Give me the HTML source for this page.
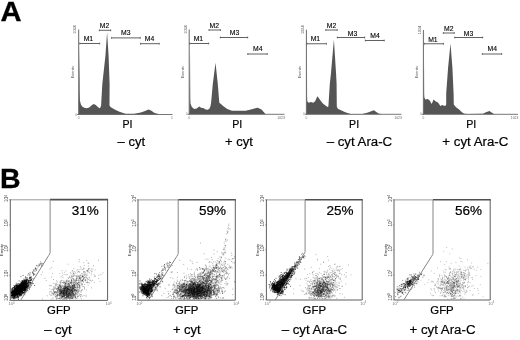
<!DOCTYPE html>
<html><head><meta charset="utf-8"><style>
html,body{margin:0;padding:0;background:#fff;}
body{width:520px;height:340px;overflow:hidden;}
svg{display:block;filter:blur(0.4px);font-family:"Liberation Sans", sans-serif;}
</style></head><body>
<svg width="520" height="340" viewBox="0 0 520 340">
<defs><filter id="bl" x="-5%" y="-5%" width="110%" height="110%"><feGaussianBlur stdDeviation="0.3"/></filter></defs>
<rect width="520" height="340" fill="#fff"/>
<text x="0.50" y="20.70" font-size="27" text-anchor="start" font-weight="bold" fill="#000" transform="scale(1.08 1)" stroke="#000" stroke-width="0.3">A</text>
<text x="-0.10" y="187.60" font-size="28.5" text-anchor="start" font-weight="bold" fill="#000" stroke="#000" stroke-width="0.3">B</text>
<polygon points="78.70,114.50 79.30,46.00 79.70,92.00 79.90,100.40 80.90,104.50 82.20,106.50 84.20,107.80 86.70,108.20 89.20,107.40 91.70,105.30 93.70,104.10 95.80,104.90 97.80,107.00 99.50,108.20 100.40,107.50 101.10,105.60 102.30,84.20 105.40,56.00 107.10,32.20 108.60,56.00 109.60,84.20 109.50,105.60 110.50,107.00 114.70,109.40 119.40,111.80 124.00,113.20 126.00,113.70 134.00,113.80 140.80,112.50 145.00,111.00 148.60,109.60 151.00,110.60 154.60,113.10 158.70,114.10 158.70,114.50" fill="#555555"/>
<line x1="78.7" y1="29.5" x2="78.7" y2="115.0" stroke="#6a6a6a" stroke-width="1"/>
<line x1="77.2" y1="114.5" x2="172.5" y2="114.5" stroke="#666" stroke-width="0.9"/>
<text x="76.40" y="29.50" font-size="3.8" text-anchor="middle" font-weight="normal" fill="#555" transform="rotate(-90 76.4 29.5)">1024</text>
<text x="73.70" y="72.20" font-size="4.0" text-anchor="middle" font-weight="normal" fill="#555" transform="rotate(-90 73.7 72.2)">Events</text>
<text x="76.20" y="115.50" font-size="3.2" text-anchor="middle" font-weight="normal" fill="#777" >0</text>
<text x="78.70" y="119.00" font-size="3.2" text-anchor="middle" font-weight="normal" fill="#777" >0</text>
<text x="172.80" y="119.10" font-size="3.4" text-anchor="end" font-weight="normal" fill="#666" >1</text>
<line x1="79.5" y1="43.5" x2="100" y2="43.5" stroke="#585858" stroke-width="0.95"/>
<line x1="79.8" y1="42.5" x2="79.8" y2="44.5" stroke="#585858" stroke-width="0.7"/>
<line x1="99.7" y1="42.5" x2="99.7" y2="44.5" stroke="#585858" stroke-width="0.7"/>
<text x="88.40" y="40.60" font-size="6.8" text-anchor="middle" font-weight="normal" fill="#000" stroke="#000" stroke-width="0.12">M1</text>
<line x1="99" y1="30.3" x2="111" y2="30.3" stroke="#585858" stroke-width="0.95"/>
<line x1="99.3" y1="29.3" x2="99.3" y2="31.3" stroke="#585858" stroke-width="0.7"/>
<line x1="110.7" y1="29.3" x2="110.7" y2="31.3" stroke="#585858" stroke-width="0.7"/>
<text x="104.50" y="28.00" font-size="6.8" text-anchor="middle" font-weight="normal" fill="#000" stroke="#000" stroke-width="0.12">M2</text>
<line x1="111.3" y1="37.9" x2="140.5" y2="37.9" stroke="#585858" stroke-width="0.95"/>
<line x1="111.6" y1="36.9" x2="111.6" y2="38.9" stroke="#585858" stroke-width="0.7"/>
<line x1="140.2" y1="36.9" x2="140.2" y2="38.9" stroke="#585858" stroke-width="0.7"/>
<text x="125.70" y="35.00" font-size="6.8" text-anchor="middle" font-weight="normal" fill="#000" stroke="#000" stroke-width="0.12">M3</text>
<line x1="140.2" y1="43.7" x2="159.5" y2="43.7" stroke="#585858" stroke-width="0.95"/>
<line x1="140.5" y1="42.7" x2="140.5" y2="44.7" stroke="#585858" stroke-width="0.7"/>
<line x1="159.2" y1="42.7" x2="159.2" y2="44.7" stroke="#585858" stroke-width="0.7"/>
<text x="149.60" y="40.80" font-size="6.8" text-anchor="middle" font-weight="normal" fill="#000" stroke="#000" stroke-width="0.12">M4</text>
<text x="127.50" y="127.90" font-size="10.6" text-anchor="middle" font-weight="normal" fill="#000" stroke="#000" stroke-width="0.2">PI</text>
<text x="131.30" y="146.30" font-size="13" text-anchor="middle" font-weight="normal" fill="#000" stroke="#000" stroke-width="0.2">&#8211; cyt</text>
<polygon points="189.20,114.30 190.00,50.00 190.30,98.00 190.50,103.60 191.80,106.90 194.20,109.00 196.70,108.60 199.20,106.50 201.20,107.80 203.70,108.20 205.80,109.40 207.80,109.80 209.50,108.60 210.40,106.60 211.10,102.80 212.80,84.00 215.50,62.80 217.80,84.00 219.30,102.80 221.20,104.20 223.10,106.10 227.30,108.90 232.00,110.80 245.60,110.80 250.90,109.60 256.20,108.00 257.80,107.80 261.50,109.60 265.70,114.20 265.70,114.30" fill="#555555"/>
<line x1="189.2" y1="29.5" x2="189.2" y2="114.8" stroke="#6a6a6a" stroke-width="1"/>
<line x1="187.7" y1="114.3" x2="284.5" y2="114.3" stroke="#666" stroke-width="0.9"/>
<text x="186.90" y="29.50" font-size="3.8" text-anchor="middle" font-weight="normal" fill="#555" transform="rotate(-90 186.89999999999998 29.5)">1024</text>
<text x="184.20" y="72.20" font-size="4.0" text-anchor="middle" font-weight="normal" fill="#555" transform="rotate(-90 184.2 72.2)">Events</text>
<text x="186.70" y="115.30" font-size="3.2" text-anchor="middle" font-weight="normal" fill="#777" >0</text>
<text x="189.20" y="118.80" font-size="3.2" text-anchor="middle" font-weight="normal" fill="#777" >0</text>
<text x="284.80" y="118.90" font-size="3.4" text-anchor="end" font-weight="normal" fill="#666" >1023</text>
<line x1="189.5" y1="43.5" x2="209" y2="43.5" stroke="#585858" stroke-width="0.95"/>
<line x1="189.8" y1="42.5" x2="189.8" y2="44.5" stroke="#585858" stroke-width="0.7"/>
<line x1="208.7" y1="42.5" x2="208.7" y2="44.5" stroke="#585858" stroke-width="0.7"/>
<text x="198.40" y="40.75" font-size="6.8" text-anchor="middle" font-weight="normal" fill="#000" stroke="#000" stroke-width="0.12">M1</text>
<line x1="208.75" y1="30" x2="220.75" y2="30" stroke="#585858" stroke-width="0.95"/>
<line x1="209.05" y1="29" x2="209.05" y2="31" stroke="#585858" stroke-width="0.7"/>
<line x1="220.45" y1="29" x2="220.45" y2="31" stroke="#585858" stroke-width="0.7"/>
<text x="214.25" y="27.50" font-size="6.8" text-anchor="middle" font-weight="normal" fill="#000" stroke="#000" stroke-width="0.12">M2</text>
<line x1="220" y1="37.5" x2="248" y2="37.5" stroke="#585858" stroke-width="0.95"/>
<line x1="220.3" y1="36.5" x2="220.3" y2="38.5" stroke="#585858" stroke-width="0.7"/>
<line x1="247.7" y1="36.5" x2="247.7" y2="38.5" stroke="#585858" stroke-width="0.7"/>
<text x="234.50" y="35.00" font-size="6.8" text-anchor="middle" font-weight="normal" fill="#000" stroke="#000" stroke-width="0.12">M3</text>
<line x1="247.5" y1="54" x2="267.5" y2="54" stroke="#585858" stroke-width="0.95"/>
<line x1="247.8" y1="53" x2="247.8" y2="55" stroke="#585858" stroke-width="0.7"/>
<line x1="267.2" y1="53" x2="267.2" y2="55" stroke="#585858" stroke-width="0.7"/>
<text x="257.75" y="51.00" font-size="6.8" text-anchor="middle" font-weight="normal" fill="#000" stroke="#000" stroke-width="0.12">M4</text>
<text x="237.30" y="127.90" font-size="10.6" text-anchor="middle" font-weight="normal" fill="#000" stroke="#000" stroke-width="0.2">PI</text>
<text x="238.90" y="146.30" font-size="13" text-anchor="middle" font-weight="normal" fill="#000" stroke="#000" stroke-width="0.2">+ cyt</text>
<polygon points="306.40,114.30 306.90,42.00 307.10,96.00 307.30,101.20 308.60,102.80 311.10,102.00 313.10,102.80 315.20,101.20 316.40,98.30 317.50,96.20 318.90,98.30 320.50,100.40 322.60,103.20 325.10,105.30 327.50,106.90 328.40,106.60 329.80,84.00 330.90,74.00 333.90,39.40 336.10,74.00 336.60,84.00 336.80,106.60 337.80,108.70 341.50,110.40 345.30,112.20 349.10,113.60 350.80,113.90 362.30,113.90 368.00,112.50 373.80,110.20 378.50,113.50 382.00,114.30 382.00,114.30" fill="#555555"/>
<line x1="306.4" y1="29.7" x2="306.4" y2="114.8" stroke="#6a6a6a" stroke-width="1"/>
<line x1="304.9" y1="114.3" x2="401.5" y2="114.3" stroke="#666" stroke-width="0.9"/>
<text x="304.10" y="29.70" font-size="3.8" text-anchor="middle" font-weight="normal" fill="#555" transform="rotate(-90 304.09999999999997 29.7)">1024</text>
<text x="301.40" y="72.20" font-size="4.0" text-anchor="middle" font-weight="normal" fill="#555" transform="rotate(-90 301.4 72.2)">Events</text>
<text x="303.90" y="115.30" font-size="3.2" text-anchor="middle" font-weight="normal" fill="#777" >0</text>
<text x="306.40" y="118.80" font-size="3.2" text-anchor="middle" font-weight="normal" fill="#777" >0</text>
<text x="401.80" y="118.90" font-size="3.4" text-anchor="end" font-weight="normal" fill="#666" >1023</text>
<line x1="306.5" y1="43.75" x2="326.75" y2="43.75" stroke="#585858" stroke-width="0.95"/>
<line x1="306.8" y1="42.75" x2="306.8" y2="44.75" stroke="#585858" stroke-width="0.7"/>
<line x1="326.45" y1="42.75" x2="326.45" y2="44.75" stroke="#585858" stroke-width="0.7"/>
<text x="315.40" y="40.75" font-size="6.8" text-anchor="middle" font-weight="normal" fill="#000" stroke="#000" stroke-width="0.12">M1</text>
<line x1="325.5" y1="30" x2="337.5" y2="30" stroke="#585858" stroke-width="0.95"/>
<line x1="325.8" y1="29" x2="325.8" y2="31" stroke="#585858" stroke-width="0.7"/>
<line x1="337.2" y1="29" x2="337.2" y2="31" stroke="#585858" stroke-width="0.7"/>
<text x="331.60" y="27.50" font-size="6.8" text-anchor="middle" font-weight="normal" fill="#000" stroke="#000" stroke-width="0.12">M2</text>
<line x1="337" y1="37.5" x2="365" y2="37.5" stroke="#585858" stroke-width="0.95"/>
<line x1="337.3" y1="36.5" x2="337.3" y2="38.5" stroke="#585858" stroke-width="0.7"/>
<line x1="364.7" y1="36.5" x2="364.7" y2="38.5" stroke="#585858" stroke-width="0.7"/>
<text x="352.50" y="35.50" font-size="6.8" text-anchor="middle" font-weight="normal" fill="#000" stroke="#000" stroke-width="0.12">M3</text>
<line x1="365" y1="40.5" x2="384.5" y2="40.5" stroke="#585858" stroke-width="0.95"/>
<line x1="365.3" y1="39.5" x2="365.3" y2="41.5" stroke="#585858" stroke-width="0.7"/>
<line x1="384.2" y1="39.5" x2="384.2" y2="41.5" stroke="#585858" stroke-width="0.7"/>
<text x="375.00" y="38.00" font-size="6.8" text-anchor="middle" font-weight="normal" fill="#000" stroke="#000" stroke-width="0.12">M4</text>
<text x="354.10" y="127.60" font-size="10.6" text-anchor="middle" font-weight="normal" fill="#000" stroke="#000" stroke-width="0.2">PI</text>
<text x="359.40" y="146.30" font-size="13.25" text-anchor="middle" font-weight="normal" fill="#000" stroke="#000" stroke-width="0.2">&#8211; cyt Ara-C</text>
<polygon points="423.40,114.30 424.00,58.00 424.20,94.00 424.40,97.60 425.30,99.60 427.80,99.10 429.70,100.50 431.70,103.90 433.60,99.60 435.50,101.20 438.00,102.50 440.40,105.90 442.30,104.90 443.30,105.40 445.20,105.90 446.20,104.50 446.20,93.40 448.10,67.50 450.50,43.60 452.40,67.50 453.60,93.40 453.80,104.50 456.00,107.20 459.10,109.50 462.20,112.60 464.50,113.70 468.00,114.00 483.00,113.70 485.40,112.50 489.40,111.10 493.50,113.70 495.00,114.30 495.00,114.30" fill="#555555"/>
<line x1="423.4" y1="30" x2="423.4" y2="114.8" stroke="#6a6a6a" stroke-width="1"/>
<line x1="421.9" y1="114.3" x2="518.0" y2="114.3" stroke="#666" stroke-width="0.9"/>
<text x="421.10" y="30.00" font-size="3.8" text-anchor="middle" font-weight="normal" fill="#555" transform="rotate(-90 421.09999999999997 30)">1024</text>
<text x="418.40" y="72.20" font-size="4.0" text-anchor="middle" font-weight="normal" fill="#555" transform="rotate(-90 418.4 72.2)">Events</text>
<text x="420.90" y="115.30" font-size="3.2" text-anchor="middle" font-weight="normal" fill="#777" >0</text>
<text x="423.40" y="118.80" font-size="3.2" text-anchor="middle" font-weight="normal" fill="#777" >0</text>
<text x="518.30" y="118.90" font-size="3.4" text-anchor="end" font-weight="normal" fill="#666" >1023</text>
<line x1="424" y1="43.75" x2="443.75" y2="43.75" stroke="#585858" stroke-width="0.95"/>
<line x1="424.3" y1="42.75" x2="424.3" y2="44.75" stroke="#585858" stroke-width="0.7"/>
<line x1="443.45" y1="42.75" x2="443.45" y2="44.75" stroke="#585858" stroke-width="0.7"/>
<text x="432.90" y="41.75" font-size="6.8" text-anchor="middle" font-weight="normal" fill="#000" stroke="#000" stroke-width="0.12">M1</text>
<line x1="443" y1="33" x2="454.5" y2="33" stroke="#585858" stroke-width="0.95"/>
<line x1="443.3" y1="32" x2="443.3" y2="34" stroke="#585858" stroke-width="0.7"/>
<line x1="454.2" y1="32" x2="454.2" y2="34" stroke="#585858" stroke-width="0.7"/>
<text x="448.75" y="30.50" font-size="6.8" text-anchor="middle" font-weight="normal" fill="#000" stroke="#000" stroke-width="0.12">M2</text>
<line x1="454.5" y1="37.5" x2="483" y2="37.5" stroke="#585858" stroke-width="0.95"/>
<line x1="454.8" y1="36.5" x2="454.8" y2="38.5" stroke="#585858" stroke-width="0.7"/>
<line x1="482.7" y1="36.5" x2="482.7" y2="38.5" stroke="#585858" stroke-width="0.7"/>
<text x="468.50" y="35.50" font-size="6.8" text-anchor="middle" font-weight="normal" fill="#000" stroke="#000" stroke-width="0.12">M3</text>
<line x1="482" y1="54" x2="502" y2="54" stroke="#585858" stroke-width="0.95"/>
<line x1="482.3" y1="53" x2="482.3" y2="55" stroke="#585858" stroke-width="0.7"/>
<line x1="501.7" y1="53" x2="501.7" y2="55" stroke="#585858" stroke-width="0.7"/>
<text x="492.25" y="51.25" font-size="6.8" text-anchor="middle" font-weight="normal" fill="#000" stroke="#000" stroke-width="0.12">M4</text>
<text x="471.20" y="127.60" font-size="10.6" text-anchor="middle" font-weight="normal" fill="#000" stroke="#000" stroke-width="0.2">PI</text>
<text x="475.30" y="146.30" font-size="13.25" text-anchor="middle" font-weight="normal" fill="#000" stroke="#000" stroke-width="0.2">+ cyt Ara-C</text>
<path d="M18.2 286.3h1M21.0 287.1h1M15.4 285.4h1M13.6 288.6h1M18.2 290.3h1M14.2 290.2h1M20.0 288.0h1M25.6 283.5h1M20.9 293.8h1M19.3 293.1h1M22.0 286.7h1M23.4 289.4h1M19.2 286.7h1M15.5 291.2h1M21.3 290.3h1M21.1 283.7h1M13.8 292.8h1M16.0 287.7h1M12.0 295.6h1M17.0 296.1h1M10.9 293.7h1M19.3 289.8h1M13.2 291.4h1M19.4 285.4h1M18.8 285.7h1M21.4 291.8h1M18.4 291.3h1M18.7 287.4h1M21.6 289.4h1M12.9 293.4h1M19.2 291.7h1M16.3 292.6h1M17.0 291.9h1M25.5 285.8h1M15.6 290.3h1M19.2 287.9h1M21.1 282.2h1M16.8 289.8h1M17.3 286.3h1M20.3 287.8h1M18.8 286.5h1M14.9 293.1h1M21.0 289.1h1M23.6 281.0h1M12.1 292.6h1M22.2 283.7h1M21.7 289.4h1M19.9 293.9h1M29.9 282.9h1M22.7 285.1h1M17.1 295.5h1M18.0 285.4h1M24.8 289.2h1M18.2 288.0h1M18.6 280.9h1M23.8 293.6h1M25.3 289.0h1M24.6 281.4h1M17.4 291.2h1M20.5 287.4h1M18.2 290.4h1M18.3 285.3h1M13.9 291.5h1M18.2 291.4h1M19.5 289.6h1M25.7 287.5h1M25.0 284.5h1M17.9 297.6h1M15.5 290.0h1M23.2 286.6h1M16.1 287.9h1M21.6 291.3h1M23.9 282.2h1M23.8 287.0h1M18.5 289.6h1M16.8 287.9h1M18.4 288.8h1M25.7 282.1h1M17.4 289.1h1M19.9 291.0h1M22.5 288.4h1M18.6 287.9h1M17.8 287.5h1M15.7 293.0h1M19.8 288.4h1M19.7 292.0h1M29.1 289.2h1M24.1 287.7h1M19.8 288.5h1M22.6 285.8h1M17.2 288.1h1M23.1 283.0h1M18.4 286.7h1M21.9 285.7h1M13.8 292.4h1M22.6 288.6h1M12.1 293.8h1M11.0 295.5h1M16.8 287.4h1M18.7 294.8h1M21.5 288.8h1M32.4 283.7h1M17.7 293.0h1M19.6 293.5h1M20.5 287.3h1M23.2 288.0h1M23.4 294.1h1M17.2 287.0h1M24.8 288.1h1M24.8 289.8h1M16.2 293.0h1M20.8 290.2h1M22.1 290.7h1M14.4 291.1h1M21.8 288.3h1M14.9 290.0h1M23.1 283.7h1M19.9 286.6h1M20.2 287.9h1M17.7 290.9h1M20.2 289.8h1M18.3 296.3h1M23.4 289.4h1M12.0 297.5h1M23.1 284.8h1M12.4 294.6h1M24.1 286.8h1M17.0 292.3h1M20.7 282.5h1M21.7 289.4h1M18.0 299.5h1M22.4 280.5h1M27.8 285.2h1M20.3 289.4h1M18.6 289.3h1M21.5 291.7h1M13.9 289.8h1M25.0 284.9h1M20.0 293.2h1M19.5 288.3h1M15.9 290.6h1M17.5 291.0h1M13.8 292.3h1M27.8 286.9h1M17.9 287.3h1M25.5 286.7h1M18.1 286.1h1M18.1 292.3h1M18.4 289.5h1M13.5 285.6h1M20.0 288.5h1M16.7 287.8h1M18.0 288.7h1M16.5 296.4h1M14.8 289.3h1M25.4 280.5h1M19.4 293.6h1M15.7 292.5h1M23.9 290.2h1M26.6 284.0h1M12.4 292.1h1M19.0 289.1h1M19.2 293.1h1M13.9 296.6h1M23.2 285.9h1M20.0 288.7h1M20.1 288.0h1M15.9 290.1h1M25.0 290.5h1M17.7 290.5h1M17.6 286.9h1M14.5 291.6h1M15.9 294.3h1M26.7 284.9h1M17.6 290.1h1M20.2 286.2h1M19.9 288.7h1M15.5 286.9h1M15.8 287.9h1M24.0 287.7h1M17.9 288.7h1M19.9 289.8h1M22.0 290.7h1M26.1 285.5h1M23.0 286.1h1M25.0 291.1h1M18.6 291.8h1M13.5 292.8h1M25.2 286.5h1M24.8 285.8h1M18.0 287.4h1M22.4 286.7h1M23.1 285.4h1M20.4 281.8h1M23.7 284.9h1M17.6 289.6h1M25.8 282.2h1M12.0 289.9h1M23.1 284.7h1M22.1 286.6h1M23.9 285.5h1M26.3 279.6h1M27.4 284.4h1M13.2 290.3h1M12.4 294.2h1M25.6 288.0h1M14.5 290.8h1M19.1 287.6h1M25.3 287.5h1M12.3 293.7h1M21.5 288.0h1M21.9 290.3h1M15.5 285.2h1M18.9 286.8h1M14.7 289.7h1M11.8 291.9h1M17.9 287.5h1M14.5 290.4h1M13.4 295.0h1M20.8 285.0h1M19.9 289.0h1M22.4 287.8h1M14.6 290.7h1M17.4 291.1h1M18.3 295.2h1M16.7 292.3h1M19.8 286.6h1M16.5 291.2h1M20.1 285.5h1M21.9 287.8h1M30.0 282.8h1M12.7 292.0h1M23.5 284.9h1M21.4 290.9h1M19.2 287.6h1M14.1 294.1h1M16.4 288.2h1M21.9 284.3h1M18.8 287.8h1M23.7 292.2h1M18.1 288.8h1M24.1 283.4h1M19.0 287.5h1M18.0 292.2h1M11.8 295.9h1M18.1 290.8h1M28.0 286.4h1M20.6 288.8h1M15.9 293.8h1M13.7 289.2h1M24.7 284.2h1M20.6 287.8h1M19.8 287.9h1M16.4 284.7h1M21.5 290.0h1M22.9 284.9h1M21.7 285.7h1M20.5 287.3h1M15.2 291.8h1M22.8 287.4h1M15.1 288.6h1M23.3 282.9h1M15.0 293.6h1M19.6 289.3h1M19.4 287.8h1M13.4 292.2h1M26.1 280.8h1M26.2 283.1h1M19.8 292.3h1M21.7 283.8h1M24.0 289.9h1M20.4 286.8h1M20.9 290.2h1M18.1 285.5h1M12.7 289.2h1M16.9 287.1h1M18.6 288.4h1M24.6 283.6h1M20.6 286.3h1M20.1 288.7h1M23.3 279.1h1M18.4 291.4h1M16.1 287.3h1M11.2 293.8h1M26.1 282.1h1M22.4 282.9h1M21.8 282.7h1M21.3 284.2h1M20.5 288.1h1M21.8 288.8h1M19.8 290.4h1M17.6 287.4h1M19.0 286.8h1M25.1 281.4h1M23.1 287.3h1M16.6 285.0h1M19.4 292.9h1M16.5 289.9h1M25.7 281.3h1M22.7 287.3h1M21.9 290.2h1M19.0 290.4h1M16.9 294.4h1M19.9 289.0h1M25.6 287.6h1M20.2 292.2h1M18.9 289.1h1M21.3 291.9h1M20.7 288.4h1M13.3 294.4h1M17.6 287.7h1M15.9 291.0h1M25.0 286.7h1M14.7 288.9h1M23.5 287.6h1M27.1 283.7h1M19.1 290.1h1M14.0 286.6h1M20.7 287.6h1M21.0 289.7h1M14.6 290.7h1M22.1 287.0h1M25.0 276.9h1M19.9 290.7h1M18.1 288.0h1M16.9 293.9h1M18.5 284.0h1M15.7 294.3h1M14.9 292.0h1M26.7 285.4h1M14.7 290.1h1M23.7 283.5h1M30.0 287.1h1M19.8 286.0h1M21.3 285.2h1M27.9 281.0h1M17.6 287.3h1M19.3 292.8h1M16.9 296.5h1M19.1 287.1h1M23.7 280.0h1M25.9 287.2h1M17.7 293.9h1M17.6 293.1h1M19.6 292.4h1M19.9 285.9h1M18.9 288.9h1M18.8 285.2h1M19.1 284.8h1M20.2 291.4h1M18.8 287.4h1M24.4 291.9h1M19.8 288.9h1M21.2 285.5h1M29.3 283.2h1M25.3 289.7h1M21.0 289.2h1M10.9 292.3h1M22.2 287.8h1M13.8 298.0h1M13.2 292.7h1M22.5 284.0h1M24.6 287.8h1M19.6 289.3h1M11.0 292.6h1M17.8 289.1h1M15.9 289.6h1M23.2 286.8h1M29.9 280.6h1M22.7 289.8h1M17.8 292.6h1M12.6 289.8h1M20.4 289.5h1M20.6 290.8h1M15.8 293.5h1M22.1 290.0h1M14.2 291.6h1M23.3 282.7h1M26.0 286.4h1M23.0 282.6h1M14.6 286.2h1M23.8 288.5h1M18.3 287.6h1M17.9 289.3h1M16.4 287.2h1M12.4 290.7h1M12.0 291.6h1M22.9 285.0h1M19.8 289.9h1M17.4 283.5h1M25.5 286.3h1M15.0 289.4h1M21.8 289.1h1M21.6 287.0h1M16.0 287.0h1M27.3 288.2h1M19.6 286.2h1M15.2 293.3h1M16.3 292.2h1M25.6 288.2h1M21.3 286.0h1M13.4 297.2h1M24.6 282.3h1M24.3 288.4h1M24.6 282.3h1M17.8 289.2h1M21.7 293.1h1M15.7 293.1h1M31.1 279.6h1M22.7 293.3h1M27.4 283.4h1M16.0 289.3h1M21.8 289.3h1M11.0 292.3h1M20.1 292.0h1M26.1 287.2h1M13.7 292.0h1M23.6 283.5h1M21.7 287.6h1M15.5 292.3h1M16.3 288.5h1M18.9 291.2h1M16.6 284.9h1M17.0 289.6h1M15.8 290.7h1M18.3 289.1h1M16.1 292.8h1M12.6 290.9h1M20.7 289.8h1M23.5 285.0h1M12.4 292.8h1M17.9 286.0h1M15.4 288.7h1M16.4 292.7h1M22.2 283.7h1M17.9 290.5h1M28.1 285.1h1M18.2 293.2h1M24.1 290.0h1M18.6 288.8h1M15.1 289.2h1M24.1 288.3h1M19.8 289.6h1M24.3 288.4h1M19.8 288.7h1M17.2 294.6h1M20.9 290.4h1M21.3 289.6h1M24.9 286.0h1M16.7 292.5h1M20.2 289.1h1M13.0 295.1h1M24.3 288.0h1M14.6 291.5h1M14.9 298.2h1M19.6 288.5h1M26.3 286.3h1M13.3 293.8h1M15.0 292.0h1M19.9 294.9h1M14.7 292.0h1M19.7 284.8h1M15.4 290.1h1M16.4 290.5h1M25.8 290.4h1M17.1 291.6h1M23.3 288.7h1M14.3 290.2h1M15.3 293.5h1M13.2 296.3h1M30.8 285.1h1M17.6 288.4h1M22.0 288.7h1M20.3 289.2h1M19.1 286.0h1M20.2 288.3h1M27.8 281.1h1M12.0 288.0h1M14.2 295.2h1M16.5 293.1h1M13.6 292.5h1M21.1 283.4h1M25.8 288.3h1M16.3 292.4h1M15.6 295.4h1M20.7 292.4h1M25.2 282.5h1M21.9 286.2h1M15.3 292.3h1M24.3 284.6h1M15.4 292.4h1M20.5 291.6h1M13.7 294.1h1M15.6 291.7h1M25.5 283.0h1M24.0 286.2h1M16.9 288.3h1M15.5 290.7h1M11.8 295.2h1M17.4 288.9h1M19.7 288.4h1M18.7 287.7h1M22.7 292.5h1M17.2 295.0h1M20.4 289.6h1M19.8 288.5h1M28.9 287.9h1M28.5 282.4h1M19.3 288.8h1M17.2 291.8h1M20.2 289.3h1M19.6 293.3h1M16.8 291.1h1M23.0 292.6h1M14.2 290.6h1M23.7 287.6h1M18.0 287.0h1M23.9 290.9h1M18.7 288.6h1M16.8 291.0h1M17.4 293.6h1M20.9 291.7h1M15.9 288.4h1M20.5 287.0h1M17.8 286.0h1M14.4 293.7h1M20.1 288.1h1M13.7 292.7h1M16.3 289.5h1M18.1 288.9h1M21.2 289.1h1M23.0 290.7h1M16.3 285.5h1M18.0 289.8h1M17.8 289.1h1M16.6 292.9h1M17.4 287.7h1M17.4 290.2h1M18.8 286.3h1M15.9 294.1h1M21.2 287.8h1M20.4 287.7h1M20.0 289.7h1M17.7 289.6h1M20.0 283.7h1M13.8 295.6h1M22.4 287.4h1M20.8 287.3h1M22.7 289.3h1M23.5 289.4h1M15.5 288.8h1M17.7 288.0h1M25.1 289.1h1M24.0 289.6h1M19.7 286.4h1M11.7 291.8h1M21.3 285.4h1M24.2 283.4h1M21.9 282.0h1M21.1 287.7h1M11.3 291.8h1M22.2 282.9h1M20.8 290.7h1M21.5 287.0h1M14.6 295.0h1M15.7 294.7h1M16.8 290.2h1M25.5 284.0h1M17.1 288.3h1M23.9 290.7h1M28.5 283.4h1M25.1 280.7h1M19.6 288.9h1M20.1 290.7h1M15.3 293.9h1M19.8 294.4h1M23.9 289.5h1M20.9 286.1h1M20.3 287.9h1M22.3 282.6h1M17.1 291.7h1M20.0 289.0h1M27.3 290.8h1M22.7 286.6h1M21.4 280.8h1M20.7 285.8h1M18.8 289.8h1M19.6 284.9h1M14.4 290.5h1M12.4 293.7h1M23.0 287.0h1M19.5 288.4h1M20.0 285.8h1M13.9 296.1h1M17.6 288.8h1M16.7 289.7h1M14.2 289.1h1M19.6 290.9h1M21.4 282.3h1M21.5 287.0h1M18.5 292.0h1M19.4 287.9h1M23.6 286.2h1M21.5 291.4h1M24.0 288.6h1M23.3 286.5h1M24.6 279.2h1M23.3 282.5h1M22.8 289.2h1M23.9 290.6h1M23.8 286.2h1M19.6 292.7h1M18.9 287.5h1M23.6 284.9h1M28.4 281.5h1M20.0 289.9h1M17.4 285.9h1M22.3 289.5h1M27.8 286.1h1M18.1 286.5h1M24.2 280.7h1M16.4 292.6h1M18.2 288.0h1M15.5 284.9h1M24.6 287.2h1M24.7 285.0h1M12.8 293.1h1M19.3 295.7h1M21.7 287.5h1M16.0 289.5h1M13.6 294.2h1M22.9 282.8h1M20.9 285.3h1M22.7 287.4h1M17.1 289.2h1M23.7 284.0h1M21.5 292.4h1M26.0 286.1h1M17.3 293.3h1M17.2 292.5h1M21.6 288.7h1M19.2 293.7h1M22.9 286.0h1M24.0 291.0h1M14.6 290.1h1M19.9 287.8h1M16.4 287.2h1M23.4 284.6h1M18.1 291.7h1M20.4 292.7h1M24.2 282.9h1M29.6 280.5h1M28.0 280.6h1M19.1 286.9h1M19.1 285.5h1M26.7 283.1h1M16.8 285.8h1M16.0 292.2h1M20.5 288.1h1M20.9 285.7h1M14.9 289.6h1M10.8 291.9h1M16.7 297.1h1M20.8 283.6h1M19.1 294.1h1M20.3 290.1h1M20.4 287.1h1M20.9 284.1h1M20.2 291.6h1M24.8 289.9h1M14.7 290.0h1M18.0 289.3h1M17.2 294.1h1M25.4 285.0h1M23.0 292.3h1M15.9 290.1h1M19.3 290.8h1M17.1 287.0h1M26.2 289.8h1M12.0 292.9h1M12.1 288.2h1M18.2 289.6h1M30.6 279.1h1M27.1 288.6h1M19.0 288.3h1M23.0 285.9h1M29.7 282.2h1M21.4 292.3h1M18.3 289.7h1M26.8 286.0h1M22.9 287.7h1M22.4 285.5h1M17.9 290.5h1M28.3 281.6h1M25.9 280.7h1M24.3 288.7h1M20.8 283.5h1M13.1 298.0h1M24.2 288.0h1M19.0 289.0h1M20.7 285.5h1M22.6 285.6h1M19.3 290.6h1M13.9 296.0h1M22.0 287.7h1M18.4 293.0h1M17.7 288.7h1M17.8 291.1h1M16.1 286.8h1M11.3 298.2h1M25.5 284.4h1M20.4 286.8h1M26.6 286.6h1M29.6 282.6h1M15.8 283.2h1M12.3 295.1h1M13.9 289.0h1M16.5 294.8h1M21.7 294.9h1M19.5 287.3h1M11.5 295.8h1M21.1 286.8h1M14.1 294.6h1M22.3 288.6h1M21.5 291.3h1M17.1 287.8h1M22.1 291.7h1M16.2 288.7h1M17.8 291.2h1M14.6 296.7h1M21.0 289.9h1M26.5 280.1h1M27.4 280.1h1M25.0 282.9h1M22.9 285.9h1M18.9 293.0h1M24.2 280.9h1M20.5 289.6h1M20.6 289.9h1M19.6 290.6h1M21.1 289.0h1M20.5 292.9h1M20.4 289.7h1M16.7 294.0h1M19.3 290.9h1M32.5 283.6h1M16.8 285.3h1M21.0 291.7h1M21.9 286.1h1M22.6 285.4h1M13.7 290.7h1M16.2 285.8h1M23.4 284.5h1M20.1 286.3h1M21.3 289.0h1M24.4 280.2h1M19.3 293.6h1M20.8 288.7h1M17.4 289.9h1M25.3 281.8h1M15.4 288.8h1M16.9 289.4h1M22.9 286.1h1M22.3 286.0h1M23.8 280.9h1M12.8 293.7h1M21.8 284.2h1M19.0 289.8h1M20.0 294.3h1M23.3 287.7h1M15.6 291.2h1M16.2 287.2h1M11.0 290.8h1M18.3 292.2h1M20.4 285.8h1M21.4 287.5h1M25.8 281.6h1M19.3 289.4h1M15.6 296.6h1M15.7 290.0h1M15.5 291.2h1M13.5 291.4h1M23.2 288.5h1M15.6 288.9h1M20.8 283.4h1M17.3 286.3h1M22.3 288.1h1M24.4 292.8h1M21.2 284.4h1M21.6 290.1h1M25.7 284.5h1M20.1 284.9h1M21.3 286.6h1M21.4 286.6h1M12.7 292.5h1M22.3 292.6h1M15.9 285.9h1M21.5 288.5h1M14.7 294.0h1M26.1 281.6h1M20.7 288.4h1M16.2 294.5h1M12.9 294.9h1M19.4 290.3h1M20.7 290.1h1M13.8 287.3h1M22.7 290.9h1M20.8 295.0h1M23.9 288.3h1M18.5 293.0h1M17.7 286.0h1M24.0 284.8h1M29.8 277.8h1M14.8 291.0h1M19.5 291.9h1M15.2 290.0h1M23.2 285.4h1M12.1 289.1h1M17.7 290.0h1M20.0 288.8h1M14.7 290.7h1M14.8 290.6h1M20.9 293.7h1M12.2 291.8h1M17.0 288.5h1M22.5 290.2h1M22.4 293.0h1M12.9 295.5h1M16.9 288.9h1M22.8 284.8h1M24.0 288.5h1M18.3 287.1h1M18.4 294.4h1M24.9 288.8h1M17.6 290.7h1M16.0 293.9h1M17.7 292.8h1M28.6 286.1h1M19.3 285.8h1M26.8 286.5h1M17.4 289.5h1M22.8 283.7h1M17.6 290.9h1M19.0 288.7h1M29.1 277.7h1M20.8 282.8h1M16.4 288.6h1M21.9 291.5h1M24.4 290.9h1M26.2 285.3h1M19.7 292.4h1M11.7 293.8h1M18.7 289.4h1M20.5 289.0h1M18.8 286.1h1M24.1 281.9h1M21.5 287.5h1M23.0 285.0h1M13.6 290.5h1M24.3 286.1h1M28.6 280.5h1M24.9 287.6h1M21.1 287.6h1M20.2 287.4h1M27.9 282.3h1M15.8 291.5h1M18.5 287.7h1M21.4 286.1h1M24.3 287.2h1M19.1 291.3h1M23.3 289.8h1M16.2 286.4h1M19.9 287.3h1M18.8 288.2h1M15.4 292.9h1M19.2 287.7h1M23.0 284.4h1M17.1 293.4h1M19.2 289.7h1M21.1 284.0h1M17.5 294.8h1M22.3 289.7h1M14.6 291.3h1M26.1 285.9h1M28.8 278.8h1M30.4 283.3h1M18.7 288.9h1M21.9 284.4h1M19.9 287.4h1M19.3 286.7h1M26.9 283.3h1M14.6 293.6h1M24.6 284.8h1M18.9 287.7h1M20.4 276.7h1M20.9 288.0h1M14.2 287.4h1M21.6 288.0h1M24.9 287.9h1M20.6 288.9h1M21.5 286.0h1M17.5 290.0h1M23.0 284.3h1M22.1 284.9h1M19.2 286.3h1M22.1 290.4h1M24.4 284.7h1M19.5 291.9h1M16.6 290.6h1M19.3 289.3h1M24.8 283.9h1M14.8 294.3h1M26.4 285.7h1M17.6 291.2h1M14.2 291.2h1M24.2 282.5h1M22.1 291.9h1M14.0 292.7h1M18.0 289.3h1M26.3 287.8h1M26.8 286.2h1M19.0 291.0h1M21.1 286.3h1M26.7 290.3h1M17.8 291.5h1M22.4 288.2h1M19.6 288.3h1M15.5 287.8h1M15.8 287.8h1M20.9 289.0h1M20.7 289.1h1M17.2 290.1h1M16.4 287.9h1M22.6 281.8h1M20.4 287.1h1M21.6 282.6h1M26.5 285.8h1M24.3 288.5h1M34.1 285.5h1M17.8 293.1h1M22.6 284.5h1M17.3 288.0h1M22.6 275.5h1M26.4 281.3h1M11.3 295.2h1M17.3 293.8h1M23.8 287.2h1M24.3 286.7h1M23.5 286.2h1M20.7 290.0h1M24.2 289.5h1M21.2 284.2h1M19.0 287.9h1M22.3 282.2h1M24.7 288.6h1M16.7 293.6h1M22.3 282.8h1M19.3 289.6h1M15.8 291.3h1M21.7 287.3h1M15.8 291.4h1M16.9 292.7h1M12.7 293.4h1M21.2 290.2h1M22.5 287.2h1M23.9 284.3h1M19.2 288.8h1M23.8 283.9h1M21.3 289.9h1M19.2 288.3h1M22.9 287.0h1M23.9 284.0h1M16.2 287.0h1M20.4 291.0h1M17.7 287.1h1M21.4 289.5h1M16.8 292.5h1M21.9 281.8h1M16.8 288.2h1M21.2 285.9h1M15.2 290.0h1M19.7 285.0h1M22.8 288.5h1M17.8 289.6h1M29.3 281.9h1M20.9 286.4h1M28.1 282.7h1M23.0 283.7h1M17.1 290.8h1M19.3 290.9h1M21.9 287.0h1M19.6 287.4h1M18.5 286.3h1M19.0 289.8h1M12.8 295.6h1M18.6 288.8h1M22.4 288.2h1M20.7 295.7h1M16.5 290.5h1M19.6 289.9h1M21.8 288.2h1M12.7 295.0h1M14.3 291.0h1M13.4 298.4h1M15.5 291.5h1M25.6 281.3h1M15.1 291.9h1M23.1 286.5h1M13.3 292.4h1M21.2 287.3h1M16.5 287.2h1M19.4 288.3h1M23.6 287.9h1M30.6 285.8h1M21.9 289.1h1M21.0 288.6h1M17.7 294.2h1M24.1 288.3h1M21.5 292.4h1M25.2 287.5h1M19.6 288.4h1M27.9 282.7h1M11.8 296.0h1M19.2 290.1h1M24.1 285.7h1M17.3 288.3h1M13.4 287.5h1M17.8 288.2h1M11.0 289.7h1M20.6 288.2h1M30.5 279.7h1M22.3 281.3h1M16.3 293.8h1M17.6 293.2h1M18.4 290.1h1M26.9 288.0h1M19.4 294.9h1M15.2 288.8h1M25.4 287.2h1M24.4 286.2h1M19.0 290.6h1M16.6 294.2h1M12.2 292.8h1M16.1 289.9h1M22.1 284.4h1M17.1 290.6h1M19.8 284.1h1M26.4 279.9h1M25.9 285.3h1M15.0 292.5h1M24.3 286.1h1M22.1 280.9h1M15.6 289.7h1M15.1 290.9h1M19.6 289.0h1M12.2 293.2h1M27.7 284.9h1M15.3 292.5h1M18.9 289.5h1M20.1 290.6h1M20.0 287.0h1M22.9 289.6h1M19.8 290.1h1M25.1 284.7h1M10.9 296.3h1M20.8 289.5h1M18.5 292.9h1M22.0 289.8h1M21.5 288.4h1M17.4 293.4h1M17.4 291.0h1M25.3 287.9h1M21.5 287.2h1M13.9 287.1h1M30.8 283.6h1M30.1 280.4h1M11.9 291.6h1M21.0 287.0h1M29.4 277.8h1M26.6 289.5h1M21.7 288.6h1M16.7 286.4h1M18.5 291.5h1M18.5 288.5h1M20.6 294.0h1M21.6 283.9h1M14.8 285.8h1M18.2 290.2h1M14.3 292.2h1M19.1 287.9h1M12.9 287.8h1M19.9 289.9h1M27.1 287.8h1M18.6 283.7h1M24.0 288.8h1M20.7 286.2h1M23.9 292.6h1M20.1 289.8h1M18.4 289.3h1M25.0 287.8h1M16.2 293.4h1M24.8 282.6h1M21.2 289.7h1M16.0 290.3h1M15.1 287.0h1M20.2 294.7h1M20.1 287.3h1M16.0 290.0h1M25.4 285.0h1M14.2 288.4h1M16.1 290.2h1M19.9 288.8h1M26.3 286.8h1M22.0 285.3h1M15.0 294.2h1M17.7 292.3h1M26.0 280.1h1M21.7 287.8h1M18.6 286.8h1M26.2 286.7h1M31.2 280.5h1M25.6 283.9h1M18.5 285.5h1M21.7 287.4h1M21.5 284.9h1M18.5 292.0h1M15.3 292.1h1M19.0 286.8h1M17.4 293.6h1M20.8 290.0h1M19.5 287.1h1M31.8 282.2h1M15.9 291.0h1M19.0 288.4h1M19.5 289.3h1M20.7 285.5h1M23.8 283.9h1M17.6 290.0h1M18.8 294.3h1M15.3 297.2h1M15.6 291.4h1M24.8 289.5h1M20.1 288.3h1M16.2 292.9h1M19.8 291.5h1M20.6 288.9h1M25.9 291.1h1M17.8 291.1h1M17.1 287.2h1M14.2 297.4h1M14.4 291.9h1M26.5 282.1h1M20.1 291.6h1M22.2 289.2h1M19.6 291.3h1M18.0 293.2h1M22.3 291.8h1M19.9 288.4h1M21.1 290.5h1M18.8 288.4h1M18.0 293.5h1M18.3 291.2h1M18.9 285.2h1M23.3 286.9h1M23.6 284.9h1M16.6 288.8h1M24.6 286.0h1M24.4 283.5h1M22.5 281.5h1M24.2 281.5h1M22.1 292.3h1M16.9 286.3h1M23.9 285.9h1M15.1 294.5h1M21.9 288.9h1M15.8 288.2h1M17.9 289.2h1M12.7 295.0h1M17.4 293.2h1M18.9 287.4h1M22.0 283.2h1M25.8 286.8h1M21.4 290.8h1M19.8 289.9h1M15.5 290.4h1M22.4 287.8h1M19.1 289.6h1M23.9 287.9h1M25.6 279.9h1M20.0 288.8h1M13.3 293.6h1M14.6 289.6h1M14.1 294.1h1M14.9 292.9h1M25.0 283.0h1M21.6 288.4h1M11.3 291.4h1M22.7 286.0h1M26.1 284.8h1M18.9 290.3h1M18.8 292.9h1M16.7 287.5h1M18.9 284.7h1M23.1 286.6h1M25.8 285.1h1M28.5 288.0h1M26.0 285.4h1M24.5 282.0h1M24.1 287.6h1M12.1 292.5h1M17.1 286.2h1M25.4 292.2h1M18.9 290.5h1M25.0 286.5h1M19.3 290.8h1M18.8 295.2h1M26.6 283.8h1M24.7 288.3h1M19.4 285.8h1M21.8 282.6h1M26.8 287.3h1M23.7 290.0h1M17.5 291.3h1M18.3 290.4h1M14.7 290.8h1M23.2 290.6h1M26.1 285.4h1M18.7 291.2h1M15.7 293.3h1M30.3 283.1h1M18.8 291.1h1M15.9 294.3h1M19.2 285.5h1M22.6 287.9h1M20.3 295.1h1M22.6 284.7h1M17.7 290.0h1M17.4 293.5h1M22.2 289.6h1M24.3 286.9h1M14.8 287.8h1M22.2 288.2h1M17.8 286.7h1M30.8 276.8h1M17.8 292.1h1M25.5 283.0h1M21.0 290.2h1M24.3 294.7h1M24.3 287.3h1M25.0 286.6h1M24.1 282.3h1M20.4 286.1h1M15.8 288.7h1M16.9 289.5h1M20.5 284.7h1M21.5 285.2h1M25.7 283.1h1M20.3 285.2h1M22.4 282.1h1M24.4 280.5h1M21.4 288.7h1M13.7 294.0h1M16.5 294.6h1M15.4 295.6h1M26.3 282.1h1M17.4 292.8h1M23.1 281.4h1M26.0 290.6h1M29.2 284.5h1M24.0 284.5h1M17.8 286.7h1M19.7 289.9h1M17.5 284.8h1M19.5 286.4h1M18.9 291.8h1M20.0 288.8h1M26.1 281.8h1M14.2 296.4h1M19.5 285.7h1M16.5 292.3h1M20.0 286.9h1M22.3 283.9h1M20.5 289.6h1M21.8 283.9h1M16.1 297.7h1M23.8 283.4h1M20.5 294.3h1M21.0 284.2h1M21.7 289.0h1M14.7 288.8h1M21.2 288.0h1M27.7 284.2h1M19.3 285.1h1M22.9 289.7h1M12.7 292.1h1M26.3 283.6h1M28.3 282.7h1M21.0 289.5h1M16.3 286.0h1M15.6 297.3h1M24.7 286.4h1M30.9 278.0h1M21.5 284.0h1M22.8 280.8h1M20.2 284.0h1M16.6 293.0h1M25.2 283.1h1M13.0 290.9h1M18.3 288.3h1M23.6 290.4h1M23.3 284.7h1M20.9 285.9h1M23.7 289.6h1M17.4 292.1h1M14.5 293.2h1M19.3 287.2h1M14.6 288.2h1M12.6 291.1h1M13.8 292.2h1M17.6 289.9h1M12.6 295.8h1M15.1 294.4h1M13.3 294.8h1M21.1 288.2h1M20.2 285.2h1M25.3 277.3h1M12.8 292.9h1M15.6 289.2h1M22.9 284.0h1M18.6 288.8h1M16.7 287.4h1M25.6 280.3h1M18.4 289.5h1M15.2 292.9h1M13.3 292.0h1M22.2 288.2h1M21.0 287.0h1M12.5 291.6h1M15.8 292.1h1M25.2 290.0h1M21.4 285.2h1M19.0 293.0h1M24.8 288.8h1M24.8 289.2h1M11.1 293.4h1M21.8 293.3h1M22.0 287.2h1M17.2 290.1h1M19.7 290.6h1M23.3 285.9h1M26.5 282.5h1M12.6 298.7h1M30.1 277.8h1M13.6 290.6h1M25.3 286.5h1M26.4 285.4h1M25.9 287.0h1M19.0 286.0h1M16.7 294.7h1M23.4 287.1h1M19.7 294.3h1M32.5 278.7h1M22.6 285.4h1M25.3 279.0h1M15.0 290.5h1M28.0 285.3h1M26.1 281.9h1M25.6 281.6h1M21.2 290.2h1M14.0 288.3h1M13.4 287.6h1M14.8 294.1h1M16.8 291.4h1M12.6 294.3h1M13.2 295.4h1M17.3 293.0h1M15.0 286.8h1M11.4 295.2h1M11.4 294.5h1M14.0 293.5h1M15.5 291.8h1M12.0 291.2h1M12.2 294.0h1M17.8 296.8h1M11.9 290.6h1M13.4 295.2h1M21.5 289.4h1M17.1 292.7h1M10.9 293.1h1M13.7 297.2h1M12.3 293.0h1M11.9 293.8h1M12.6 294.7h1M17.6 293.1h1M14.4 295.4h1M12.6 295.0h1M12.8 297.7h1M11.9 295.9h1M15.7 295.2h1M11.9 291.4h1M14.8 288.5h1M14.2 296.1h1M14.9 289.0h1M14.6 292.5h1M14.3 293.3h1M10.9 295.2h1M18.3 294.5h1M14.0 286.3h1M16.3 294.7h1M19.6 296.1h1M13.6 294.3h1M13.6 294.2h1M14.1 296.1h1M19.4 294.8h1M13.5 290.7h1M14.1 294.1h1M13.5 293.8h1M16.6 293.4h1M15.5 293.2h1M13.6 296.3h1M17.8 289.4h1M15.2 293.1h1M13.5 292.3h1M16.9 289.5h1M16.6 291.3h1M14.1 293.4h1M14.0 290.4h1M14.4 298.3h1M12.8 294.5h1M18.9 293.1h1M16.8 293.1h1M12.6 295.1h1M12.6 295.8h1M14.3 294.2h1M14.3 292.0h1M16.0 292.4h1M21.6 293.7h1M12.0 288.9h1M16.6 291.9h1M13.8 295.4h1M14.6 290.3h1M12.8 290.8h1M16.6 298.2h1M13.7 293.0h1M17.4 297.3h1M15.7 294.1h1M15.5 292.9h1M14.0 295.3h1M13.7 296.0h1M18.0 294.1h1M11.2 297.5h1M13.3 294.9h1M18.3 290.8h1M14.1 296.3h1M14.6 290.4h1M21.0 289.1h1M17.2 290.1h1M16.7 288.8h1M16.2 291.3h1M14.6 294.7h1M16.8 294.6h1M12.5 295.2h1M19.4 295.6h1M11.8 295.5h1M18.3 293.3h1M12.7 296.5h1M12.9 293.3h1M11.2 295.8h1M17.4 291.6h1M18.1 296.2h1M17.2 296.9h1M12.3 294.6h1M14.1 296.0h1M10.9 288.9h1M13.1 295.1h1M16.2 291.0h1M13.9 296.1h1M16.9 291.8h1M12.7 291.6h1M17.9 293.5h1M14.3 295.8h1M14.2 295.5h1M13.3 297.5h1M17.5 294.3h1M16.6 291.7h1M17.4 287.0h1M15.4 288.6h1M17.1 295.4h1M15.1 295.2h1M15.5 292.9h1M13.8 292.8h1M17.9 290.7h1M16.7 291.7h1M12.1 294.5h1M11.9 293.6h1M20.8 294.7h1M15.5 293.3h1M13.1 292.9h1M15.3 288.9h1M12.5 293.0h1M14.9 295.3h1M14.6 295.7h1M16.6 291.9h1M11.3 295.3h1M11.6 292.6h1M14.7 297.2h1M16.7 292.8h1M18.0 298.0h1M13.4 292.1h1M15.6 295.2h1M13.2 290.5h1M13.9 291.1h1M14.6 293.7h1M19.7 290.2h1M15.6 292.3h1M17.4 294.1h1M16.3 295.0h1M14.5 294.4h1M16.8 291.7h1M16.7 290.9h1M12.3 297.0h1M18.3 293.1h1M15.8 292.6h1M17.4 292.4h1M15.1 292.0h1M19.8 291.3h1M15.7 293.8h1M13.6 299.0h1M15.4 292.9h1M14.9 295.7h1" stroke="#000" stroke-width="1" stroke-opacity="0.6" fill="none" filter="url(#bl)"/>
<path d="M26.8 277.7h1M33.6 271.0h1M32.9 270.2h1M24.3 282.9h1M26.7 280.5h1M28.1 273.5h1M27.2 279.3h1M29.0 278.7h1M36.4 269.0h1M40.2 261.9h1M33.7 274.6h1M34.8 268.8h1M36.3 265.8h1M34.9 267.8h1M35.8 269.2h1M25.1 283.9h1M41.0 265.9h1M27.1 279.8h1M25.9 278.0h1M32.4 271.7h1M33.5 269.8h1M37.4 267.0h1M27.3 275.1h1M41.1 263.3h1M36.0 270.4h1M39.0 265.1h1M33.1 273.4h1M24.2 280.6h1M22.6 281.3h1M34.8 268.9h1M33.0 275.2h1M33.1 274.8h1M29.3 275.7h1M28.6 280.4h1M32.2 272.7h1M30.3 279.1h1M40.6 264.7h1M26.7 278.8h1M42.3 263.5h1M38.6 264.2h1M29.8 274.0h1M36.3 265.4h1M34.7 271.1h1M32.3 273.2h1M38.5 265.9h1M38.5 265.2h1M29.3 280.2h1M39.8 263.6h1M23.8 281.6h1M25.5 284.1h1M34.3 274.2h1M29.8 277.0h1M29.6 272.4h1M31.9 272.4h1M33.1 273.8h1M40.4 264.0h1M42.3 265.2h1M28.7 274.4h1M29.9 277.6h1M35.1 268.7h1" stroke="#000" stroke-width="1" stroke-opacity="0.45" fill="none" filter="url(#bl)"/>
<path d="M74.2 289.8h1M65.5 283.7h1M72.4 291.8h1M62.0 289.1h1M57.3 294.0h1M59.1 287.1h1M62.2 289.9h1M59.6 287.4h1M73.4 287.0h1M74.3 295.1h1M67.7 289.7h1M59.6 293.9h1M65.3 286.7h1M61.7 292.3h1M75.0 284.1h1M68.0 289.6h1M69.0 289.5h1M63.5 294.5h1M53.5 292.6h1M61.2 291.0h1M59.1 295.7h1M68.3 292.7h1M66.6 294.3h1M61.0 295.3h1M63.6 291.5h1M75.7 290.5h1M60.1 293.3h1M60.3 289.9h1M64.6 293.6h1M61.7 296.9h1M63.3 295.7h1M69.3 290.0h1M76.7 285.9h1M55.0 291.5h1M65.9 291.2h1M66.3 296.9h1M65.5 290.0h1M64.8 290.8h1M63.9 295.2h1M72.2 289.6h1M63.1 291.1h1M66.0 298.6h1M66.7 294.7h1M64.9 293.0h1M72.2 287.3h1M65.9 294.3h1M67.1 292.0h1M65.7 292.8h1M59.8 289.4h1M60.9 291.7h1M59.5 290.9h1M67.2 293.2h1M61.6 298.3h1M59.4 293.4h1M67.5 284.2h1M69.3 287.3h1M55.1 284.5h1M76.5 288.1h1M66.2 294.3h1M65.3 293.6h1M72.6 289.0h1M66.4 293.0h1M62.3 288.3h1M79.6 285.3h1M59.3 285.3h1M65.4 287.8h1M71.3 298.3h1M59.4 285.6h1M65.4 297.5h1M68.4 297.9h1M80.9 290.9h1M60.5 291.5h1M65.7 289.0h1M70.1 291.7h1M66.5 294.8h1M58.5 291.8h1M68.5 296.3h1M66.7 297.2h1M68.8 293.3h1M73.0 293.3h1M72.3 291.5h1M68.5 293.4h1M67.9 286.6h1M59.2 293.6h1M65.2 292.7h1M67.4 287.8h1M66.6 287.3h1M60.9 287.8h1M75.5 293.0h1M79.3 282.9h1M63.6 288.1h1M68.5 284.8h1M64.5 287.3h1M73.8 291.1h1M68.7 293.2h1M66.5 296.8h1M64.6 295.5h1M66.8 297.2h1M59.8 294.5h1M70.2 289.6h1M61.6 296.9h1M69.3 289.5h1M66.8 288.9h1M72.8 298.8h1M65.9 295.4h1M72.3 292.8h1M60.3 295.2h1M69.8 295.8h1M64.6 285.5h1M67.2 291.3h1M66.4 286.3h1M71.8 292.3h1M53.5 288.7h1M68.0 298.0h1M56.7 294.1h1M73.5 288.0h1M53.8 291.7h1M59.8 286.2h1M55.6 291.9h1M76.2 294.3h1M58.0 293.0h1M66.7 282.9h1M62.7 290.2h1M54.8 294.1h1M63.9 293.1h1M70.1 297.1h1M64.9 285.8h1M71.8 294.1h1M63.8 288.7h1M66.0 292.6h1M63.6 293.6h1M68.1 294.9h1M77.8 289.1h1M68.2 292.6h1M67.2 286.4h1M62.2 285.3h1M61.3 294.3h1M75.1 291.5h1M59.1 284.3h1M60.3 287.8h1M65.4 291.8h1M63.4 298.9h1M78.1 296.5h1M51.3 295.4h1M68.2 283.5h1M70.4 291.3h1M59.1 293.9h1M62.0 293.5h1M68.7 293.6h1M76.1 290.7h1M56.2 298.5h1M72.0 291.3h1M75.4 287.2h1M52.3 289.2h1M75.0 297.2h1M73.0 287.4h1M65.7 293.1h1M63.7 290.1h1M63.2 294.1h1M75.1 293.2h1M52.7 294.4h1M60.2 291.7h1M77.0 296.9h1M63.7 290.5h1M57.6 290.1h1M65.3 288.0h1M65.4 289.5h1M63.0 291.9h1M64.1 286.9h1M63.2 282.0h1M68.1 296.6h1M61.0 288.1h1M64.2 289.2h1M65.1 290.0h1M74.1 287.2h1M68.3 286.8h1M65.3 292.5h1M68.5 295.1h1M72.7 295.2h1M69.1 284.8h1M77.1 291.6h1M74.3 286.3h1M65.7 295.3h1M63.4 290.7h1M71.5 291.9h1M69.2 291.3h1M65.4 289.0h1M56.8 284.7h1M54.6 294.4h1M68.2 285.4h1M70.8 286.3h1M71.0 290.4h1M58.0 288.5h1M72.4 292.9h1M62.7 296.4h1M68.4 292.9h1M68.6 292.6h1M61.0 291.8h1M62.3 295.7h1M53.1 283.2h1M60.3 293.4h1M54.8 287.4h1M68.7 286.1h1M66.4 291.8h1M71.7 289.9h1M68.2 294.4h1M62.1 296.8h1M68.1 281.0h1M63.6 291.4h1M68.0 295.7h1M59.9 298.4h1M66.0 292.2h1M66.3 285.1h1M64.1 286.6h1M71.5 295.0h1M76.6 296.1h1M63.7 288.4h1M63.8 290.5h1M52.1 292.9h1M65.2 283.7h1M63.3 290.1h1M52.6 299.2h1M69.7 291.2h1M63.7 289.3h1M60.0 288.0h1M70.7 281.4h1M56.6 296.1h1M64.1 290.0h1M66.3 293.3h1M68.9 292.6h1M65.1 283.4h1M58.7 298.6h1M65.8 290.1h1M68.5 291.0h1M59.7 281.6h1M68.1 296.0h1M73.7 296.3h1M72.6 288.9h1M56.2 292.2h1M60.0 293.5h1M56.0 296.2h1M72.6 292.2h1M70.4 290.6h1M60.6 288.9h1M58.8 289.6h1M66.5 280.1h1M66.6 288.0h1M60.7 296.4h1M66.9 293.0h1M70.0 288.0h1M67.4 293.4h1M59.6 282.5h1M52.9 290.4h1M64.4 294.2h1M67.0 295.0h1M64.4 288.2h1M63.3 295.9h1M70.4 289.8h1M65.7 295.2h1M66.8 284.6h1M60.0 282.7h1M62.2 294.6h1M67.0 292.0h1M59.8 292.7h1M58.2 289.1h1M64.0 290.4h1M73.4 295.5h1M75.0 290.8h1M65.2 284.2h1M64.1 297.6h1M57.4 294.5h1M62.4 294.9h1M74.9 292.6h1M70.5 292.1h1M70.4 294.1h1M65.9 283.2h1M64.7 289.1h1M66.7 288.6h1M70.2 291.6h1M68.8 293.4h1M69.1 288.3h1M61.2 286.9h1M64.4 289.7h1M60.2 292.9h1M72.2 286.0h1M53.0 294.4h1M64.6 294.7h1M80.8 290.4h1M59.0 292.1h1M65.9 293.1h1M74.0 287.3h1M65.0 284.1h1M69.8 288.9h1M66.6 290.3h1M63.7 289.7h1M85.5 295.3h1M66.4 280.8h1M62.7 286.5h1M63.0 283.4h1M68.4 297.9h1M68.5 289.2h1M70.8 289.4h1M66.9 286.7h1M57.1 295.9h1M69.3 289.9h1M64.1 292.8h1M64.2 282.4h1M56.8 297.2h1M62.4 293.6h1M61.5 294.3h1M65.8 297.5h1M57.0 290.9h1M66.3 291.0h1M66.8 295.1h1M59.1 293.7h1M62.1 290.6h1M60.7 292.0h1M71.6 289.4h1M50.3 295.1h1M63.9 296.1h1M55.7 291.8h1M71.2 284.7h1M62.1 290.7h1M60.8 289.8h1M78.0 284.4h1M71.7 298.2h1M73.0 294.3h1M57.8 286.3h1M59.2 295.3h1M72.7 287.1h1M64.8 285.6h1M64.4 291.1h1M68.1 289.6h1M58.2 286.7h1M70.8 290.1h1M66.1 287.1h1M69.0 292.1h1M61.8 291.7h1M69.2 295.2h1M61.6 289.7h1M71.9 285.6h1M73.0 285.7h1M71.7 290.6h1M69.2 298.9h1M69.9 295.7h1M49.2 288.8h1M71.2 296.1h1M64.3 286.4h1M66.6 296.5h1M64.2 290.0h1M57.4 295.3h1M62.7 294.7h1M70.1 290.5h1M74.8 293.3h1M62.1 286.9h1M60.4 291.4h1M75.0 296.8h1M78.9 295.0h1M66.3 292.2h1M60.5 287.1h1M72.1 296.7h1M76.5 284.1h1M57.1 288.1h1M75.7 293.4h1M64.3 286.2h1M75.2 298.9h1M63.6 296.8h1M56.2 289.2h1M69.1 289.2h1M71.7 285.7h1M79.0 285.3h1M76.7 293.8h1M70.3 294.7h1M64.5 293.4h1M62.8 293.0h1M64.2 289.2h1M60.8 293.5h1M64.3 285.0h1M50.2 291.8h1M67.1 298.6h1M65.8 297.9h1M81.9 289.6h1M70.7 290.2h1M63.0 298.1h1M58.4 284.9h1M62.3 289.8h1M54.4 292.9h1M74.9 297.4h1M69.7 287.9h1M58.7 294.8h1M65.6 290.4h1M69.1 293.8h1M68.4 291.2h1M60.7 290.2h1M62.0 296.7h1M66.6 294.9h1M71.7 286.8h1M60.9 292.8h1M59.0 285.6h1M73.1 288.3h1M60.2 285.8h1M72.7 285.7h1M67.5 288.6h1M71.5 287.3h1M76.8 294.2h1M70.3 295.5h1M70.8 290.7h1M60.3 286.6h1M61.7 295.5h1M70.0 282.4h1M75.5 282.9h1M74.6 295.2h1M80.4 294.8h1M67.9 296.3h1M67.3 290.8h1M72.2 286.0h1M66.1 289.4h1M65.6 294.4h1M59.5 288.3h1M72.1 288.6h1M59.4 285.4h1M69.2 286.4h1M57.2 295.7h1M72.8 293.9h1M59.6 286.4h1M71.2 286.8h1M56.1 289.2h1M63.3 294.3h1M73.3 286.4h1M61.0 291.0h1M66.4 281.9h1M63.0 286.0h1M51.7 293.7h1M67.9 295.9h1M68.7 286.5h1M59.1 288.2h1M69.6 295.5h1M61.1 290.0h1M59.8 289.3h1M66.0 294.2h1M61.8 292.7h1M80.2 296.9h1M56.4 295.5h1M70.6 289.1h1M72.1 291.2h1M53.7 291.5h1M55.3 285.5h1M69.5 287.3h1M63.0 296.3h1M68.4 284.5h1M73.1 296.4h1M63.7 293.1h1M59.4 291.2h1M49.1 294.3h1M67.3 294.0h1M60.2 297.4h1M67.9 290.0h1M67.4 290.7h1M57.4 290.7h1M72.7 296.2h1M71.3 287.5h1M58.7 290.3h1M63.5 288.5h1M62.6 291.9h1M63.4 292.8h1M68.7 283.4h1M67.4 296.6h1M68.3 293.8h1M62.9 288.6h1M74.0 291.1h1M67.2 289.5h1M49.0 292.0h1M62.0 296.5h1M65.6 284.8h1M72.0 297.9h1M64.1 290.1h1M64.4 298.8h1M61.9 293.7h1M70.1 297.5h1M63.2 294.4h1M62.3 296.8h1M61.4 292.1h1M69.5 288.0h1M62.7 294.9h1M55.6 295.1h1M61.7 282.6h1M68.2 290.9h1M68.3 296.7h1M73.5 286.1h1M72.5 290.8h1M65.0 298.4h1M58.0 287.8h1M76.4 298.4h1M68.7 297.3h1M74.6 295.4h1M64.0 293.6h1M53.3 293.0h1M75.5 287.8h1M66.6 289.5h1M66.8 295.2h1M66.3 292.5h1M69.3 290.3h1M56.1 280.8h1M72.7 290.3h1M62.7 293.1h1M63.1 293.6h1M76.7 292.2h1M71.7 288.1h1M63.9 298.8h1M54.5 288.8h1M67.0 295.1h1M69.3 290.5h1M65.5 286.4h1M58.3 298.4h1M61.1 280.3h1M58.2 288.0h1M67.3 293.9h1M71.1 290.2h1M72.4 295.3h1M61.5 291.4h1M67.5 289.8h1M62.8 290.9h1M65.1 291.2h1M79.2 286.9h1M67.3 288.5h1M71.5 294.9h1M63.3 294.5h1M66.3 291.9h1M55.4 288.7h1M65.8 295.1h1M73.4 284.1h1M79.0 290.3h1M73.4 290.7h1M70.3 288.0h1M66.3 292.6h1M62.3 288.8h1M65.0 288.2h1M61.1 295.3h1M71.8 297.4h1M59.9 292.2h1M55.0 296.4h1M59.7 295.5h1M55.7 297.5h1M73.0 290.9h1M64.8 293.1h1M67.4 291.7h1M73.2 275.8h1M73.8 285.5h1M62.9 292.0h1M74.2 294.9h1M68.4 289.3h1M66.0 297.2h1M68.7 297.9h1M57.2 290.1h1M61.1 298.5h1M69.8 294.1h1M63.7 287.5h1M65.2 298.7h1M72.0 291.2h1M74.8 290.2h1M70.8 292.5h1M73.9 289.5h1M63.5 296.9h1M64.1 295.6h1M68.0 297.6h1M64.1 294.7h1M62.9 288.3h1M76.2 291.3h1M64.8 296.0h1M60.0 290.1h1M77.4 290.9h1M66.5 289.3h1M73.6 297.3h1M63.3 295.4h1M63.0 291.9h1M61.7 290.9h1M65.1 294.0h1M77.4 295.8h1M58.8 295.5h1M76.2 290.6h1M59.7 294.0h1M64.6 295.9h1M71.2 295.5h1M69.9 277.8h1M67.7 287.9h1M55.8 288.4h1M68.2 290.9h1M59.7 292.8h1M81.9 296.2h1M64.7 294.8h1M67.2 291.4h1M58.9 292.1h1M58.0 289.2h1M72.1 293.4h1M64.4 299.2h1M69.5 293.6h1M61.8 282.6h1M62.9 293.7h1M74.0 290.2h1M60.0 291.5h1M54.8 296.8h1M68.5 294.2h1M58.9 290.8h1M63.3 296.1h1M71.7 294.0h1M60.9 292.5h1M71.4 293.4h1M61.8 293.2h1M75.2 290.4h1M74.2 289.9h1M63.1 292.1h1M64.7 287.6h1M60.8 286.2h1M67.2 298.0h1M73.1 290.9h1M57.0 291.9h1M71.7 291.4h1M57.8 292.1h1M60.7 292.1h1M54.9 292.3h1M79.1 288.3h1M66.4 296.3h1M67.5 288.8h1M61.8 296.8h1M72.6 283.2h1M53.0 287.1h1M66.2 296.6h1M79.7 291.3h1M63.6 288.9h1M66.1 293.7h1M70.2 287.2h1M61.0 292.4h1M66.1 281.8h1M72.0 289.9h1M67.2 289.0h1M68.3 294.5h1M63.8 296.0h1M68.0 288.1h1M66.3 299.4h1M75.0 289.3h1M70.5 282.5h1M64.5 281.1h1M50.8 299.1h1M70.4 291.6h1M70.7 289.0h1M60.3 288.6h1M53.6 287.0h1M58.9 298.2h1M71.7 291.6h1M63.2 291.1h1M67.4 281.2h1M73.6 295.9h1M65.9 290.3h1M65.4 290.9h1M62.6 299.2h1M76.1 290.8h1M72.6 297.3h1M65.4 292.0h1M57.3 288.5h1M61.1 294.3h1M69.6 289.2h1M61.5 297.7h1M71.5 296.4h1M68.2 292.3h1M67.8 294.8h1M70.1 294.6h1M69.1 290.7h1M60.7 296.1h1M64.0 291.0h1M80.5 294.8h1M58.5 287.6h1M63.1 292.5h1M72.6 293.9h1M65.0 288.4h1M61.0 290.1h1M57.8 289.6h1M69.3 295.4h1M72.3 288.7h1M74.7 294.0h1M66.3 299.0h1M72.5 293.7h1M59.6 284.6h1M67.0 292.6h1M61.8 296.8h1M67.1 290.7h1M70.7 297.1h1M72.6 294.9h1M59.9 294.0h1M73.9 290.8h1M63.1 289.7h1M59.6 290.9h1M64.9 292.3h1M56.9 294.4h1M66.0 294.0h1M67.8 290.7h1M64.8 292.3h1M69.3 293.8h1M64.0 284.6h1M66.0 288.5h1M57.1 288.4h1M66.3 291.1h1M60.7 290.8h1M63.2 290.9h1M65.4 288.0h1M67.2 295.2h1M55.8 293.3h1M56.3 284.5h1M64.1 292.1h1M68.9 286.9h1M71.5 290.0h1M74.1 290.3h1M69.1 292.5h1M65.9 291.2h1M59.6 291.8h1M60.1 299.2h1M63.1 293.1h1M67.7 295.9h1M67.4 297.3h1M66.0 287.6h1M69.9 295.2h1M67.3 296.5h1M67.8 288.1h1M67.9 295.8h1M62.6 294.0h1M59.6 289.6h1M68.6 294.7h1M64.6 291.0h1M63.4 293.0h1M80.1 296.3h1M61.3 297.3h1M64.7 294.8h1M67.6 297.7h1M58.8 298.9h1M66.7 286.4h1M77.1 289.9h1M71.8 287.8h1M69.9 292.5h1M69.7 298.7h1M66.7 295.1h1M71.9 287.3h1M65.0 290.7h1M63.4 296.8h1M66.6 289.6h1M71.6 291.6h1M68.0 293.5h1M70.2 283.7h1M53.5 295.7h1M73.4 293.7h1M80.5 294.7h1M74.3 287.6h1M64.0 288.6h1M60.7 289.3h1M67.7 293.2h1M59.9 292.4h1M70.5 292.7h1M72.0 298.1h1M74.4 288.8h1M53.4 289.1h1M61.7 290.6h1M57.3 298.4h1M62.2 299.4h1M64.6 289.6h1M72.4 290.9h1M56.6 292.5h1M72.5 288.1h1M78.5 287.6h1M69.7 290.2h1M69.4 296.0h1M65.9 290.0h1M58.7 291.1h1M69.3 290.0h1M68.4 285.8h1M70.5 298.9h1M81.9 281.3h1M70.5 289.1h1M68.6 294.7h1M75.7 285.7h1M57.7 294.9h1M58.9 297.9h1M63.7 288.1h1M61.9 293.1h1M70.3 287.0h1M64.0 294.4h1M76.8 292.5h1M75.4 293.1h1M70.8 298.4h1M63.6 294.3h1M69.8 298.3h1M71.0 295.0h1M59.4 286.6h1M68.2 293.3h1M70.4 294.3h1M67.3 285.4h1M75.7 298.2h1M73.5 292.4h1M60.9 293.8h1M66.8 288.0h1M60.8 292.4h1M69.6 293.5h1M60.6 290.6h1M71.7 292.5h1M68.4 282.3h1M72.0 298.4h1M65.1 287.0h1M57.0 282.0h1M76.9 287.7h1M64.9 288.2h1M74.5 294.6h1M68.7 287.9h1M70.2 293.4h1M77.3 287.7h1M74.7 294.6h1M71.4 287.4h1M64.5 295.1h1M65.2 287.7h1M66.1 294.7h1M68.1 295.2h1M76.3 284.7h1M54.5 286.9h1M66.3 286.7h1M61.6 285.2h1M73.2 288.7h1M63.4 287.7h1M68.8 285.4h1M63.5 292.5h1M70.1 294.6h1M72.3 286.0h1M63.5 289.5h1M66.3 292.1h1M57.2 291.0h1M67.9 288.8h1M71.3 295.8h1M62.6 296.0h1M72.9 295.2h1M53.1 291.1h1M63.0 290.2h1M66.1 291.5h1M65.5 297.5h1M65.6 288.4h1M70.5 293.9h1M63.1 292.3h1M58.2 288.8h1M58.3 291.0h1M79.1 284.8h1M51.4 289.5h1M64.9 282.9h1M69.0 299.0h1M60.9 297.7h1M66.0 293.4h1M71.4 296.6h1M73.5 297.9h1M60.4 296.7h1M70.7 296.3h1M67.6 287.8h1M72.8 294.0h1M74.6 289.6h1M63.9 286.6h1M57.0 286.8h1M68.5 294.0h1M77.0 296.9h1M70.3 285.7h1M80.9 298.8h1M59.6 290.3h1M71.6 289.9h1M62.5 291.7h1M66.3 296.5h1M66.6 290.3h1M75.4 286.9h1M60.2 293.6h1M62.7 282.5h1M56.1 292.7h1M69.0 297.3h1M63.2 293.4h1M68.6 295.6h1M59.3 294.3h1M63.8 295.4h1M72.4 292.7h1M64.9 288.2h1M69.9 291.0h1M69.3 291.7h1M63.8 297.8h1M56.3 299.5h1M72.1 293.9h1M67.1 288.5h1M72.1 288.6h1M53.5 291.1h1M55.7 298.4h1M52.7 293.5h1M60.6 291.7h1M72.5 288.5h1M69.5 296.1h1M65.8 293.3h1M66.8 291.8h1M70.7 292.5h1M68.5 291.3h1M52.4 297.7h1M63.6 292.2h1M74.4 296.1h1M63.5 291.4h1M65.1 288.2h1M62.2 290.8h1M63.0 287.8h1M73.0 294.4h1M64.3 292.1h1M59.7 294.6h1M46.7 295.8h1M62.4 277.6h1M53.8 293.4h1M54.7 283.7h1M70.9 292.8h1M70.4 288.0h1M54.1 292.5h1M71.3 298.3h1M68.8 284.1h1M61.1 292.9h1M70.6 291.6h1M55.9 283.3h1M58.5 295.0h1M57.1 292.2h1M59.1 289.7h1M71.4 288.7h1M58.9 290.2h1M60.1 283.7h1M67.2 287.7h1M63.9 290.3h1M71.3 290.2h1M61.6 291.6h1M58.0 287.2h1M62.9 294.5h1M66.2 289.8h1M60.2 285.7h1M67.7 288.2h1M77.2 290.2h1M62.4 295.9h1M66.2 294.2h1M74.3 290.4h1M61.9 292.1h1M60.7 293.0h1M68.4 289.2h1M69.1 294.1h1M65.0 295.3h1M66.2 287.6h1M73.8 292.9h1M71.3 292.8h1M57.2 289.8h1M65.8 294.6h1M66.5 296.7h1M70.3 297.2h1M64.5 291.1h1M61.8 292.9h1M93.0 265.7h1M66.9 288.3h1M75.9 278.4h1M78.6 271.3h1M76.2 280.0h1M82.7 279.8h1M75.9 279.2h1M81.8 277.2h1M79.8 266.6h1M73.7 282.7h1M77.2 280.3h1M72.0 278.1h1M67.9 278.6h1M77.0 283.5h1M65.0 286.5h1M83.1 278.9h1M87.8 269.6h1M90.9 273.2h1M84.8 272.6h1M64.3 283.0h1M87.4 271.9h1M69.6 285.5h1M77.5 284.6h1M88.8 268.6h1M66.7 287.5h1M84.9 279.6h1M81.5 284.2h1M77.0 285.6h1M72.3 291.2h1M80.6 280.8h1M74.7 287.6h1M86.5 278.3h1M86.5 275.5h1M65.6 291.1h1M72.5 285.7h1M80.5 292.3h1M67.0 289.6h1M66.8 288.4h1M75.6 280.2h1M74.3 283.2h1M64.1 293.5h1M68.6 281.6h1M74.2 271.8h1M67.6 290.8h1M64.3 282.4h1M88.9 272.7h1M86.5 274.0h1M66.9 296.4h1M70.5 296.4h1M80.0 280.8h1M65.3 287.7h1M70.7 279.6h1M70.3 282.2h1M80.4 278.5h1M50.6 291.1h1M59.3 296.4h1M66.6 289.8h1M85.6 277.7h1M73.8 281.8h1M63.2 293.3h1M77.6 276.3h1M80.1 275.9h1M69.0 277.5h1M73.8 284.6h1M83.8 284.5h1M85.7 274.8h1M78.2 282.3h1M77.2 275.2h1M79.8 287.2h1M70.9 281.8h1M71.3 290.7h1M78.3 280.7h1M70.9 280.6h1M77.1 287.1h1M83.2 276.1h1M80.3 279.5h1M84.0 278.0h1M63.9 292.1h1M79.2 277.1h1M72.8 287.4h1M68.6 285.8h1M69.7 287.7h1M83.3 271.9h1M78.0 271.5h1M68.6 284.3h1M65.9 287.6h1M76.1 282.0h1M75.9 289.0h1M83.8 265.5h1M65.2 291.8h1M55.6 286.1h1M71.0 280.0h1M74.6 280.2h1M70.5 273.4h1M76.4 270.8h1M92.3 269.2h1M73.6 284.5h1M71.5 285.1h1M60.2 290.5h1M84.1 287.9h1M82.1 276.0h1M71.5 280.7h1M89.9 280.2h1M78.0 283.9h1M86.5 271.0h1M82.0 284.0h1M68.4 289.3h1M73.0 288.3h1M64.9 292.7h1M59.7 289.6h1M80.9 283.6h1M83.1 277.0h1M88.1 266.0h1M73.4 279.7h1M76.9 286.8h1M66.4 287.9h1M83.7 275.8h1M80.9 281.8h1M71.8 286.3h1M76.9 272.3h1M82.1 280.6h1M64.4 297.3h1M84.2 280.2h1M81.7 286.7h1M74.1 285.8h1M75.1 287.4h1M94.0 276.2h1M86.9 271.1h1M95.0 276.2h1M72.2 295.4h1M73.3 288.9h1M88.3 282.5h1M69.2 292.7h1M67.9 283.6h1M65.5 297.5h1M91.1 271.2h1M85.3 276.6h1M80.0 279.6h1M81.6 285.3h1M74.4 286.6h1M70.9 282.2h1M82.1 279.7h1M72.7 289.1h1M83.3 271.6h1M71.0 283.7h1M68.2 286.3h1M84.2 271.6h1M75.9 284.1h1M83.2 281.9h1M78.3 291.2h1M83.1 282.0h1M69.0 294.6h1M88.2 279.6h1M63.0 290.7h1M63.7 296.4h1M79.3 281.1h1M78.9 278.8h1M75.5 279.7h1M65.2 288.1h1M82.0 275.4h1M61.2 287.2h1M74.0 286.8h1M69.9 287.0h1M73.4 284.8h1M83.5 277.7h1M73.2 288.6h1M78.6 276.3h1M81.0 277.2h1M58.2 287.5h1M60.6 281.8h1M67.5 277.8h1M75.9 291.1h1M73.1 273.7h1M62.6 296.0h1M85.8 282.5h1M80.4 275.6h1M79.4 288.7h1M70.7 297.3h1M78.8 285.2h1M78.7 293.6h1M82.1 280.5h1M73.2 280.0h1M83.1 279.1h1M71.4 283.3h1M83.3 268.2h1M54.7 292.4h1M74.9 296.5h1M78.2 277.0h1M64.4 291.6h1M79.7 275.0h1M67.1 290.3h1M76.0 280.6h1M67.8 286.5h1M69.1 280.7h1M73.3 276.0h1M73.1 280.1h1M74.0 285.5h1M98.5 275.4h1M79.1 285.6h1M73.9 294.6h1M84.6 277.8h1M82.1 276.5h1M81.6 269.6h1M89.7 270.6h1M62.6 280.7h1M83.3 274.2h1M89.5 280.3h1M77.0 283.2h1M81.2 284.4h1M67.7 281.0h1M88.4 268.9h1M61.2 292.2h1M75.4 289.7h1M84.0 287.0h1M78.3 275.8h1M87.5 270.4h1M62.1 292.9h1M75.4 280.6h1M79.1 272.3h1M66.3 290.8h1M76.8 283.6h1M91.6 271.3h1M82.7 269.5h1M79.9 278.2h1M51.0 292.9h1M77.7 286.1h1M76.1 276.1h1M72.9 283.1h1M74.3 281.0h1M98.0 260.3h1M71.4 279.8h1M63.5 282.2h1M83.0 286.5h1M74.4 285.0h1M74.5 285.0h1M81.5 289.9h1M81.7 276.8h1M79.5 282.5h1M66.9 289.9h1M78.5 287.0h1M81.2 280.8h1M73.4 286.2h1M84.2 273.8h1M82.9 278.1h1M71.9 292.5h1M72.5 272.9h1M90.9 268.9h1M86.8 270.6h1M74.8 281.4h1M77.3 269.5h1M73.0 289.0h1M62.6 288.5h1M79.7 277.8h1M76.5 278.8h1M75.2 273.1h1M74.6 280.7h1M73.3 273.7h1M69.4 282.2h1M78.8 278.0h1M82.5 276.7h1M75.8 282.7h1M81.9 276.4h1M71.3 288.7h1M83.6 268.6h1M87.8 268.7h1M76.1 278.2h1M74.8 282.2h1M64.6 288.2h1M76.4 276.8h1M86.8 282.8h1M64.9 291.8h1M79.4 277.4h1M79.1 278.1h1M78.8 278.5h1M71.5 294.2h1M81.6 280.3h1M67.9 295.6h1M78.5 261.8h1M78.1 282.4h1M70.2 293.2h1M92.1 280.3h1M85.0 274.8h1M66.2 280.4h1M94.7 270.0h1M66.7 286.5h1M73.3 273.9h1M83.4 272.4h1M87.3 279.8h1M77.7 285.0h1M73.0 278.6h1M75.1 297.7h1M75.3 276.0h1M67.4 289.0h1M64.5 283.4h1M76.5 289.5h1M68.0 291.6h1M90.7 275.1h1M66.2 291.0h1M70.1 286.7h1M74.2 284.8h1M70.7 275.6h1M85.1 280.5h1M85.0 280.0h1M72.7 282.7h1M73.1 284.6h1M77.3 282.9h1M87.0 282.3h1M82.7 279.1h1M72.3 285.6h1M58.9 293.6h1M88.2 263.2h1M81.7 274.0h1M78.3 280.7h1M78.0 279.1h1M72.3 285.8h1M70.6 291.2h1M76.6 278.1h1M78.3 289.9h1M84.0 288.8h1M77.9 292.5h1M71.7 285.1h1M76.8 277.2h1M40.8 274.6h1M90.8 281.1h1M55.6 296.0h1M81.3 273.4h1M73.9 289.0h1M91.0 287.9h1M71.8 282.2h1M61.2 296.2h1M87.1 278.9h1M67.6 264.2h1M71.0 276.4h1M70.7 277.2h1M86.9 281.3h1M79.5 269.2h1M72.7 276.2h1M45.8 280.4h1M65.2 283.2h1M72.7 281.6h1M99.6 281.4h1M79.1 287.0h1M70.3 283.5h1M88.7 277.6h1M69.8 283.0h1M71.0 282.7h1M78.5 295.2h1M41.4 265.8h1M83.9 274.9h1M78.1 282.2h1M70.9 293.5h1M51.2 277.0h1M75.2 283.6h1M93.7 282.4h1M60.5 280.5h1M49.5 269.0h1M75.7 275.9h1M44.4 278.3h1M42.0 299.0h1M61.9 275.7h1M67.6 284.2h1M60.5 276.7h1M74.0 275.0h1M64.2 272.3h1M64.0 288.2h1M69.7 297.8h1M79.2 276.2h1M87.7 285.2h1M80.6 267.9h1M82.0 280.7h1M52.2 273.4h1M70.9 294.6h1M78.0 291.4h1M41.9 272.1h1M86.2 260.6h1M72.0 270.7h1M65.7 293.7h1M71.9 276.6h1M65.6 281.6h1M62.8 292.0h1M78.6 279.9h1M65.5 285.9h1M50.1 285.6h1M66.0 295.2h1M66.8 274.7h1M87.7 271.8h1M53.0 279.5h1M98.1 278.5h1M85.3 281.0h1M51.1 267.6h1M73.7 282.8h1M83.2 262.6h1M65.6 274.6h1M57.0 294.9h1M69.8 272.7h1M100.4 274.5h1M48.9 285.4h1M85.6 296.7h1M71.0 280.4h1M65.5 270.9h1M61.9 273.0h1M63.6 274.5h1M86.2 277.2h1M79.6 278.2h1M60.4 295.5h1M93.7 274.9h1M53.3 289.2h1M81.6 280.9h1M73.3 279.1h1M89.1 277.9h1M78.9 286.8h1M88.8 283.2h1M69.0 276.3h1M78.9 259.7h1M73.3 271.9h1M102.5 272.9h1M52.9 261.4h1M86.4 270.6h1M79.3 283.1h1M71.8 275.0h1M59.4 273.6h1M83.5 295.4h1M51.1 285.8h1M85.8 290.0h1M87.6 263.2h1M71.6 271.1h1M71.4 278.3h1M73.4 268.7h1M67.6 283.3h1M61.6 270.7h1" stroke="#000" stroke-width="1" stroke-opacity="0.29" fill="none" filter="url(#bl)"/>
<line x1="10.3" y1="199.8" x2="50.1" y2="199.8" stroke="#9a9a9a" stroke-width="1"/>
<polyline points="10.3,199.3 10.3,300.4 107.6,300.4 107.6,199.60000000000002" fill="none" stroke="#5e5e5e" stroke-width="1"/>
<line x1="50.1" y1="199.60000000000002" x2="108.1" y2="199.60000000000002" stroke="#505050" stroke-width="1.6"/>
<polyline points="50.10,199.80 50.10,252.60 49.70,253.90 48.70,255.50 20.60,300.40" fill="none" stroke="#858585" stroke-width="1"/>
<line x1="9.100000000000001" y1="300.4" x2="10.3" y2="300.4" stroke="#777" stroke-width="0.7"/>
<text x="8.40" y="297.60" font-size="4.8" text-anchor="middle" font-weight="normal" fill="#444" transform="rotate(-90 8.3 297.59999999999997)">10<tspan dy="-1.6" font-size="3.2">0</tspan></text>
<line x1="9.100000000000001" y1="275.25" x2="10.3" y2="275.25" stroke="#777" stroke-width="0.7"/>
<text x="8.40" y="273.45" font-size="4.8" text-anchor="middle" font-weight="normal" fill="#444" transform="rotate(-90 8.3 273.45)">10<tspan dy="-1.6" font-size="3.2">1</tspan></text>
<line x1="9.100000000000001" y1="250.1" x2="10.3" y2="250.1" stroke="#777" stroke-width="0.7"/>
<text x="8.40" y="248.30" font-size="4.8" text-anchor="middle" font-weight="normal" fill="#444" transform="rotate(-90 8.3 248.29999999999998)">10<tspan dy="-1.6" font-size="3.2">2</tspan></text>
<line x1="9.100000000000001" y1="224.95" x2="10.3" y2="224.95" stroke="#777" stroke-width="0.7"/>
<text x="8.40" y="223.15" font-size="4.8" text-anchor="middle" font-weight="normal" fill="#444" transform="rotate(-90 8.3 223.14999999999998)">10<tspan dy="-1.6" font-size="3.2">3</tspan></text>
<line x1="9.100000000000001" y1="199.8" x2="10.3" y2="199.8" stroke="#777" stroke-width="0.7"/>
<text x="8.40" y="198.60" font-size="4.8" text-anchor="middle" font-weight="normal" fill="#444" transform="rotate(-90 8.3 198.60000000000002)">10<tspan dy="-1.6" font-size="3.2">4</tspan></text>
<text x="3.40" y="250.10" font-size="4.3" text-anchor="middle" font-weight="normal" fill="#444" transform="rotate(-90 3.4000000000000004 250.1)">Empty</text>
<text x="11.50" y="305.00" font-size="4.0" text-anchor="middle" font-weight="normal" fill="#777" >10<tspan dy="-1.3" font-size="2.8">0</tspan></text>
<text x="108.60" y="305.00" font-size="4.0" text-anchor="middle" font-weight="normal" fill="#777" >10<tspan dy="-1.3" font-size="2.8">4</tspan></text>
<text x="85.30" y="215.00" font-size="13.5" text-anchor="middle" font-weight="normal" fill="#000" stroke="#000" stroke-width="0.22">31%</text>
<text x="58.80" y="313.60" font-size="11.4" text-anchor="middle" font-weight="normal" fill="#000" stroke="#000" stroke-width="0.2">GFP</text>
<text x="58.00" y="334.40" font-size="13" text-anchor="middle" font-weight="normal" fill="#000" stroke="#000" stroke-width="0.2">&#8211; cyt</text>
<path d="M142.5 284.7h1M151.6 282.1h1M150.5 291.5h1M143.8 287.6h1M155.7 281.2h1M144.9 291.3h1M150.6 282.3h1M147.7 292.5h1M147.9 288.4h1M147.3 290.0h1M143.7 284.5h1M142.3 285.1h1M138.9 283.8h1M144.6 289.7h1M148.5 286.4h1M147.3 291.3h1M146.9 294.8h1M144.2 289.8h1M144.2 289.7h1M146.8 290.5h1M150.3 291.9h1M145.1 286.7h1M146.1 291.9h1M145.8 288.5h1M142.8 290.6h1M142.4 295.8h1M144.3 287.5h1M140.8 289.3h1M145.6 292.4h1M143.7 291.1h1M149.5 285.4h1M143.5 290.9h1M148.8 289.0h1M144.3 289.2h1M145.3 293.1h1M143.9 292.8h1M151.7 290.2h1M150.9 290.2h1M152.4 287.1h1M157.1 279.6h1M148.0 288.2h1M146.7 286.5h1M151.6 296.6h1M146.3 288.2h1M146.5 291.3h1M147.1 294.1h1M156.5 277.0h1M140.8 290.2h1M146.8 287.1h1M146.9 284.8h1M144.4 285.5h1M143.1 289.6h1M148.3 292.9h1M146.6 291.9h1M144.1 291.1h1M145.9 289.5h1M141.8 286.0h1M146.4 292.0h1M150.9 286.8h1M141.8 288.4h1M149.1 287.6h1M144.4 289.9h1M147.6 286.0h1M144.4 286.7h1M146.1 286.6h1M142.2 288.6h1M145.5 291.7h1M145.1 291.6h1M147.6 289.3h1M150.2 285.2h1M151.9 283.1h1M149.2 295.2h1M142.7 284.5h1M145.4 294.9h1M142.6 293.7h1M144.5 290.9h1M143.7 289.2h1M142.6 291.3h1M140.2 289.3h1M146.6 283.7h1M144.2 290.4h1M139.4 288.0h1M161.1 278.8h1M149.1 291.3h1M147.2 282.7h1M145.1 291.3h1M155.9 281.8h1M143.3 292.1h1M144.4 292.5h1M147.2 291.5h1M146.3 292.8h1M157.2 285.6h1M143.0 292.0h1M146.3 292.7h1M144.0 284.5h1M149.0 286.4h1M149.9 282.0h1M150.6 291.0h1M162.2 281.8h1M146.1 291.5h1M144.2 285.6h1M150.8 285.0h1M145.4 290.0h1M145.8 290.4h1M147.3 292.9h1M146.7 292.8h1M147.7 293.7h1M142.0 290.7h1M147.0 286.4h1M145.9 295.4h1M158.0 278.7h1M154.1 278.6h1M150.3 281.4h1M145.6 290.0h1M146.7 292.6h1M155.6 286.3h1M146.5 288.3h1M148.2 285.8h1M147.9 294.6h1M151.4 283.3h1M147.4 294.3h1M146.8 289.7h1M143.2 292.8h1M144.2 289.9h1M149.3 287.8h1M144.1 289.1h1M143.7 288.5h1M150.2 285.4h1M144.4 288.0h1M153.7 283.9h1M141.6 293.4h1M148.6 286.2h1M148.4 286.7h1M142.6 291.3h1M147.1 295.8h1M151.0 285.2h1M142.7 289.7h1M144.1 289.8h1M150.5 288.1h1M144.8 289.5h1M148.3 286.9h1M143.7 290.2h1M147.8 288.6h1M152.9 285.0h1M148.5 289.1h1M147.7 284.1h1M140.6 283.0h1M145.8 292.9h1M155.9 284.7h1M145.3 295.4h1M157.3 280.4h1M147.1 293.3h1M155.2 281.6h1M145.5 289.3h1M140.2 287.8h1M144.6 287.3h1M146.5 286.6h1M150.7 289.0h1M154.9 287.6h1M143.2 289.8h1M149.3 288.0h1M150.6 286.5h1M143.8 288.0h1M140.6 286.7h1M142.6 289.1h1M147.6 282.8h1M149.9 285.0h1M144.0 290.5h1M143.0 291.1h1M152.9 283.1h1M144.0 293.1h1M144.7 286.7h1M146.2 292.9h1M139.2 288.1h1M146.5 289.2h1M146.3 290.8h1M153.2 280.9h1M157.5 275.8h1M146.8 291.4h1M150.7 283.1h1M153.3 286.0h1M146.5 292.2h1M144.2 290.8h1M155.4 281.5h1M147.2 292.5h1M146.6 290.5h1M143.4 287.7h1M145.9 290.1h1M145.9 291.8h1M150.5 286.3h1M153.6 283.7h1M144.9 289.7h1M143.1 291.3h1M144.0 287.2h1M140.2 288.3h1M147.0 293.3h1M152.1 282.2h1M160.0 278.2h1M145.0 284.3h1M144.2 291.5h1M148.9 284.0h1M142.5 288.1h1M153.5 280.2h1M151.8 287.9h1M145.6 294.4h1M151.3 285.9h1M147.6 291.7h1M142.2 287.4h1M149.4 289.2h1M143.7 289.1h1M140.3 290.0h1M149.9 284.9h1M143.7 289.4h1M141.2 287.7h1M148.0 297.0h1M146.2 287.4h1M142.8 288.9h1M151.0 288.4h1M145.2 289.8h1M154.4 286.8h1M144.6 289.5h1M145.4 291.4h1M142.4 292.8h1M144.2 291.6h1M149.6 285.6h1M143.3 291.2h1M147.4 295.2h1M146.3 286.4h1M147.5 286.0h1M143.9 289.7h1M147.2 290.7h1M143.7 293.0h1M147.2 292.2h1M148.8 282.4h1M156.0 281.8h1M145.2 289.3h1M144.8 289.2h1M148.7 287.8h1M149.1 280.2h1M149.1 287.8h1M144.8 291.0h1M145.0 284.6h1M151.4 284.6h1M147.7 294.4h1M142.6 290.6h1M149.8 288.4h1M147.4 287.3h1M150.1 283.1h1M144.3 287.0h1M143.9 289.5h1M147.7 293.3h1M145.6 293.1h1M142.7 289.2h1M146.9 292.8h1M144.7 289.9h1M151.3 282.7h1M144.5 292.4h1M143.9 287.4h1M141.6 286.6h1M156.7 284.4h1M143.6 284.1h1M146.3 291.4h1M147.9 282.3h1M146.0 289.3h1M144.6 289.8h1M154.4 281.1h1M146.1 281.4h1M156.0 280.7h1M152.6 283.7h1M148.8 283.8h1M146.3 288.8h1M145.9 293.6h1M148.7 284.5h1M146.6 289.9h1M147.7 283.8h1M146.6 290.4h1M145.9 292.1h1M149.1 297.1h1M151.6 288.0h1M154.2 283.9h1M148.2 293.4h1M146.6 285.1h1M155.8 284.6h1M143.2 289.5h1M144.0 288.5h1M146.0 293.9h1M153.3 284.1h1M149.9 291.4h1M142.1 286.7h1M143.4 292.7h1M144.5 288.5h1M151.3 284.0h1M141.5 285.4h1M147.0 292.4h1M150.0 286.8h1M141.6 289.0h1M143.3 286.1h1M147.8 284.7h1M147.3 294.1h1M144.2 290.5h1M146.6 287.6h1M146.7 290.9h1M145.5 289.9h1M147.4 289.1h1M148.5 290.3h1M144.9 291.7h1M146.5 292.7h1M146.2 284.7h1M152.7 284.1h1M153.4 282.1h1M144.6 291.1h1M152.3 284.0h1M149.2 284.5h1M145.1 288.7h1M150.5 289.3h1M149.8 284.3h1M154.9 278.5h1M145.2 292.6h1M151.2 288.7h1M145.1 289.1h1M145.8 290.2h1M151.4 282.2h1M150.4 285.1h1M146.3 293.7h1M147.0 291.9h1M147.5 288.8h1M142.8 291.0h1M148.2 281.9h1M146.4 290.4h1M147.7 289.9h1M149.8 290.3h1M159.5 283.7h1M146.8 290.4h1M147.2 292.4h1M154.8 278.9h1M147.5 293.2h1M146.7 292.4h1M146.2 294.9h1M153.5 285.5h1M148.3 289.3h1M151.4 290.5h1M145.5 287.3h1M147.0 291.3h1M146.7 293.3h1M142.9 288.9h1M146.3 284.9h1M147.4 290.1h1M155.9 281.6h1M145.8 292.2h1M146.4 291.8h1M142.6 289.3h1M154.7 283.3h1M146.0 294.1h1M149.9 285.0h1M154.1 281.8h1M143.4 287.1h1M151.7 287.7h1M146.0 297.5h1M142.5 286.9h1M144.5 293.9h1M148.7 290.9h1M144.9 288.2h1M143.8 289.9h1M149.8 282.8h1M146.5 286.1h1M145.4 290.8h1M146.4 291.9h1M143.5 292.1h1M147.4 291.9h1M159.0 279.2h1M142.3 287.9h1M151.1 290.8h1M147.4 293.2h1M149.5 284.1h1M151.8 291.4h1M146.5 291.1h1M143.0 292.6h1M148.9 294.9h1M149.2 278.9h1M142.3 286.1h1M151.0 288.0h1M144.6 289.7h1M140.7 290.2h1M151.3 290.9h1M148.8 289.2h1M142.4 287.4h1M144.0 288.6h1M149.3 290.1h1M148.5 294.8h1M144.2 283.4h1M146.1 290.5h1M141.0 292.3h1M142.2 285.6h1M144.6 290.1h1M141.3 287.0h1M147.3 286.4h1M148.4 294.2h1M150.1 288.1h1M153.8 285.6h1M148.0 290.4h1M143.9 292.8h1M146.6 293.0h1M149.5 282.7h1M144.8 289.1h1M146.3 292.9h1M144.4 288.0h1M148.2 286.2h1M149.8 291.1h1M152.6 289.7h1M143.3 289.4h1M143.9 288.1h1M146.7 291.4h1M146.5 290.3h1M140.9 291.2h1M146.8 291.4h1M144.7 293.0h1M154.5 282.8h1M159.6 286.9h1M158.0 283.4h1M152.3 287.2h1M147.2 292.8h1M156.7 290.7h1M147.9 292.6h1M148.4 285.0h1M145.1 291.8h1M145.1 290.7h1M147.7 286.1h1M157.0 281.1h1M146.5 290.3h1M159.5 278.1h1M162.1 275.0h1M145.4 293.6h1M142.8 285.8h1M146.0 293.1h1M145.8 289.9h1M145.6 291.1h1M141.2 284.0h1M154.6 288.1h1M148.8 281.4h1M145.9 286.4h1M147.4 291.2h1M145.5 287.7h1M146.0 288.1h1M145.4 281.9h1M145.2 288.6h1M149.4 287.6h1M145.0 293.3h1M150.3 285.0h1M156.9 281.1h1M148.0 289.8h1M142.1 290.2h1M153.0 281.4h1M149.4 294.8h1M138.9 292.1h1M148.1 292.9h1M149.8 286.7h1M151.1 291.0h1M152.5 282.2h1M150.7 287.6h1M147.4 289.8h1M142.0 292.1h1M144.7 292.1h1M145.6 287.0h1M150.0 286.1h1M143.4 290.2h1M146.5 292.4h1M148.7 287.1h1M139.8 289.2h1M141.8 291.7h1M145.5 289.7h1M145.8 286.3h1M147.9 293.6h1M142.7 294.1h1M147.9 291.6h1M142.1 289.8h1M149.3 285.5h1M147.9 292.2h1M144.9 285.0h1M150.6 287.2h1M145.3 290.6h1M150.2 284.4h1M153.7 283.5h1M146.4 285.2h1M154.4 283.3h1M142.5 287.7h1M149.4 282.4h1M150.3 291.5h1M142.9 289.4h1M141.7 284.7h1M147.1 292.8h1M143.5 288.6h1M139.5 280.9h1M152.4 284.1h1M147.4 292.3h1M147.5 289.9h1M146.9 296.0h1M146.4 288.8h1M154.0 284.9h1M149.2 283.5h1M149.2 287.6h1M148.2 294.1h1M145.3 292.3h1M146.2 290.2h1M139.6 286.9h1M143.1 290.6h1M149.6 282.3h1M146.0 292.9h1M155.9 279.3h1M144.2 292.7h1M146.8 285.2h1M147.8 296.0h1M144.8 286.0h1M144.5 291.6h1M151.6 295.8h1M146.2 290.4h1M143.5 288.2h1M150.3 288.4h1M156.6 283.7h1M146.8 292.6h1M148.0 281.1h1M147.0 289.8h1M141.7 284.5h1M161.6 281.2h1M142.3 293.1h1M143.9 289.6h1M144.1 294.0h1M146.5 291.3h1M143.3 287.1h1M151.2 291.6h1M156.6 280.1h1M151.1 279.8h1M148.1 293.7h1M151.8 290.6h1M157.9 283.3h1M148.2 290.1h1M145.5 286.5h1M150.8 289.2h1M147.1 296.4h1M146.3 292.9h1M151.1 291.6h1M147.9 285.2h1M146.5 293.5h1M147.4 292.4h1M142.8 286.2h1M142.5 285.9h1M148.9 284.6h1M146.8 289.3h1M147.9 289.9h1M143.0 291.3h1M144.0 291.1h1M147.8 287.8h1M143.4 292.3h1M148.8 289.7h1M145.9 291.9h1M144.5 290.8h1M150.4 286.9h1M143.9 289.6h1M146.1 292.9h1M143.8 289.5h1M149.7 293.4h1M162.6 275.6h1M142.8 293.6h1M144.5 287.8h1M144.9 289.2h1M152.1 285.2h1M145.4 290.3h1M140.3 291.9h1M152.2 280.8h1M144.2 291.4h1M146.3 290.1h1M144.7 293.1h1M146.6 294.4h1M144.5 289.7h1M147.7 281.2h1M150.8 285.1h1M141.2 286.1h1M146.6 284.3h1M147.5 292.7h1M147.8 290.5h1M145.6 287.4h1M148.6 285.2h1M144.8 290.4h1M142.2 285.6h1M148.2 289.8h1M145.8 288.5h1M148.4 295.4h1M154.9 279.1h1M147.3 292.8h1M149.3 284.4h1M149.2 291.1h1M151.8 281.6h1M143.6 294.8h1M157.8 278.6h1M144.0 288.0h1M143.5 291.2h1M147.7 290.3h1M160.1 278.8h1M152.0 290.7h1M145.5 293.6h1M139.8 284.0h1M153.4 282.2h1M139.4 287.0h1M144.9 289.0h1M146.8 291.7h1M157.4 276.7h1M143.1 287.2h1M154.1 283.3h1M144.2 290.0h1M147.8 294.8h1M152.6 285.3h1M150.7 287.8h1M146.5 296.6h1M148.9 285.4h1M149.8 286.5h1M142.9 288.2h1M147.8 289.3h1M149.6 290.8h1M148.0 293.8h1M144.9 290.5h1M143.4 289.0h1M144.0 288.2h1M140.8 288.3h1M146.2 290.1h1M146.1 295.3h1M141.6 283.7h1M141.4 284.5h1M147.0 294.7h1M148.3 282.1h1M158.1 280.4h1M152.0 280.7h1M145.2 293.7h1M154.9 284.8h1M147.6 289.1h1M147.7 291.8h1M145.1 290.7h1M147.2 291.1h1M157.2 286.1h1M151.3 289.5h1M144.0 288.7h1M143.2 288.8h1M144.8 289.8h1M149.1 286.3h1M157.3 280.4h1M142.9 289.9h1M147.4 291.3h1M145.4 290.4h1M145.4 291.8h1M148.4 287.8h1M150.4 288.4h1M141.0 289.0h1M147.4 295.2h1M153.7 284.4h1M148.7 289.3h1M150.2 288.5h1M147.4 293.1h1M146.9 292.1h1M149.2 288.0h1M144.8 290.0h1M140.7 287.4h1M146.5 290.3h1M150.9 284.6h1M143.6 290.5h1M156.4 289.2h1M146.8 282.3h1M144.6 291.2h1M148.6 292.7h1M148.0 292.2h1M152.0 289.3h1M147.7 283.7h1M141.7 289.4h1M144.9 293.3h1M151.7 284.0h1M150.1 293.4h1M148.9 288.2h1M148.3 288.6h1M155.9 282.8h1M143.3 290.9h1M152.7 284.5h1M143.2 289.3h1M150.3 286.1h1M153.3 282.1h1M144.1 292.5h1M145.7 284.6h1M142.5 286.5h1M146.5 291.3h1M146.7 290.2h1M142.2 289.0h1M143.9 290.7h1M148.0 284.2h1M154.6 289.8h1M141.9 286.8h1M147.0 296.2h1M158.9 276.8h1M153.3 285.1h1M147.6 287.4h1M143.5 290.4h1M147.0 292.9h1M149.0 290.6h1M143.8 290.5h1M154.3 280.1h1M151.0 294.2h1M151.0 291.1h1M144.5 291.7h1M143.9 290.4h1M145.3 291.7h1M147.8 288.7h1M148.1 293.1h1M143.6 287.8h1M147.9 288.3h1M145.8 286.9h1M156.9 284.7h1M149.5 294.5h1M144.1 291.1h1M147.2 291.1h1M156.9 285.0h1M144.5 289.9h1M144.4 287.4h1M147.6 292.9h1M149.4 289.0h1M147.1 288.1h1M147.7 294.6h1M146.2 290.7h1M148.6 281.4h1M153.1 285.0h1M151.4 285.1h1M154.5 289.4h1M145.5 290.2h1M145.0 289.8h1M152.3 286.1h1M144.5 292.2h1M143.1 286.4h1M143.0 292.9h1M144.8 289.5h1M147.7 294.3h1M148.9 297.5h1M147.4 284.5h1M142.8 288.5h1M143.7 288.3h1M144.3 288.6h1M143.4 289.2h1M154.6 282.8h1M147.5 293.2h1M144.6 285.8h1M140.6 288.0h1M141.5 286.0h1M147.8 293.0h1M148.3 293.5h1M141.9 286.9h1M143.6 285.2h1M155.5 282.2h1M148.1 292.7h1M148.0 292.5h1M145.8 290.8h1M161.9 277.9h1M156.1 282.3h1M148.3 285.8h1M153.7 290.4h1M144.8 290.9h1M143.6 287.3h1M146.3 287.7h1M143.6 285.6h1M144.6 291.1h1M147.0 293.6h1M146.7 284.4h1M150.1 290.9h1M146.6 298.1h1M147.3 290.3h1M151.7 281.2h1M143.2 288.7h1M146.8 287.9h1M140.9 288.8h1M148.8 283.0h1M143.6 290.8h1M143.5 291.2h1M146.8 291.7h1M158.7 276.1h1M148.9 295.3h1M146.0 294.3h1M150.5 289.6h1M146.1 287.2h1M158.5 284.5h1M143.1 290.9h1M147.0 296.6h1M147.8 292.9h1M146.5 285.9h1M147.3 287.0h1M155.6 288.1h1M145.5 294.5h1M144.3 290.6h1M146.3 290.5h1M151.4 286.0h1M147.4 285.7h1M145.0 289.9h1M142.9 289.7h1M150.5 284.5h1M152.5 286.0h1M161.2 274.9h1M147.3 291.8h1M155.9 281.8h1M145.5 293.5h1M147.0 292.8h1M147.5 293.9h1M146.6 292.0h1M146.0 292.8h1M144.8 290.2h1M147.2 291.3h1M143.5 288.2h1M149.5 286.0h1M147.5 291.7h1M146.0 289.7h1M155.5 283.2h1M145.8 285.8h1M149.7 292.4h1M144.9 288.4h1M147.2 290.5h1M149.4 286.9h1M146.6 293.3h1M152.2 283.3h1M153.9 280.1h1M149.8 280.3h1M144.6 289.8h1M140.8 289.3h1M146.5 291.8h1M149.8 292.6h1M147.0 281.0h1M143.2 286.9h1M146.2 291.0h1M157.0 284.4h1M145.6 291.5h1M152.9 285.1h1M152.3 286.3h1M144.9 293.2h1M150.9 292.3h1M146.4 292.1h1M141.9 288.2h1M141.8 291.4h1M143.8 292.7h1M146.9 285.9h1M144.9 289.7h1M146.6 287.3h1M142.8 289.7h1M147.0 292.0h1M144.8 289.2h1M141.1 289.4h1M141.7 290.5h1M148.7 287.7h1M151.2 294.2h1M145.0 291.8h1M149.0 293.6h1M150.9 287.6h1M153.9 277.0h1M145.3 292.1h1M148.1 284.9h1M156.9 277.0h1M144.2 286.9h1M157.5 285.7h1M153.7 281.4h1M148.5 292.6h1M144.1 294.3h1M147.6 282.3h1M152.1 284.3h1M152.4 282.7h1M152.9 283.4h1M147.6 291.7h1M143.6 289.5h1M144.6 289.7h1M149.1 293.4h1M144.9 283.6h1M144.5 289.6h1M147.3 290.8h1M149.1 282.8h1M146.7 286.8h1M158.1 276.3h1M159.1 279.2h1M142.8 290.0h1M146.7 292.6h1M145.9 294.3h1M144.1 291.6h1M148.6 286.2h1M144.9 291.9h1M144.4 291.5h1M143.1 287.2h1M152.7 288.1h1M146.0 290.9h1M147.1 292.3h1M149.1 282.4h1M150.5 289.5h1M152.8 292.4h1M152.7 286.3h1M141.3 287.7h1M147.4 288.9h1M144.9 290.6h1M152.5 285.1h1M150.5 285.2h1" stroke="#000" stroke-width="1" stroke-opacity="0.6" fill="none" filter="url(#bl)"/>
<path d="M167.1 262.8h1M168.3 263.7h1M158.2 274.1h1M162.1 270.3h1M166.8 267.0h1M169.1 261.9h1M164.8 268.7h1M159.0 272.6h1M154.5 283.5h1M162.9 269.0h1M165.1 270.2h1M167.0 270.6h1M155.5 273.4h1M166.5 264.0h1M162.5 270.4h1M160.3 276.2h1M155.9 277.5h1M153.1 282.8h1M164.1 267.4h1M158.4 277.0h1M166.1 263.9h1M158.8 277.1h1M154.1 273.7h1M164.0 264.7h1M161.0 276.9h1M170.0 262.5h1M161.2 270.3h1M171.5 265.6h1M155.5 281.6h1M154.2 283.2h1M151.8 282.4h1M168.6 265.3h1M161.3 273.6h1M163.4 266.0h1M162.2 272.6h1M169.3 262.6h1M168.2 267.3h1M162.2 274.3h1M154.6 278.6h1M158.3 274.4h1M159.3 275.1h1M159.3 276.2h1M164.5 267.7h1M167.0 265.4h1M167.7 266.2h1M156.1 279.4h1M156.5 280.7h1M164.4 269.2h1M164.2 266.8h1M164.1 264.9h1M169.3 264.9h1M157.7 275.7h1M152.9 281.3h1M158.4 275.0h1M156.1 274.7h1M153.6 280.4h1M161.3 266.2h1M160.8 271.9h1M162.3 269.1h1M169.9 266.6h1" stroke="#000" stroke-width="1" stroke-opacity="0.45" fill="none" filter="url(#bl)"/>
<path d="M201.3 296.4h1M194.5 281.2h1M198.3 293.9h1M204.1 281.7h1M188.9 291.4h1M193.0 291.5h1M222.1 293.4h1M197.4 289.4h1M176.5 291.0h1M223.2 297.8h1M186.9 289.4h1M232.3 289.1h1M196.0 291.1h1M190.9 292.1h1M193.9 296.7h1M184.0 289.1h1M185.8 284.5h1M174.6 297.7h1M208.4 290.6h1M184.8 287.0h1M200.4 287.5h1M200.0 287.6h1M190.0 287.9h1M197.1 283.2h1M195.7 297.1h1M191.5 292.9h1M197.1 296.0h1M197.2 289.2h1M186.1 292.8h1M183.3 291.9h1M187.9 297.0h1M197.9 295.1h1M210.9 292.8h1M211.8 287.7h1M199.8 284.9h1M206.4 286.9h1M197.9 287.8h1M208.0 288.3h1M197.9 284.7h1M193.7 292.4h1M196.5 280.7h1M216.2 285.4h1M184.2 284.2h1M196.6 292.2h1M190.5 296.4h1M206.5 286.0h1M215.3 294.1h1M193.4 289.6h1M168.0 296.8h1M202.9 297.9h1M202.9 292.6h1M179.2 294.6h1M194.1 291.0h1M195.9 289.1h1M172.7 285.1h1M203.5 292.7h1M201.1 290.6h1M199.0 289.1h1M185.6 290.6h1M189.2 290.1h1M190.0 285.7h1M201.5 288.3h1M186.4 296.8h1M211.7 289.8h1M200.5 298.1h1M174.0 285.1h1M214.0 284.1h1M198.2 291.6h1M190.8 294.9h1M197.6 287.7h1M177.6 294.2h1M198.5 295.7h1M171.0 296.4h1M185.9 290.4h1M210.6 290.7h1M209.6 282.6h1M193.0 291.1h1M186.5 292.4h1M206.2 298.2h1M196.0 284.6h1M198.7 286.7h1M203.0 285.9h1M185.3 295.5h1M204.7 278.2h1M174.5 285.5h1M180.1 294.3h1M189.9 284.3h1M189.5 290.7h1M204.0 295.3h1M204.2 293.8h1M200.2 289.9h1M202.1 287.0h1M201.3 295.2h1M195.7 291.0h1M176.5 295.1h1M172.4 293.0h1M172.5 288.6h1M195.9 298.3h1M194.0 288.5h1M195.0 293.2h1M198.7 287.8h1M194.0 289.8h1M186.0 289.7h1M180.7 287.7h1M176.6 292.2h1M209.1 297.6h1M182.3 298.3h1M193.5 290.1h1M201.0 298.4h1M213.0 293.1h1M198.2 284.6h1M208.4 298.5h1M178.2 288.0h1M188.7 296.8h1M195.9 288.6h1M188.8 295.6h1M218.4 289.6h1M205.4 281.5h1M198.4 286.1h1M186.3 289.8h1M205.4 291.1h1M202.9 279.7h1M190.9 285.0h1M191.8 287.3h1M181.0 289.9h1M195.5 292.1h1M205.4 286.9h1M206.8 283.4h1M202.4 292.5h1M204.9 289.3h1M190.2 295.5h1M191.4 288.4h1M208.9 294.3h1M201.0 286.5h1M188.0 292.4h1M201.5 291.5h1M205.0 293.3h1M203.7 286.3h1M197.4 290.4h1M190.9 286.7h1M200.5 290.2h1M214.0 294.1h1M189.3 291.2h1M199.8 294.6h1M183.4 291.6h1M198.7 296.7h1M193.1 293.3h1M206.3 296.3h1M197.3 292.8h1M220.2 297.9h1M194.0 282.4h1M187.6 292.5h1M201.0 291.4h1M195.3 279.9h1M197.7 286.7h1M190.0 288.7h1M202.0 287.3h1M197.0 291.7h1M173.7 282.0h1M193.8 294.8h1M199.7 294.9h1M208.5 292.8h1M190.2 289.4h1M187.9 291.0h1M208.2 288.7h1M189.9 296.8h1M197.3 293.6h1M203.9 289.2h1M196.3 298.3h1M184.7 288.1h1M206.7 290.2h1M191.7 285.8h1M190.8 293.7h1M217.1 290.7h1M205.4 294.1h1M185.2 298.5h1M191.2 290.7h1M193.7 292.9h1M188.4 295.5h1M176.3 290.7h1M204.5 288.3h1M204.3 292.8h1M198.7 293.6h1M192.0 294.9h1M198.4 295.2h1M202.8 287.7h1M185.4 293.3h1M192.8 297.2h1M190.4 288.7h1M203.4 292.9h1M198.9 287.9h1M182.7 291.9h1M214.5 291.9h1M186.1 286.2h1M197.8 292.8h1M189.7 292.1h1M209.1 296.6h1M195.5 284.2h1M191.7 286.4h1M184.0 290.6h1M193.6 283.2h1M204.8 296.7h1M203.1 280.9h1M182.5 286.9h1M212.3 283.6h1M193.6 287.7h1M185.2 295.1h1M197.5 294.1h1M189.7 295.7h1M190.2 294.1h1M189.6 280.8h1M195.2 292.5h1M191.0 281.8h1M178.4 288.5h1M201.5 289.1h1M190.7 288.3h1M208.5 293.5h1M201.7 287.0h1M198.0 294.0h1M209.5 297.0h1M192.7 294.8h1M185.8 295.5h1M199.7 290.8h1M192.3 285.8h1M198.3 293.4h1M191.8 291.1h1M209.1 289.9h1M203.4 292.6h1M197.3 287.3h1M192.0 295.4h1M207.4 295.0h1M189.1 291.5h1M191.8 294.7h1M203.8 285.8h1M202.3 282.0h1M217.1 288.1h1M193.9 289.9h1M202.9 289.9h1M209.1 296.2h1M194.4 295.3h1M214.5 291.6h1M189.2 294.3h1M191.1 290.1h1M183.1 286.7h1M201.7 286.0h1M203.5 287.1h1M202.3 298.2h1M183.3 292.5h1M188.2 290.3h1M181.3 291.1h1M179.4 288.2h1M182.2 290.9h1M179.7 290.8h1M194.2 294.3h1M200.4 295.6h1M202.5 282.9h1M195.8 292.2h1M189.1 297.9h1M195.9 285.9h1M201.9 289.8h1M193.0 291.9h1M196.6 296.6h1M192.9 294.0h1M190.6 290.0h1M196.4 293.6h1M184.5 296.2h1M206.9 293.0h1M200.8 293.2h1M182.0 285.8h1M211.6 287.1h1M205.0 290.4h1M187.6 290.0h1M191.4 294.2h1M184.4 292.8h1M200.2 295.1h1M222.3 298.5h1M181.9 287.2h1M208.8 288.9h1M190.0 294.5h1M198.8 291.5h1M205.1 294.2h1M201.6 292.3h1M200.4 288.0h1M195.9 296.8h1M197.6 283.3h1M208.3 288.0h1M180.9 291.2h1M190.9 294.5h1M183.2 290.7h1M186.1 284.3h1M187.8 295.2h1M207.3 290.0h1M218.1 297.1h1M209.9 292.6h1M183.8 296.1h1M196.8 295.3h1M184.3 295.5h1M200.6 288.5h1M209.1 296.2h1M202.0 292.1h1M205.0 284.9h1M194.5 289.1h1M175.8 289.4h1M175.6 293.4h1M195.0 294.5h1M201.9 285.5h1M209.1 294.7h1M192.4 290.8h1M196.8 285.8h1M198.6 295.3h1M206.9 287.3h1M195.3 285.1h1M184.7 294.9h1M207.1 295.6h1M200.2 287.8h1M199.9 296.4h1M182.9 296.1h1M195.9 288.5h1M175.4 290.8h1M193.6 292.2h1M191.5 279.2h1M201.8 294.3h1M210.8 288.0h1M195.6 293.3h1M214.4 282.6h1M190.0 296.9h1M203.8 298.4h1M197.3 276.4h1M192.7 294.1h1M193.8 292.9h1M202.0 276.1h1M176.6 287.5h1M197.2 290.7h1M187.7 298.3h1M197.2 287.0h1M200.0 292.2h1M192.2 290.9h1M192.2 293.0h1M184.2 289.2h1M201.6 295.6h1M189.1 296.0h1M200.6 284.4h1M181.4 296.8h1M210.0 287.5h1M185.5 289.8h1M207.9 296.8h1M191.4 291.7h1M201.6 294.1h1M194.5 295.1h1M203.0 294.2h1M196.0 288.5h1M209.0 286.5h1M202.9 294.6h1M203.0 295.0h1M213.1 293.0h1M188.8 290.3h1M209.3 295.5h1M196.7 291.1h1M180.8 284.4h1M200.9 292.6h1M193.9 293.8h1M213.3 295.1h1M191.0 286.8h1M196.5 287.5h1M198.4 292.9h1M176.5 289.0h1M201.2 290.9h1M185.8 295.9h1M210.4 293.2h1M195.9 292.7h1M197.9 296.6h1M203.4 291.4h1M193.0 290.9h1M183.8 297.8h1M194.5 288.8h1M186.5 289.0h1M214.2 292.6h1M188.7 293.2h1M189.3 284.4h1M195.5 292.6h1M183.3 289.8h1M191.4 291.2h1M194.6 292.3h1M191.0 290.4h1M193.4 296.7h1M208.7 293.8h1M200.4 290.5h1M182.3 291.8h1M191.6 296.6h1M203.7 295.3h1M189.3 297.7h1M196.8 290.8h1M195.7 292.1h1M194.2 291.3h1M187.2 295.7h1M199.7 289.3h1M186.5 284.5h1M213.8 294.6h1M195.8 288.0h1M193.7 288.0h1M204.1 282.9h1M195.1 297.4h1M196.9 292.0h1M195.5 291.6h1M188.6 293.5h1M186.6 292.7h1M188.8 292.0h1M207.6 294.1h1M189.6 290.1h1M191.8 278.7h1M191.4 295.2h1M203.1 293.6h1M216.3 291.6h1M201.6 284.6h1M197.2 277.1h1M192.9 298.9h1M201.2 293.6h1M183.0 283.4h1M204.5 289.5h1M198.3 294.6h1M185.8 285.5h1M212.3 294.3h1M207.9 298.4h1M181.1 291.4h1M193.2 293.1h1M190.6 286.8h1M202.4 292.2h1M209.9 289.9h1M176.5 286.6h1M196.2 284.9h1M206.2 292.0h1M195.6 286.4h1M183.0 289.4h1M194.0 298.9h1M188.0 288.5h1M196.4 292.5h1M191.1 295.9h1M198.9 289.8h1M180.5 285.7h1M219.7 286.7h1M208.9 291.6h1M203.3 287.7h1M182.8 285.1h1M173.9 290.3h1M187.2 296.1h1M193.6 294.9h1M218.8 290.4h1M190.6 287.6h1M208.4 291.1h1M208.5 284.7h1M196.2 295.4h1M208.4 290.9h1M199.4 283.2h1M189.3 287.4h1M194.7 295.1h1M206.2 292.1h1M182.1 295.8h1M179.5 283.6h1M201.6 287.4h1M168.2 284.9h1M214.6 287.4h1M191.5 289.6h1M203.5 294.1h1M215.0 296.5h1M181.2 296.3h1M218.9 289.0h1M193.1 291.4h1M194.7 294.0h1M198.3 287.4h1M206.8 290.1h1M209.6 293.5h1M197.1 287.1h1M192.6 293.8h1M195.6 297.6h1M199.1 285.9h1M209.4 280.1h1M197.4 291.9h1M214.6 286.3h1M187.2 292.3h1M201.4 289.2h1M214.0 293.0h1M209.2 297.1h1M199.4 295.5h1M187.0 289.7h1M188.7 285.6h1M194.4 279.1h1M199.2 280.7h1M193.5 287.5h1M181.1 291.9h1M188.5 288.1h1M201.3 288.4h1M204.5 283.5h1M181.7 283.2h1M192.3 282.8h1M178.9 294.4h1M190.2 281.5h1M232.2 294.7h1M196.7 286.8h1M192.5 293.9h1M190.0 292.4h1M183.6 295.0h1M177.0 297.1h1M195.6 287.3h1M193.2 286.4h1M211.1 289.0h1M179.3 287.3h1M200.5 294.4h1M209.7 290.6h1M176.0 291.1h1M202.7 293.2h1M179.5 288.7h1M201.3 296.5h1M211.1 281.9h1M196.0 292.2h1M198.9 293.5h1M188.9 287.2h1M199.0 287.6h1M207.6 295.5h1M194.1 289.5h1M194.6 281.5h1M200.0 284.3h1M204.4 296.0h1M179.3 286.6h1M196.6 297.5h1M189.0 297.8h1M201.1 290.0h1M206.6 293.7h1M199.2 286.9h1M209.2 289.0h1M185.9 287.5h1M191.8 293.9h1M185.9 284.6h1M196.6 290.3h1M197.0 291.2h1M194.0 293.6h1M183.6 280.4h1M195.2 282.1h1M191.5 286.6h1M202.2 289.9h1M193.2 291.7h1M207.9 291.9h1M177.0 294.2h1M194.2 293.9h1M181.4 288.5h1M205.9 294.9h1M210.7 294.4h1M195.7 294.3h1M200.5 290.4h1M181.2 294.0h1M173.0 298.5h1M190.3 287.0h1M193.4 280.2h1M180.5 295.0h1M196.9 294.6h1M199.2 289.8h1M202.6 288.7h1M204.3 288.6h1M192.3 284.9h1M197.1 288.6h1M202.2 293.4h1M185.3 287.9h1M209.6 289.0h1M205.2 292.4h1M193.7 288.8h1M189.5 291.6h1M204.6 285.6h1M205.6 291.3h1M214.4 285.2h1M206.1 295.5h1M198.2 286.3h1M203.2 289.7h1M186.7 281.9h1M203.4 288.7h1M180.3 284.7h1M200.4 298.3h1M201.8 290.3h1M180.1 293.5h1M215.7 282.2h1M184.3 284.8h1M206.8 290.1h1M190.7 284.2h1M199.3 296.6h1M189.3 288.9h1M221.6 291.6h1M206.7 292.4h1M214.6 290.1h1M204.1 294.7h1M203.3 287.6h1M197.7 292.7h1M193.7 296.8h1M202.4 291.9h1M197.8 291.5h1M194.6 289.2h1M182.1 291.2h1M193.0 294.2h1M202.4 289.7h1M191.4 282.6h1M199.8 291.7h1M194.7 290.1h1M185.6 293.2h1M186.9 291.1h1M188.6 298.6h1M193.2 284.9h1M193.5 286.1h1M207.7 294.1h1M185.1 285.8h1M175.3 292.5h1M203.3 290.8h1M191.6 281.2h1M195.0 294.2h1M222.4 297.6h1M211.3 291.9h1M202.3 284.0h1M206.0 294.7h1M197.5 285.7h1M206.1 290.3h1M190.0 292.9h1M189.0 287.0h1M191.5 282.5h1M212.5 290.2h1M212.2 290.6h1M190.1 286.7h1M208.2 287.0h1M194.7 294.5h1M207.3 290.4h1M193.0 288.5h1M206.1 287.9h1M195.2 291.7h1M193.4 291.3h1M196.1 290.0h1M197.9 284.0h1M190.4 289.0h1M182.3 287.8h1M213.7 291.2h1M192.3 296.5h1M177.7 295.5h1M173.1 294.0h1M167.6 291.4h1M190.1 289.3h1M210.3 292.5h1M179.6 288.5h1M193.1 289.2h1M177.5 286.7h1M207.7 290.6h1M200.1 290.5h1M210.2 293.5h1M213.3 289.0h1M207.0 294.6h1M190.4 288.5h1M182.8 295.7h1M185.7 294.6h1M214.9 285.6h1M194.4 290.5h1M197.7 290.3h1M198.4 292.3h1M217.2 294.3h1M190.6 286.1h1M208.6 287.3h1M199.5 292.3h1M194.8 295.5h1M176.7 285.4h1M205.9 283.3h1M188.8 296.4h1M191.7 294.9h1M198.7 296.1h1M197.4 286.1h1M208.0 289.9h1M189.5 291.9h1M198.1 293.0h1M199.3 290.3h1M196.7 290.6h1M203.4 295.7h1M193.8 288.7h1M208.8 288.2h1M189.1 288.7h1M181.6 288.4h1M196.0 291.5h1M208.6 289.8h1M191.1 288.7h1M190.0 297.7h1M192.9 292.3h1M198.1 289.2h1M194.6 296.9h1M199.6 288.2h1M178.7 290.8h1M211.9 290.4h1M202.4 288.1h1M187.6 289.0h1M210.6 291.2h1M201.1 283.9h1M211.6 289.0h1M184.3 292.0h1M213.5 292.2h1M196.9 292.3h1M204.2 294.0h1M193.3 290.1h1M186.0 290.2h1M194.2 290.8h1M176.4 292.9h1M202.4 289.4h1M194.2 298.0h1M193.6 285.5h1M211.0 293.8h1M196.8 293.2h1M189.6 285.4h1M186.6 293.8h1M195.8 293.5h1M207.4 287.8h1M185.7 294.2h1M205.9 289.3h1M197.0 288.5h1M196.2 287.3h1M217.9 292.1h1M183.9 291.1h1M198.5 284.1h1M178.1 285.9h1M193.3 287.4h1M202.5 288.9h1M208.0 289.1h1M183.3 287.6h1M205.0 293.9h1M204.5 295.3h1M195.2 291.2h1M221.8 280.4h1M196.4 290.1h1M187.4 293.5h1M200.8 290.4h1M177.2 292.1h1M212.5 291.3h1M206.6 283.7h1M192.3 278.8h1M202.7 293.8h1M201.9 288.3h1M216.3 292.8h1M190.1 289.4h1M183.1 290.0h1M175.5 297.3h1M193.4 285.1h1M180.3 290.8h1M194.6 285.6h1M200.6 291.1h1M191.9 293.1h1M186.7 293.9h1M208.7 291.5h1M194.4 284.3h1M198.8 292.0h1M206.2 295.0h1M183.0 295.5h1M222.1 293.5h1M194.8 286.0h1M185.7 288.3h1M193.8 291.2h1M190.5 295.8h1M183.8 285.4h1M192.2 295.1h1M196.2 293.9h1M196.3 286.7h1M202.0 293.7h1M178.6 287.2h1M181.0 290.8h1M204.5 289.4h1M191.9 291.9h1M208.9 285.2h1M199.5 293.3h1M181.9 280.5h1M201.9 288.9h1M186.0 288.1h1M199.1 298.3h1M209.1 293.4h1M218.2 288.5h1M195.7 286.6h1M203.6 291.0h1M199.5 287.8h1M170.2 277.6h1M192.4 291.1h1M199.4 279.1h1M201.2 295.7h1M188.7 287.0h1M204.9 298.4h1M207.8 288.2h1M197.1 295.9h1M194.1 291.8h1M192.7 296.4h1M197.8 290.9h1M208.5 276.7h1M211.8 287.4h1M191.6 283.4h1M186.9 295.3h1M188.3 293.4h1M206.5 290.8h1M198.7 293.0h1M199.5 291.7h1M201.4 288.1h1M195.2 291.9h1M185.7 289.9h1M190.1 283.9h1M197.7 287.9h1M200.4 290.9h1M192.6 290.0h1M192.2 288.5h1M210.5 290.6h1M191.6 285.5h1M198.7 290.9h1M193.2 283.5h1M187.6 286.7h1M180.9 287.3h1M190.9 294.9h1M188.0 293.1h1M205.1 291.2h1M184.6 285.4h1M192.2 288.9h1M203.1 294.6h1M195.3 296.8h1M201.5 283.8h1M205.0 288.8h1M179.4 291.3h1M192.2 292.5h1M186.6 290.9h1M210.2 294.0h1M195.2 284.0h1M201.5 298.2h1M213.8 285.4h1M192.8 291.1h1M197.2 293.3h1M200.6 296.4h1M193.7 295.1h1M209.2 295.0h1M204.8 296.9h1M206.6 290.1h1M196.9 294.4h1M192.9 298.2h1M192.8 287.2h1M192.7 284.2h1M179.7 286.1h1M200.1 297.6h1M204.7 296.8h1M196.3 289.2h1M191.4 292.0h1M196.8 293.1h1M198.7 295.9h1M199.7 281.9h1M214.7 288.2h1M187.7 289.6h1M200.1 292.4h1M203.4 291.2h1M197.2 289.4h1M194.0 292.3h1M186.0 278.6h1M203.6 294.8h1M211.2 295.1h1M189.7 287.8h1M201.2 292.9h1M198.9 291.3h1M200.9 285.0h1M205.5 291.7h1M184.6 289.5h1M196.9 295.0h1M178.5 284.8h1M176.4 290.0h1M188.0 292.2h1M180.8 288.7h1M201.5 295.9h1M206.4 285.5h1M193.3 285.0h1M195.0 289.2h1M194.0 294.9h1M193.7 289.5h1M197.7 288.1h1M199.9 294.8h1M191.7 292.0h1M188.4 288.4h1M191.1 291.5h1M204.5 289.8h1M192.1 293.8h1M211.0 291.6h1M193.9 287.1h1M210.2 288.6h1M184.3 288.9h1M189.4 292.7h1M201.2 292.7h1M201.3 286.9h1M194.8 290.0h1M216.9 292.4h1M197.1 296.2h1M199.3 292.1h1M213.0 291.0h1M205.0 294.4h1M200.5 289.3h1M179.9 286.2h1M200.0 291.4h1M191.6 293.2h1M200.3 292.5h1M205.5 291.6h1M188.8 289.3h1M198.5 287.0h1M205.2 289.5h1M198.0 293.2h1M193.0 295.5h1M185.7 275.2h1M189.6 293.8h1M183.6 296.1h1M206.3 297.0h1M197.4 292.7h1M184.1 294.1h1M196.3 288.8h1M183.4 290.5h1M163.3 293.4h1M208.5 285.7h1M208.1 287.1h1M181.5 291.9h1M189.1 284.5h1M198.4 291.2h1M192.5 283.8h1M187.7 291.8h1M191.2 291.0h1M193.9 288.2h1M190.8 286.4h1M198.4 288.5h1M194.0 280.2h1M188.7 289.0h1M196.6 291.5h1M179.6 296.7h1M210.8 288.5h1M178.9 290.1h1M195.5 297.6h1M199.7 299.2h1M200.5 288.6h1M198.9 295.9h1M209.0 296.5h1M185.0 293.4h1M195.6 286.2h1M197.8 286.4h1M191.3 293.7h1M209.2 290.0h1M189.1 298.4h1M193.5 284.9h1M194.1 288.0h1M197.9 298.1h1M194.2 295.6h1M200.0 293.5h1M197.6 290.9h1M201.1 293.9h1M210.0 287.9h1M212.8 285.4h1M191.8 282.3h1M202.9 291.6h1M197.9 297.8h1M193.3 288.5h1M176.7 290.6h1M212.4 286.0h1M188.7 290.6h1M188.4 286.0h1M206.9 286.1h1M197.0 283.8h1M215.2 288.3h1M203.3 290.6h1M198.8 291.8h1M183.1 287.9h1M197.9 286.1h1M197.7 293.4h1M191.5 285.0h1M198.8 292.5h1M181.7 296.5h1M205.2 285.7h1M209.1 288.4h1M183.3 299.1h1M197.7 285.8h1M211.6 287.6h1M200.4 292.0h1M186.0 289.4h1M186.4 286.8h1M204.7 298.6h1M214.5 288.1h1M185.4 292.5h1M196.6 288.9h1M188.5 289.8h1M193.4 284.3h1M199.3 295.4h1M195.8 288.8h1M189.4 297.0h1M217.1 285.3h1M194.6 288.6h1M194.4 293.2h1M207.2 291.4h1M196.3 287.7h1M194.2 290.2h1M205.6 284.7h1M185.9 291.2h1M203.6 278.2h1M206.4 291.7h1M202.8 297.4h1M194.4 295.2h1M196.1 295.0h1M179.2 288.9h1M194.9 293.3h1M199.1 289.0h1M204.8 290.5h1M197.6 290.4h1M192.3 274.7h1M187.9 295.3h1M195.7 293.1h1M197.5 295.0h1M208.2 286.3h1M196.3 294.2h1M191.2 293.2h1M195.1 280.2h1M191.4 282.4h1M193.9 291.2h1M174.3 287.7h1M180.4 290.8h1M184.4 287.8h1M200.8 298.1h1M195.4 281.8h1M197.6 284.3h1M207.7 286.2h1M185.9 284.3h1M207.5 288.1h1M200.0 290.8h1M189.1 284.4h1M210.9 292.7h1M182.1 297.2h1M185.0 296.2h1M200.2 296.4h1M194.3 290.8h1M193.2 294.3h1M221.3 290.0h1M209.8 280.8h1M197.4 285.3h1M185.4 291.8h1M199.6 293.6h1M184.6 289.9h1M198.2 295.8h1M199.8 285.4h1M192.2 287.6h1M198.6 295.7h1M192.9 291.2h1M190.5 291.4h1M211.3 297.7h1M201.9 296.2h1M193.1 287.1h1M188.6 291.9h1M197.9 282.8h1M201.8 290.9h1M204.6 292.8h1M210.7 282.6h1M200.7 298.5h1M216.2 293.4h1M207.6 295.4h1M204.4 298.2h1M209.4 290.1h1M181.5 296.0h1M192.5 292.8h1M191.1 283.6h1M207.9 286.6h1M184.5 288.3h1M193.0 296.1h1M211.1 291.5h1M202.5 295.7h1M192.3 288.7h1M214.7 284.8h1M193.9 292.8h1M201.2 290.1h1M193.4 296.7h1M187.9 285.7h1M198.2 290.0h1M183.1 284.1h1M201.4 293.3h1M193.0 292.2h1M205.2 289.1h1M191.7 287.9h1M189.5 283.7h1M200.1 287.0h1M208.3 296.9h1M175.7 289.3h1M197.3 297.1h1M202.3 286.8h1M182.1 290.6h1M187.4 288.8h1M202.5 289.8h1M188.0 294.7h1M189.8 281.1h1M213.0 294.6h1M186.8 294.4h1M187.6 291.0h1M173.3 291.4h1M185.3 289.9h1M184.0 294.3h1M213.0 291.3h1M208.1 286.9h1M183.6 291.7h1M215.5 295.6h1M203.7 292.8h1M194.3 291.2h1M204.1 292.0h1M199.9 288.6h1M188.6 288.8h1M178.8 282.0h1M187.1 290.1h1M196.0 295.7h1M192.6 289.1h1M188.8 286.7h1M205.7 295.3h1M185.6 291.8h1M204.9 291.7h1M191.3 293.3h1M197.2 294.4h1M185.0 290.8h1M196.0 287.0h1M188.4 299.4h1M178.9 291.3h1M195.9 287.3h1M195.6 291.9h1M204.3 296.7h1M198.9 284.2h1M186.1 297.3h1M190.0 290.4h1M185.0 294.2h1M208.9 290.5h1M211.0 297.0h1M203.6 297.1h1M199.1 289.3h1M201.9 292.1h1M200.9 288.6h1M179.0 295.4h1M187.5 284.3h1M207.8 290.2h1M207.7 280.8h1M198.4 293.8h1M193.0 280.4h1M192.3 286.0h1M190.7 292.3h1M186.9 289.3h1M177.1 288.9h1M197.5 286.4h1M191.6 288.8h1M193.9 282.6h1M213.0 292.6h1M201.9 294.9h1M189.1 294.7h1M201.8 290.8h1M181.2 296.9h1M206.4 293.2h1M198.7 295.6h1M194.1 292.9h1M201.7 291.2h1M210.4 287.4h1M191.5 278.5h1M186.3 294.1h1M216.9 290.5h1M210.8 281.6h1M189.4 295.0h1M199.8 286.5h1M189.7 291.0h1M202.3 286.8h1M193.3 292.7h1M189.4 290.9h1M211.4 295.2h1M199.4 291.7h1M176.0 293.3h1M193.7 297.1h1M187.0 293.5h1M184.0 290.4h1M190.3 296.9h1M191.3 290.5h1M196.4 293.0h1M188.2 289.5h1M177.6 287.9h1M190.7 276.7h1M204.7 294.3h1M182.5 285.5h1M202.2 294.5h1M191.6 284.8h1M199.1 295.2h1M188.6 290.6h1M192.1 293.2h1M185.9 285.3h1M200.6 291.2h1M209.6 291.8h1M189.3 297.8h1M174.8 292.5h1M187.2 289.3h1M213.1 290.5h1M190.1 290.8h1M203.8 291.5h1M175.7 293.3h1M197.1 294.4h1M201.6 288.3h1M195.6 290.5h1M197.8 298.7h1M204.1 293.2h1M209.1 292.4h1M200.0 290.0h1M179.2 295.9h1M193.9 288.6h1M205.0 291.7h1M187.9 288.9h1M201.6 288.1h1M191.2 291.3h1M196.9 291.1h1M203.6 288.3h1M188.9 290.8h1M224.5 291.4h1M197.5 288.8h1M199.4 288.0h1M188.6 290.4h1M196.6 294.4h1M193.3 296.3h1M181.5 292.0h1M180.7 289.8h1M198.9 290.9h1M169.8 295.4h1M174.6 286.6h1M192.9 290.8h1M195.3 288.6h1M202.1 289.3h1M183.6 283.1h1M201.9 291.2h1M192.9 284.6h1M190.9 288.3h1M194.6 298.3h1M205.9 295.8h1M201.6 287.0h1M204.9 286.2h1M189.1 286.8h1M193.2 282.1h1M184.4 286.4h1M190.5 289.8h1M192.0 286.1h1M191.3 294.7h1M203.1 290.8h1M200.3 288.6h1M197.3 294.5h1M206.7 291.4h1M205.7 297.3h1M201.0 287.7h1M203.4 292.6h1M195.3 289.0h1M183.6 284.3h1M215.6 298.2h1M199.9 285.0h1M200.4 293.4h1M194.3 283.3h1M191.4 296.2h1M224.7 290.8h1M184.8 289.7h1M195.4 297.1h1M195.5 291.1h1M184.7 289.9h1M183.3 295.4h1M189.0 289.6h1M192.6 295.3h1M191.1 291.1h1M204.1 295.0h1M184.2 294.1h1M200.0 294.9h1M210.7 286.3h1M184.6 290.3h1M204.5 288.2h1M201.0 289.8h1M190.1 289.8h1M208.8 296.6h1M192.0 289.1h1M197.1 293.1h1M185.6 283.6h1M199.2 288.8h1M191.7 292.2h1M191.0 290.6h1M206.8 282.1h1M198.1 293.5h1M181.0 286.5h1M204.4 290.2h1M192.1 294.3h1M196.5 293.3h1M193.5 288.8h1M197.2 290.5h1M202.5 293.3h1M191.1 281.7h1M216.8 295.9h1M188.9 285.5h1M190.6 289.9h1M215.7 277.9h1M219.8 293.3h1M196.4 294.7h1M194.1 292.5h1M185.3 292.6h1M207.4 289.3h1M197.7 291.8h1M187.5 296.9h1M200.1 289.0h1M209.7 293.5h1M202.9 294.6h1M218.1 290.0h1M207.6 292.2h1M200.4 292.1h1M195.7 288.7h1M208.2 289.0h1M204.6 299.4h1M206.5 296.3h1M198.2 281.3h1M203.7 292.3h1M208.2 296.1h1M194.3 295.0h1M183.0 286.7h1M213.3 292.3h1M201.8 285.3h1M191.6 286.1h1M198.3 289.9h1M193.5 292.0h1M178.9 298.9h1M194.2 292.8h1M181.8 296.2h1M198.0 285.3h1M194.9 285.5h1M207.3 288.7h1M199.7 284.6h1M193.0 283.4h1M192.2 290.7h1M182.0 296.8h1M205.9 283.2h1M197.7 289.9h1M190.2 284.5h1M198.1 298.1h1M191.9 294.4h1M188.8 292.4h1M198.5 290.8h1M208.2 289.9h1M193.3 291.7h1M181.8 287.9h1M189.9 286.8h1M214.0 285.7h1M187.9 291.1h1M207.9 287.2h1M193.6 295.3h1M203.4 280.9h1M194.9 293.8h1M180.2 293.7h1M191.9 297.0h1M217.1 289.8h1M194.7 283.8h1M201.6 286.6h1M192.6 296.6h1M194.7 289.6h1M199.2 289.1h1M200.7 288.2h1M218.2 290.7h1M195.8 290.0h1M194.2 283.5h1M189.4 288.2h1M182.9 296.0h1M179.9 298.1h1M202.6 290.5h1M177.4 288.5h1M210.1 297.7h1M204.6 290.2h1M193.1 285.3h1M184.5 290.4h1M196.3 294.4h1M196.2 298.6h1M207.3 288.7h1M188.6 293.7h1M192.2 289.4h1M195.5 296.6h1M193.3 292.3h1M189.8 292.3h1M178.9 286.3h1M179.6 289.5h1M189.3 289.5h1M193.8 273.5h1M206.0 295.2h1M219.1 291.0h1M213.2 290.0h1M200.0 289.3h1M214.8 291.2h1M194.9 292.2h1M190.8 284.7h1M219.2 291.7h1M185.4 291.6h1M191.9 291.2h1M193.4 283.8h1M210.6 290.4h1M190.1 284.8h1M203.8 292.7h1M192.0 297.4h1M183.8 295.3h1M198.4 289.4h1M197.7 288.4h1M184.5 288.3h1M187.4 292.7h1M188.1 287.8h1M205.7 288.4h1M200.7 278.8h1M198.4 286.9h1M200.9 287.2h1M191.3 288.4h1M200.8 296.9h1M190.0 284.4h1M182.7 284.6h1M189.0 294.0h1M198.2 286.3h1M197.0 290.2h1M206.6 291.9h1M179.2 291.1h1M193.9 287.3h1M200.0 295.5h1M186.4 298.3h1M198.6 286.2h1M192.0 289.7h1M184.8 295.6h1M207.3 290.0h1M182.2 286.2h1M206.1 288.9h1M191.9 295.1h1M186.7 286.2h1M187.2 292.3h1M188.7 292.9h1M187.6 287.9h1M198.8 293.8h1M177.4 294.3h1M208.5 295.9h1M204.4 295.6h1M209.9 283.8h1M186.3 295.4h1M172.9 293.9h1M189.8 295.8h1M194.4 286.9h1M199.1 295.4h1M190.9 292.8h1M195.2 285.4h1M197.6 297.2h1M180.6 287.2h1M214.1 286.1h1M184.9 293.0h1M198.7 288.1h1M206.9 292.8h1M188.3 289.8h1M196.1 292.4h1M212.4 295.0h1M193.3 290.9h1M206.6 295.3h1M199.0 295.2h1M198.4 287.0h1M203.3 295.2h1M193.8 294.0h1M194.0 291.7h1M205.7 296.5h1M198.7 299.1h1M201.1 294.7h1M184.2 283.9h1M196.3 293.2h1M208.2 290.4h1M205.1 289.7h1M199.6 292.7h1M191.0 289.5h1M190.0 299.0h1M200.5 292.4h1M210.3 291.2h1M196.6 294.9h1M209.2 294.9h1M193.2 296.8h1M208.2 294.1h1M186.2 290.9h1M198.0 291.7h1M185.5 280.6h1M202.7 284.0h1M201.9 296.1h1M186.7 289.5h1M181.3 285.0h1M186.9 292.6h1M204.0 287.3h1M210.0 293.0h1M191.7 290.0h1M193.3 289.9h1M198.3 289.7h1M190.9 291.0h1M193.4 294.8h1M204.5 287.2h1M198.5 293.5h1M195.3 287.7h1M190.4 293.6h1M210.8 292.6h1M190.0 287.3h1M197.4 291.8h1M185.8 287.5h1M190.2 287.0h1M197.1 296.7h1M192.2 282.3h1M201.5 293.8h1M196.8 294.5h1M182.3 288.2h1M173.1 296.4h1M206.1 295.5h1M190.3 284.8h1M210.9 293.6h1M196.3 293.4h1M188.5 287.5h1M201.7 293.9h1M193.4 294.7h1M196.3 287.6h1M186.9 281.4h1M202.5 293.0h1M207.1 287.5h1M190.9 282.7h1M214.0 289.2h1M190.5 279.5h1M198.6 289.4h1M179.8 298.4h1M176.9 277.3h1M217.1 293.3h1M210.4 286.6h1M207.6 289.1h1M179.2 286.7h1M198.4 294.2h1M200.3 291.0h1M196.9 287.3h1M199.1 284.7h1M187.0 289.0h1M194.5 296.7h1M184.7 285.2h1M192.6 293.1h1M199.8 292.7h1M188.3 281.4h1M193.4 296.4h1M191.8 290.9h1M198.5 289.9h1M200.1 290.3h1M181.7 286.2h1M192.5 284.4h1M204.3 295.0h1M187.5 289.9h1M191.8 289.1h1M186.4 290.3h1M209.4 294.4h1M191.6 295.7h1M188.8 291.1h1M202.3 290.1h1M207.1 291.6h1M205.9 281.0h1M198.2 285.4h1M194.8 293.4h1M191.7 291.8h1M191.0 297.1h1M190.1 297.5h1M195.0 287.2h1M197.0 294.1h1M202.1 289.9h1M195.5 295.8h1M182.4 292.0h1M188.2 295.4h1M184.9 287.5h1M177.0 291.9h1M197.1 288.6h1M184.1 289.8h1M183.3 288.9h1M185.3 286.1h1M204.8 296.6h1M193.0 292.6h1M206.1 296.5h1M195.2 286.2h1M191.7 281.5h1M201.7 288.0h1M202.0 290.4h1M197.2 295.0h1M185.7 296.3h1M191.5 297.1h1M184.3 298.7h1M193.5 294.7h1M197.0 291.7h1M210.9 287.4h1M210.2 294.5h1M202.8 288.7h1M205.6 287.2h1M198.3 294.0h1M223.7 292.2h1M211.3 295.3h1M222.5 287.6h1M199.9 296.9h1M200.2 292.9h1M206.6 290.3h1M197.9 287.4h1M199.1 285.8h1M186.2 284.4h1M205.4 298.0h1M197.4 284.2h1M204.1 294.2h1M193.8 289.9h1M178.3 288.3h1M201.0 288.8h1M207.7 290.7h1M183.2 295.6h1M186.3 293.9h1M193.0 291.1h1M193.5 284.4h1M179.0 282.4h1M206.1 286.2h1M189.8 283.4h1M177.9 296.6h1M199.6 283.8h1M215.8 294.8h1M204.3 295.7h1M207.5 292.3h1M186.6 295.9h1M198.3 284.3h1M181.0 285.1h1M215.8 290.2h1M201.7 291.1h1M175.0 290.7h1M177.5 293.4h1M200.8 287.5h1M197.4 280.7h1M192.9 293.1h1M202.2 290.0h1M216.1 295.1h1M178.0 291.5h1M194.4 294.0h1M182.9 286.7h1M187.9 295.6h1M199.2 292.8h1M194.3 292.3h1M185.3 295.6h1M195.7 285.6h1M187.8 293.9h1M201.3 293.4h1M193.5 298.9h1M199.9 282.2h1M193.3 290.7h1M194.6 289.1h1M195.8 289.0h1M178.2 291.7h1M222.6 287.6h1M189.1 288.2h1M196.9 289.2h1M191.2 287.0h1M191.0 287.1h1M199.9 292.0h1M190.8 291.3h1M191.6 293.4h1M182.1 291.2h1M186.6 285.2h1M184.2 294.7h1M213.9 292.3h1M182.5 288.2h1M185.1 289.8h1M197.8 292.7h1M210.1 291.5h1M178.9 290.5h1M180.4 294.9h1M197.1 296.3h1M199.2 289.6h1M181.7 291.0h1M177.8 285.7h1M186.2 290.3h1M203.3 293.4h1M195.4 295.3h1M203.3 291.9h1M194.8 290.7h1M195.5 287.6h1M202.0 292.2h1M194.6 285.7h1M198.2 291.7h1M186.7 291.2h1M189.8 286.6h1M200.5 292.7h1M193.4 290.0h1M188.3 294.0h1M202.4 288.7h1M201.3 293.5h1M195.7 298.8h1M188.2 292.0h1M204.8 295.0h1M220.8 287.9h1M187.6 289.4h1M180.4 281.8h1M188.0 290.3h1M186.5 285.6h1M183.1 291.6h1M184.0 281.0h1M204.3 286.9h1M204.4 291.5h1M210.6 293.0h1M203.2 283.0h1M191.0 289.1h1M189.7 294.9h1M192.3 291.9h1M184.0 277.6h1M208.0 286.6h1M205.9 293.6h1M191.1 292.2h1M192.6 293.3h1M196.1 295.8h1M197.8 291.6h1M204.2 295.2h1M196.4 282.3h1M180.7 289.6h1M192.7 287.9h1M177.8 298.4h1M213.6 294.0h1M209.7 295.8h1M202.9 288.0h1M206.8 292.4h1M215.8 294.5h1M205.1 285.5h1M179.8 290.0h1M193.6 289.9h1M172.2 289.6h1M187.6 287.6h1M183.3 284.9h1M195.6 293.2h1M199.6 292.3h1M186.4 296.7h1M192.9 290.7h1M198.5 287.8h1M194.1 284.0h1M193.9 291.5h1M171.6 289.5h1M198.2 298.8h1M180.8 286.6h1M192.9 284.2h1M198.3 289.9h1M185.9 286.7h1M202.4 298.0h1M187.6 291.6h1M192.3 289.1h1M194.6 291.0h1M217.9 297.2h1M192.4 286.4h1M189.9 293.4h1M202.8 284.6h1M190.9 290.0h1M197.6 287.8h1M173.1 292.6h1M198.6 291.8h1M195.4 296.9h1M182.7 294.4h1M209.2 288.1h1M193.2 284.6h1M193.7 287.1h1M182.5 289.0h1M179.4 289.9h1M189.9 287.3h1M180.4 296.3h1M200.5 295.6h1M204.3 289.7h1M189.3 288.6h1M179.5 289.9h1M191.7 290.8h1M185.0 290.9h1M197.3 283.1h1M197.4 288.9h1M191.4 281.9h1M196.3 291.2h1M206.0 294.3h1M212.6 285.8h1M190.4 291.8h1M202.8 288.0h1M193.2 287.6h1M208.4 295.4h1M199.5 293.4h1M197.0 288.9h1M199.1 293.0h1M194.0 290.1h1M185.1 293.3h1M213.3 286.6h1M204.6 290.7h1M198.2 289.1h1M205.2 284.1h1M208.4 299.3h1M193.6 295.0h1M201.5 287.2h1M192.3 283.8h1M202.0 287.5h1M193.0 286.9h1M219.9 288.0h1M192.0 283.6h1M200.7 287.0h1M200.2 291.3h1M192.2 293.0h1M204.9 281.3h1M194.7 291.0h1M191.5 286.2h1M195.6 285.9h1M188.1 289.5h1M207.5 287.7h1M201.8 294.4h1M205.4 294.5h1M182.1 289.5h1M198.3 287.9h1M208.3 292.9h1M198.2 290.3h1M193.8 296.0h1M206.8 298.1h1M205.7 288.4h1M177.0 290.2h1M198.9 296.4h1M191.4 288.5h1M186.8 291.3h1M196.7 288.8h1M184.0 291.1h1M173.3 296.0h1M186.6 286.6h1M193.0 289.5h1M214.3 293.7h1M188.4 288.7h1M175.8 283.8h1M193.2 287.8h1M197.1 295.8h1M181.1 299.0h1M188.0 293.6h1M172.9 284.1h1M197.3 289.4h1M179.9 291.4h1M168.1 293.8h1M207.2 295.9h1M200.6 296.6h1M199.1 298.3h1M199.1 286.3h1M185.2 295.9h1M206.3 282.4h1M185.1 291.7h1M214.7 285.7h1M197.8 282.2h1M177.1 295.6h1M204.3 290.9h1M215.3 295.9h1M193.0 283.2h1M206.3 285.0h1M193.5 290.5h1M189.3 287.7h1M169.8 291.4h1M208.0 287.9h1M191.1 289.3h1M199.4 285.3h1M184.3 297.4h1M186.5 289.4h1M206.8 285.2h1M191.7 294.4h1M191.6 293.4h1M183.0 292.1h1M197.7 292.1h1M203.4 289.1h1M191.0 290.4h1M193.7 280.0h1M183.4 283.3h1M209.7 284.9h1M189.4 292.4h1M194.1 297.1h1M212.5 290.2h1M193.4 289.7h1M180.1 296.6h1M186.4 289.2h1M192.0 294.3h1M213.5 293.1h1M197.9 284.4h1M193.4 292.6h1M204.0 292.0h1M208.7 285.3h1M188.0 285.9h1M210.0 284.7h1M204.3 297.8h1M171.9 294.5h1M197.6 298.8h1M209.7 284.3h1M192.9 298.0h1M196.4 299.0h1M185.5 286.3h1M201.7 296.4h1M198.7 290.4h1M204.1 296.4h1M193.5 287.8h1M208.8 291.1h1M190.1 288.2h1M197.0 293.4h1M183.2 290.5h1M187.7 296.5h1M197.8 295.1h1M189.1 293.1h1M191.2 290.8h1M193.7 289.5h1M198.3 291.0h1M203.5 294.7h1M203.5 291.7h1M206.1 292.5h1M197.8 290.8h1M190.3 290.6h1M179.8 287.7h1M192.3 281.7h1M187.7 293.9h1M177.4 293.8h1M212.4 286.2h1M199.4 285.2h1M201.4 296.0h1M193.4 292.3h1M221.9 292.6h1M196.0 296.7h1M188.0 295.6h1M213.6 291.1h1M187.7 285.7h1M181.3 284.9h1M185.6 292.0h1M189.3 298.9h1M196.2 295.4h1M199.2 290.9h1M180.4 292.7h1M199.3 294.4h1M188.5 287.2h1M194.4 294.6h1M202.8 292.4h1M208.0 287.2h1M189.0 286.0h1M186.0 297.3h1M185.6 292.7h1M206.9 290.0h1M204.9 291.5h1M173.8 295.9h1M174.1 291.5h1M183.2 299.0h1M180.6 289.7h1M199.9 287.1h1M198.0 290.5h1M215.7 286.3h1M203.8 289.3h1M197.0 297.1h1M186.7 294.2h1M181.6 292.0h1M196.1 286.5h1M205.3 286.0h1M179.3 292.9h1M204.9 291.9h1M204.5 288.1h1M190.7 288.8h1M197.5 298.8h1M193.0 296.0h1M196.6 291.3h1M204.0 292.2h1M187.6 297.4h1M206.3 292.8h1M204.6 292.2h1M205.0 283.2h1M175.8 282.6h1M176.9 281.5h1M202.8 279.8h1M189.8 291.0h1M188.8 292.7h1M188.0 286.7h1M182.1 293.2h1M192.9 293.2h1M188.4 290.6h1M189.1 283.7h1M200.6 298.2h1M183.8 297.9h1M207.2 288.1h1M221.3 291.3h1M182.0 287.1h1M201.7 289.0h1M205.1 281.8h1M195.7 289.3h1M203.3 283.0h1M194.7 296.7h1M177.9 292.6h1M199.3 284.1h1M207.4 293.9h1M190.2 282.4h1M178.5 291.8h1M189.6 293.4h1M199.1 291.4h1M198.8 285.4h1M207.0 290.5h1M201.4 290.1h1M200.9 291.3h1M175.4 298.4h1M196.3 298.9h1M204.6 287.9h1M192.2 287.3h1M194.2 291.1h1M196.4 293.2h1M211.8 280.7h1M211.2 288.0h1M216.0 284.8h1M191.8 287.3h1M201.1 287.5h1M191.2 293.5h1M209.0 290.7h1M196.2 289.4h1M205.8 283.4h1M213.4 294.1h1M174.7 291.0h1M218.0 287.7h1M199.1 291.1h1M192.6 295.0h1M176.3 283.6h1M192.8 283.3h1M172.4 285.9h1M196.7 286.6h1M194.1 275.8h1M214.5 288.0h1M192.5 296.6h1M206.8 289.4h1M207.8 296.1h1M217.0 276.6h1M193.3 290.4h1M203.7 297.9h1M180.3 298.9h1M184.5 288.5h1M193.1 286.9h1M195.6 292.9h1M183.5 284.9h1M191.7 289.2h1M203.1 282.6h1M191.2 291.4h1M194.3 291.0h1M186.8 299.2h1M210.1 292.8h1M214.1 287.7h1M198.0 290.5h1M194.7 284.5h1M213.0 291.2h1M200.8 289.9h1M189.1 293.1h1M182.1 295.7h1M189.9 281.0h1M218.4 292.6h1M189.9 294.7h1M225.6 285.0h1M193.7 287.4h1M193.4 294.9h1M199.8 295.8h1M185.3 292.4h1M183.2 296.1h1M188.4 285.8h1M198.2 287.0h1M189.1 281.2h1M175.8 293.7h1M200.8 287.4h1M194.3 294.8h1M193.1 294.0h1M189.7 284.3h1M172.9 294.5h1M212.3 292.3h1M191.0 292.0h1M201.4 293.3h1M210.3 290.9h1M207.6 291.1h1M198.0 296.3h1M196.1 286.0h1M199.1 285.0h1M205.3 287.2h1M201.9 296.2h1M191.4 289.4h1M199.9 275.6h1M203.1 287.4h1M198.1 288.8h1M210.0 292.4h1M198.0 297.7h1M205.1 290.1h1M196.4 285.9h1M190.1 295.2h1M186.3 298.8h1M194.4 278.2h1M201.5 293.9h1M209.0 292.5h1M195.1 286.8h1M190.7 288.6h1M190.8 292.4h1M209.2 291.1h1M197.1 289.8h1M190.9 285.1h1M203.6 292.4h1M182.4 287.7h1M197.2 291.4h1M195.5 288.1h1M194.6 292.0h1M184.2 294.7h1M206.1 292.2h1M213.2 294.3h1M182.4 284.0h1M197.2 293.3h1M202.6 292.4h1M219.1 287.9h1M191.7 290.2h1M186.3 277.0h1M195.9 291.4h1M216.6 288.9h1M196.7 279.6h1M198.7 293.5h1M214.2 287.8h1M174.1 292.4h1M173.8 289.8h1M205.3 293.4h1M203.9 291.4h1M181.8 289.5h1M201.3 293.5h1M196.4 295.2h1M198.2 279.6h1M187.7 291.1h1M191.4 288.0h1M187.0 285.4h1M196.5 297.5h1M193.6 295.8h1M213.3 285.8h1M202.4 285.4h1M179.9 295.1h1M200.3 287.8h1M210.7 289.3h1M198.9 281.1h1M207.1 290.3h1M195.6 296.7h1M203.2 288.7h1M186.4 290.4h1M181.9 295.4h1M209.2 298.1h1M180.5 294.1h1M174.3 297.0h1M201.4 282.6h1M194.2 286.9h1M197.2 282.7h1M195.7 291.9h1M186.9 290.3h1M198.2 287.2h1M199.6 285.9h1M201.1 276.9h1M188.5 290.5h1M196.7 291.3h1M201.7 283.9h1M191.4 290.7h1M183.7 292.9h1M190.2 290.6h1M206.9 294.1h1M193.2 286.8h1M202.3 292.6h1M188.5 295.4h1M200.6 293.8h1M189.1 292.9h1M187.4 290.4h1M197.2 286.0h1M196.5 293.7h1M211.1 289.0h1M179.3 286.2h1M201.2 294.8h1M212.5 282.9h1M210.0 288.2h1M192.1 294.8h1M189.0 295.7h1M190.9 289.1h1M199.1 291.3h1M197.9 293.7h1M199.6 290.6h1M202.1 287.1h1M185.0 293.1h1M184.4 291.8h1M183.4 291.5h1M182.2 296.5h1M195.0 292.5h1M199.2 288.7h1M222.0 291.8h1M196.2 287.4h1M210.6 289.6h1M188.5 287.0h1M199.5 292.7h1M206.0 284.6h1M204.1 293.2h1M200.1 294.8h1M192.4 287.1h1M183.3 286.7h1M194.4 283.5h1M189.9 291.2h1M203.1 285.4h1M194.6 287.8h1M201.8 288.9h1M179.5 287.5h1M206.0 295.1h1M187.3 298.9h1M180.0 280.3h1M181.9 286.9h1M189.6 292.2h1M207.5 285.7h1M203.3 288.3h1M184.0 292.0h1M196.9 297.9h1M194.9 296.8h1M179.9 289.5h1M185.8 291.6h1M175.1 289.1h1M187.1 290.1h1M168.8 285.1h1M187.8 282.1h1M186.4 289.1h1M187.8 295.9h1M187.6 294.8h1M207.9 281.6h1M192.4 290.0h1M198.5 287.8h1M203.7 292.4h1M205.2 285.5h1M203.0 295.5h1M190.3 289.9h1M184.8 293.9h1M188.0 295.4h1M191.2 281.3h1M196.0 289.9h1M195.1 298.5h1M207.2 291.1h1M194.9 296.2h1M214.4 293.1h1M206.5 288.5h1M191.1 292.4h1M204.8 296.2h1M166.6 297.4h1M210.1 298.2h1M200.2 285.4h1M200.1 295.1h1M178.8 284.1h1M221.8 290.3h1M193.4 289.9h1M194.5 294.1h1M207.5 292.6h1M194.0 297.2h1M187.3 287.9h1M202.7 295.2h1M185.6 292.9h1M203.6 291.0h1M197.4 285.0h1M207.5 293.8h1M183.6 292.6h1M208.7 294.9h1M199.0 290.8h1M216.2 289.7h1M189.3 292.9h1M215.0 293.3h1M203.2 294.4h1M188.6 287.9h1M202.9 276.2h1M187.5 295.8h1M184.2 286.9h1M211.0 286.6h1M197.6 296.3h1M205.6 286.0h1M199.0 285.3h1M197.2 295.0h1M198.3 295.3h1M191.8 287.5h1M197.8 289.4h1M198.3 298.8h1M181.8 285.9h1M199.2 286.2h1M189.1 291.4h1M190.9 285.9h1M206.6 293.3h1M184.8 280.3h1M194.0 291.9h1M202.4 288.2h1M207.8 286.2h1M190.7 292.0h1M199.3 289.9h1M198.9 288.7h1M184.5 295.0h1M174.1 292.5h1M176.3 292.9h1M202.1 297.6h1M197.0 290.6h1M182.3 295.2h1M189.5 288.9h1M191.9 294.0h1M192.3 293.6h1M195.7 288.3h1M218.6 283.4h1M188.0 284.6h1M197.5 286.3h1M188.1 293.8h1M189.6 290.3h1M187.0 289.5h1M193.6 293.4h1M190.3 294.6h1M199.6 297.9h1M198.2 288.0h1M186.9 293.7h1M215.6 294.5h1M184.0 286.3h1M199.6 291.6h1M218.2 286.4h1M188.7 289.9h1M209.5 293.1h1M210.5 282.5h1M199.5 286.6h1M177.1 287.0h1M210.5 291.4h1M196.9 287.3h1M190.4 292.8h1M209.0 286.7h1M188.6 288.4h1M206.9 294.0h1M190.4 292.6h1M201.5 291.7h1M185.0 290.8h1M191.9 296.0h1M186.6 297.8h1M188.7 289.1h1M197.9 287.4h1M194.2 285.8h1M209.1 286.5h1M194.8 284.4h1M177.0 292.3h1M193.0 296.2h1M196.8 284.8h1M206.4 290.4h1M206.5 283.9h1M205.7 287.5h1M193.7 299.1h1M202.6 291.8h1M181.3 289.7h1M209.2 291.3h1M200.5 292.4h1M201.2 290.5h1M192.1 285.1h1M196.6 285.1h1M201.8 287.2h1M182.4 296.9h1M205.9 287.4h1M201.5 297.5h1M216.7 294.5h1M195.6 289.9h1M198.0 286.3h1M196.4 289.8h1M194.9 286.7h1M184.7 287.1h1M184.7 289.2h1M190.2 286.2h1M193.0 289.4h1M183.9 298.8h1M184.1 282.4h1M193.1 284.8h1M203.6 286.3h1M194.0 288.7h1M202.9 296.0h1M205.9 294.6h1M203.8 293.4h1M191.7 292.0h1M177.0 285.4h1M189.0 285.3h1M200.8 290.9h1M184.9 292.0h1M209.8 289.8h1M210.6 286.8h1M192.2 284.5h1M205.4 289.6h1M181.5 287.5h1M185.3 288.6h1M192.2 285.6h1M196.1 297.6h1M194.1 293.2h1M216.1 288.4h1M199.0 291.3h1M198.9 289.8h1M203.0 291.1h1M197.8 289.7h1M193.6 290.2h1M190.3 281.2h1M179.3 289.6h1M211.3 294.4h1M186.6 281.3h1M179.0 289.3h1M187.8 293.8h1M179.6 297.3h1M216.4 290.6h1M199.7 293.3h1M210.8 297.4h1M201.8 288.8h1M201.8 288.0h1M188.6 296.1h1M195.1 292.1h1M189.8 288.3h1M196.4 289.8h1M188.9 292.6h1M208.9 290.0h1M203.8 289.7h1M194.9 289.8h1M178.9 283.6h1M205.0 297.1h1M195.3 298.5h1M183.1 290.3h1M200.4 291.6h1M216.0 279.2h1M217.1 275.6h1M189.3 295.6h1M213.1 280.2h1M199.6 291.3h1M206.9 281.4h1M207.2 293.6h1M222.5 264.2h1M217.8 282.1h1M214.9 290.0h1M229.1 278.3h1M207.4 282.0h1M199.2 285.3h1M199.1 274.3h1M203.3 282.9h1M217.0 291.0h1M209.3 265.9h1M199.9 274.0h1M209.7 284.5h1M219.5 274.6h1M202.9 269.3h1M216.2 272.0h1M209.7 280.6h1M188.4 283.9h1M199.7 293.9h1M185.6 287.8h1M222.7 275.9h1M212.0 277.6h1M199.7 280.8h1M191.1 280.9h1M209.3 275.6h1M205.4 280.8h1M209.8 276.9h1M196.5 284.4h1M195.3 288.3h1M226.0 271.1h1M194.2 283.8h1M206.1 279.3h1M222.1 271.2h1M188.9 295.2h1M217.3 278.3h1M213.8 286.7h1M204.3 279.7h1M210.6 278.9h1M184.0 276.4h1M183.8 296.9h1M228.3 267.6h1M199.9 277.3h1M221.0 278.9h1M210.7 262.2h1M215.2 283.9h1M209.6 273.9h1M210.2 269.5h1M220.8 264.8h1M210.9 274.8h1M215.6 265.0h1M198.9 276.1h1M200.9 281.2h1M211.6 283.8h1M212.6 278.6h1M217.6 281.8h1M223.9 261.2h1M214.0 271.5h1M206.4 278.0h1M227.2 264.3h1M212.1 279.5h1M217.4 285.2h1M214.7 279.2h1M204.4 283.6h1M201.6 295.3h1M205.4 275.4h1M198.9 276.6h1M201.1 290.3h1M208.9 279.8h1M205.6 282.3h1M204.9 289.2h1M188.3 293.2h1M205.0 280.9h1M225.9 267.3h1M218.3 275.7h1M221.5 275.7h1M207.3 280.8h1M218.5 272.5h1M191.1 274.5h1M207.3 289.5h1M206.1 268.5h1M192.9 291.6h1M217.4 291.3h1M208.8 276.0h1M217.6 258.8h1M206.4 293.2h1M209.1 274.0h1M200.0 284.7h1M201.1 283.8h1M200.8 291.4h1M217.9 269.9h1M216.5 280.9h1M205.1 274.6h1M234.0 262.8h1M210.0 272.7h1M197.6 293.5h1M202.5 278.6h1M204.8 278.5h1M228.6 273.5h1M193.9 282.3h1M206.7 271.1h1M218.9 274.6h1M198.1 285.5h1M206.3 277.3h1M186.7 296.0h1M216.3 289.0h1M181.4 293.4h1M202.2 281.9h1M224.7 266.5h1M207.5 272.3h1M207.4 279.4h1M210.4 281.0h1M224.8 258.0h1M216.8 280.6h1M212.9 266.1h1M202.2 282.9h1M204.1 285.1h1M198.6 273.4h1M201.3 287.0h1M226.5 283.4h1M211.1 271.9h1M210.1 286.0h1M202.6 285.5h1M173.1 297.3h1M202.8 286.7h1M206.6 273.4h1M213.9 274.9h1M170.9 298.6h1M199.3 267.6h1M196.2 287.7h1M209.9 287.7h1M204.4 286.3h1M211.5 273.5h1M187.9 294.2h1M199.8 282.7h1M226.8 284.7h1M208.9 278.0h1M198.8 286.7h1M208.7 272.8h1M208.0 275.4h1M200.7 290.1h1M211.5 271.5h1M210.6 270.7h1M203.6 278.5h1M215.0 270.6h1M196.2 290.4h1M212.7 271.4h1M204.4 280.7h1M194.9 284.3h1M206.0 290.6h1M218.9 270.7h1M200.4 283.1h1M204.8 284.2h1M200.4 285.2h1M193.2 279.3h1M215.8 271.2h1M222.2 271.2h1M216.6 281.2h1M211.9 270.6h1M197.9 276.0h1M199.5 280.8h1M200.7 295.9h1M217.4 263.5h1M200.7 279.1h1M204.3 290.9h1M199.8 284.1h1M208.2 277.5h1M203.1 286.2h1M207.6 280.2h1M207.5 277.2h1M221.2 270.1h1M192.1 286.9h1M209.8 277.3h1M202.8 288.7h1M198.8 278.6h1M222.2 265.6h1M208.8 269.5h1M206.1 286.6h1M214.3 278.7h1M210.5 284.4h1M222.0 275.5h1M206.2 288.7h1M214.6 279.2h1M202.0 278.1h1M210.8 284.1h1M202.1 277.0h1M210.0 295.8h1M209.2 280.4h1M219.0 274.6h1M196.4 279.3h1M207.4 288.1h1M215.2 282.3h1M193.6 278.9h1M213.5 270.2h1M212.2 271.9h1M182.0 295.9h1M206.0 291.7h1M204.8 298.8h1M211.1 268.2h1M220.4 277.0h1M194.3 288.6h1M205.6 291.9h1M196.9 269.3h1M201.8 281.0h1M218.9 279.6h1M213.8 268.3h1M217.5 280.5h1M215.8 268.6h1M220.7 277.4h1M208.6 283.2h1M201.2 281.6h1M196.9 282.5h1M214.5 272.4h1M220.3 277.9h1M217.0 271.5h1M201.3 279.5h1M216.1 298.4h1M203.6 270.5h1M218.5 268.5h1M212.7 279.4h1M205.3 273.2h1M199.0 286.6h1M209.8 274.3h1M206.7 268.6h1M199.5 289.8h1M220.0 260.2h1M195.2 284.0h1M221.0 277.9h1M200.8 276.4h1M211.0 281.3h1M204.0 291.8h1M205.4 289.1h1M215.8 276.3h1M204.3 280.4h1M198.3 276.2h1M216.4 273.2h1M215.8 276.0h1M206.8 276.2h1M205.6 273.4h1M227.4 269.7h1M201.4 276.4h1M212.6 278.7h1M209.4 274.1h1M186.9 283.6h1M210.7 281.6h1M217.7 275.2h1M203.6 271.7h1M201.4 283.6h1M201.8 286.5h1M212.2 269.7h1M210.5 289.9h1M183.5 283.8h1M216.5 277.4h1M202.1 269.1h1M204.8 269.4h1M212.3 265.3h1M222.2 271.5h1M209.8 271.9h1M202.7 278.1h1M182.8 293.0h1M204.2 270.5h1M202.1 276.8h1M216.1 264.3h1M218.3 267.7h1M210.2 274.1h1M211.1 257.4h1M203.7 277.3h1M211.2 285.6h1M196.8 284.4h1M203.6 281.9h1M206.2 274.6h1M214.6 267.8h1M199.4 285.3h1M209.5 266.8h1M229.2 259.6h1M187.3 283.0h1M205.6 283.2h1M201.0 272.1h1M219.2 274.3h1M230.2 267.8h1M212.7 261.9h1M209.1 282.9h1M196.9 284.6h1M210.7 285.3h1M204.4 277.4h1M208.1 276.2h1M196.9 285.5h1M226.6 272.7h1M192.2 276.5h1M216.4 277.4h1M209.2 278.1h1M194.1 286.2h1M206.5 277.8h1M210.5 283.6h1M208.1 284.8h1M221.2 280.6h1M199.6 280.4h1M224.4 249.8h1M215.7 267.6h1M197.0 286.1h1M180.6 297.9h1M223.8 274.7h1M218.0 287.8h1M209.0 280.5h1M190.2 279.3h1M196.6 296.1h1M185.9 291.8h1M232.1 258.5h1M225.7 270.1h1M202.7 285.7h1M224.9 263.6h1M189.6 296.0h1M216.5 277.2h1M216.0 276.5h1M206.2 296.1h1M190.6 269.4h1M193.4 284.5h1M204.8 276.4h1M222.8 272.4h1M217.3 272.2h1M214.1 279.9h1M212.2 263.7h1M188.2 293.2h1M229.1 265.7h1M206.0 279.6h1M192.1 288.5h1M203.9 283.9h1M206.6 292.4h1M199.4 269.0h1M215.9 284.2h1M215.8 265.1h1M226.2 268.2h1M196.6 288.2h1M225.9 272.8h1M216.0 265.3h1M220.4 275.5h1M219.3 261.8h1M194.1 292.5h1M216.5 276.6h1M196.3 287.5h1M232.5 262.8h1M194.7 284.8h1M198.6 294.5h1M215.8 267.8h1M210.1 271.1h1M206.5 278.7h1M207.8 278.1h1M209.5 270.5h1M226.8 268.8h1M199.1 284.8h1M203.4 286.9h1M195.1 277.4h1M200.8 274.1h1M205.7 278.2h1M190.0 285.6h1M209.1 276.4h1M196.2 292.6h1M207.8 287.2h1M209.8 288.3h1M207.2 285.1h1M218.6 263.9h1M225.0 268.4h1M215.3 268.1h1M224.4 268.8h1M199.7 277.0h1M225.8 273.9h1M207.7 281.8h1M207.8 276.3h1M204.1 271.0h1M194.4 291.9h1M198.5 282.2h1M206.0 282.0h1M207.5 273.2h1M203.3 278.1h1M200.5 289.5h1M200.8 296.0h1M201.8 273.6h1M194.1 288.5h1M196.4 291.1h1M205.0 279.7h1M206.7 276.0h1M206.7 296.4h1M185.7 290.5h1M210.9 278.8h1M212.9 270.5h1M202.2 282.5h1M194.1 272.2h1M214.8 271.0h1M192.0 284.2h1M220.2 281.2h1M199.7 283.2h1M202.8 277.9h1M201.5 277.2h1M234.1 256.7h1M189.9 291.2h1M202.6 272.5h1M195.0 282.2h1M205.6 283.1h1M220.2 267.9h1M180.3 285.8h1M201.8 276.7h1M212.4 276.5h1M218.2 290.9h1M207.7 272.8h1M190.6 275.6h1M193.2 296.8h1M191.7 288.3h1M197.4 276.9h1M216.2 275.9h1M206.5 277.8h1M218.9 261.7h1M202.6 272.7h1M208.1 277.4h1M208.9 278.3h1M182.5 285.8h1M216.1 279.2h1M190.7 283.0h1M208.2 289.1h1M231.2 261.5h1M193.6 289.0h1M209.1 280.1h1M207.2 274.4h1M207.6 278.2h1M213.0 287.1h1M198.8 281.6h1M229.6 266.6h1M183.2 292.2h1M196.3 288.0h1M225.1 271.6h1M207.4 269.4h1M200.3 287.5h1M189.4 277.2h1M199.7 276.3h1M231.3 255.6h1M214.9 279.5h1M199.1 291.4h1M205.5 273.3h1M199.9 284.2h1M222.3 267.9h1M203.5 269.9h1M220.8 271.0h1M213.4 284.4h1M231.7 268.2h1M208.4 273.4h1M207.8 275.3h1M192.9 283.8h1M200.5 280.8h1M209.5 275.1h1M204.3 286.8h1M231.7 259.1h1M202.9 275.4h1M202.2 289.7h1M219.8 275.3h1M199.0 281.2h1M209.7 275.0h1M205.3 279.8h1M193.1 278.0h1M221.0 268.6h1M210.1 281.9h1M225.0 279.4h1M204.0 283.3h1M191.3 290.2h1M193.7 289.3h1M203.8 286.7h1M207.9 284.7h1M203.9 275.1h1M212.5 276.1h1M196.8 292.9h1M201.2 268.4h1M199.8 296.0h1M199.0 284.3h1M219.1 268.7h1M202.1 281.5h1M224.2 264.2h1M221.9 269.0h1M218.8 276.1h1M220.2 266.1h1M199.8 276.5h1M202.7 277.4h1M194.3 282.3h1M215.4 278.2h1M190.5 285.6h1M207.5 290.8h1M211.7 276.3h1M201.3 283.4h1M215.1 282.7h1M223.4 262.6h1M195.7 286.5h1M223.6 271.4h1M202.7 288.7h1M193.5 282.8h1M218.4 289.0h1M219.1 273.6h1M194.7 279.8h1M198.7 284.9h1M205.9 287.5h1M200.3 286.6h1M211.8 282.0h1M208.7 296.4h1M207.7 286.0h1M217.9 285.9h1M205.1 286.2h1M215.6 266.9h1M205.8 292.2h1M196.3 282.9h1M230.7 267.0h1M224.2 270.1h1M204.1 275.2h1M212.3 269.5h1M209.4 276.0h1M203.2 285.8h1M218.6 280.2h1M210.1 277.5h1M226.8 277.7h1M191.8 299.1h1M212.3 270.0h1M206.0 275.5h1M200.3 285.9h1M200.5 280.9h1M202.4 282.7h1M196.6 294.4h1M202.1 285.8h1M218.4 277.7h1M189.0 289.3h1M199.7 279.0h1M177.9 293.1h1M194.2 276.4h1M209.0 274.5h1M206.6 280.5h1M206.5 278.5h1M195.7 289.2h1M220.4 284.5h1M193.7 282.4h1M214.9 271.0h1M207.1 275.8h1M199.5 278.9h1M226.9 273.6h1M202.8 283.0h1M221.9 277.0h1M203.6 273.8h1M214.1 288.5h1M225.6 281.9h1M207.9 272.2h1M206.8 279.9h1M205.2 280.3h1M211.2 280.7h1M202.7 273.2h1M205.5 284.7h1M199.4 291.9h1M178.8 298.8h1M197.1 270.4h1M201.9 278.8h1M217.5 267.9h1M214.3 279.6h1M215.9 267.5h1M219.8 260.1h1M208.2 283.6h1M200.0 288.6h1M217.9 276.4h1M201.2 285.1h1M208.5 286.9h1M223.2 270.2h1M205.5 267.1h1M218.6 271.6h1M196.5 294.7h1M207.4 279.8h1M223.7 277.3h1M192.4 288.5h1M211.6 281.4h1M206.2 270.9h1M184.0 299.2h1M220.7 264.0h1M196.0 281.3h1M200.5 275.0h1M224.5 266.9h1M190.8 296.8h1M209.1 273.1h1M197.7 277.9h1M204.0 275.5h1M201.7 290.2h1M215.9 263.0h1M200.2 294.5h1M204.1 269.2h1M213.4 276.7h1M208.6 283.7h1M209.0 287.8h1M202.7 280.1h1M214.2 267.8h1M206.0 269.6h1M209.7 284.8h1M195.6 288.4h1M206.8 276.5h1M210.7 273.5h1M207.6 281.3h1M221.4 268.0h1M223.5 249.2h1M208.4 285.3h1M193.6 287.0h1M189.3 294.1h1M214.4 271.2h1M212.4 274.7h1M207.7 285.2h1M207.4 281.3h1M203.1 271.9h1M202.5 283.1h1M218.1 269.8h1M214.7 276.4h1M206.0 281.1h1M190.4 293.2h1M224.6 273.2h1M198.1 278.9h1M205.1 298.6h1M217.7 266.6h1M208.0 271.0h1M194.6 298.8h1M207.9 289.0h1M200.1 297.1h1M207.3 283.4h1M233.3 258.4h1M206.6 280.3h1M212.9 270.7h1M222.1 279.9h1M212.9 289.3h1M192.4 292.3h1M216.9 269.9h1M203.4 279.1h1M205.1 268.4h1M211.5 270.9h1M197.0 284.3h1M223.8 265.7h1M204.0 274.7h1M202.0 269.3h1M205.3 286.5h1M220.8 281.9h1M209.0 261.7h1M201.0 284.0h1M216.2 279.0h1M198.3 278.2h1M189.3 283.6h1M203.9 282.8h1M212.3 273.8h1M210.2 272.4h1M224.2 278.5h1M206.2 292.5h1M206.6 285.5h1M207.6 279.0h1M212.1 273.3h1M209.4 285.0h1M196.8 286.8h1M223.7 275.8h1M215.5 268.2h1M203.5 289.0h1M228.0 274.8h1M209.1 283.5h1M208.1 271.8h1M218.8 268.2h1M201.1 282.5h1M199.9 287.1h1M190.0 294.7h1M208.9 275.8h1M215.1 280.2h1M221.1 279.0h1M211.1 272.4h1M202.6 272.4h1M220.2 272.1h1M197.1 288.7h1M212.8 278.7h1M209.8 272.6h1M207.2 282.4h1M221.1 261.4h1M215.9 281.4h1M227.3 276.5h1M212.7 268.3h1M195.5 269.7h1M224.8 261.6h1M216.4 268.4h1M208.3 280.9h1M206.3 281.2h1M198.9 291.1h1M216.4 293.9h1M202.9 279.6h1M208.1 276.7h1M204.9 285.7h1M206.0 266.9h1M209.6 284.5h1M189.2 290.6h1M196.8 277.8h1M195.2 283.8h1M196.6 293.2h1M208.2 286.2h1M221.4 278.3h1M198.0 291.6h1M184.6 293.7h1M208.0 284.1h1M210.6 295.9h1M202.3 268.5h1M209.6 291.1h1M219.1 276.6h1M223.5 270.0h1M205.6 281.1h1M217.2 267.7h1M193.0 284.9h1M203.6 271.3h1M213.0 283.0h1M204.0 288.5h1M211.3 279.9h1M189.0 280.8h1M208.8 277.0h1M209.2 279.9h1M206.3 290.4h1M195.7 282.4h1M196.8 291.5h1M202.7 282.5h1M211.7 277.0h1M203.3 277.8h1M210.6 280.6h1M220.6 270.0h1M197.2 274.4h1M215.2 283.4h1M224.4 283.4h1M209.4 271.9h1M215.9 282.3h1M204.7 275.1h1M224.9 261.7h1M213.7 289.0h1M204.6 284.5h1M219.4 282.3h1M225.2 267.9h1M225.7 273.1h1M207.4 279.3h1M217.5 261.7h1M214.6 266.7h1M222.5 254.6h1M224.7 252.8h1M213.6 268.7h1M225.1 252.2h1M212.9 267.7h1M220.8 257.2h1M216.6 260.5h1M222.9 253.1h1M222.9 249.6h1M213.4 269.9h1M218.5 262.5h1M221.3 252.4h1M214.7 261.9h1M214.0 268.2h1M218.7 261.8h1M213.0 271.3h1M213.1 267.5h1M223.5 253.9h1M221.8 253.5h1M222.9 254.9h1M211.7 270.1h1M220.6 258.1h1M219.2 263.0h1M219.3 256.9h1M215.9 264.4h1M216.5 266.0h1M224.0 252.1h1M220.9 257.2h1M228.2 225.5h1M225.2 239.4h1M228.6 229.2h1M224.5 247.8h1M225.0 246.1h1M227.2 233.2h1M225.2 245.4h1M223.8 243.0h1M227.0 240.0h1M227.0 232.6h1M224.3 245.3h1M223.5 248.0h1M225.2 239.0h1M226.6 231.0h1M227.8 227.4h1M225.8 234.0h1M225.7 241.0h1M228.4 224.1h1M224.8 241.1h1M229.7 228.9h1M227.4 228.7h1M227.4 231.6h1M202.5 272.8h1M192.3 263.6h1M212.5 267.8h1M234.2 281.5h1M196.4 268.5h1M185.7 282.3h1M217.3 284.2h1M205.8 278.0h1M197.0 275.3h1M207.2 273.2h1M174.8 289.8h1M197.2 287.5h1M183.8 286.5h1M196.4 290.9h1M203.7 253.8h1M202.0 286.9h1M188.5 277.0h1M223.0 267.4h1M199.9 272.9h1M182.3 284.8h1M211.8 280.0h1M205.6 265.7h1M206.3 277.3h1M211.7 287.2h1M190.4 295.9h1M198.0 274.7h1M180.7 288.7h1M184.6 280.8h1M184.3 283.9h1M186.2 284.6h1M200.6 292.3h1M199.7 285.1h1M193.4 298.6h1M227.4 283.7h1M187.0 268.9h1M229.8 267.8h1M216.7 264.9h1M171.7 271.8h1M211.7 259.6h1M173.4 284.4h1M234.3 282.1h1M206.9 275.8h1M182.0 284.2h1M161.3 295.7h1M190.0 273.8h1M177.1 290.8h1M219.6 267.8h1M170.7 272.2h1M193.8 274.6h1M203.4 284.0h1M204.5 274.8h1M198.8 286.6h1M208.7 262.4h1M183.9 286.6h1M214.3 281.9h1M171.3 272.3h1M199.9 269.3h1M177.9 283.6h1M195.2 276.9h1M208.2 268.1h1M223.4 270.4h1M187.9 287.8h1M187.3 296.2h1M226.4 278.2h1M181.8 279.5h1M213.8 274.9h1M189.0 278.7h1M177.2 296.6h1M200.3 273.8h1M178.7 285.8h1M220.7 288.6h1M213.9 269.5h1M216.6 251.8h1M182.3 287.8h1M229.4 267.9h1M214.9 265.2h1M168.2 293.8h1M227.6 259.1h1M180.5 285.0h1M202.5 268.5h1M177.4 292.6h1M196.9 278.1h1M199.0 267.6h1M210.2 271.5h1M191.6 261.8h1M176.9 272.5h1M208.2 278.3h1M205.4 259.2h1M210.0 296.6h1M213.6 254.1h1M207.4 259.2h1M204.2 270.1h1M225.5 279.0h1M181.2 296.4h1M201.8 284.1h1M169.5 295.9h1M205.4 291.1h1M183.2 264.4h1M215.9 274.0h1M198.4 295.9h1M183.5 273.2h1M199.6 282.1h1M203.0 291.3h1M214.7 286.1h1M183.6 284.2h1M173.6 296.5h1M225.3 279.0h1M172.4 278.4h1M188.1 274.8h1M176.6 280.1h1M223.7 288.1h1M179.2 260.3h1M213.5 250.1h1M190.9 291.9h1M205.8 277.2h1M200.0 243.1h1M215.4 266.3h1M177.1 285.2h1M198.8 293.1h1M189.8 260.3h1M164.7 288.4h1M217.5 282.6h1M210.4 282.4h1M204.9 265.0h1M173.6 287.1h1M196.5 262.4h1M213.9 287.8h1M216.5 265.5h1M196.3 294.9h1M215.7 280.3h1M231.1 253.2h1M191.5 280.5h1M195.5 288.0h1" stroke="#000" stroke-width="1" stroke-opacity="0.31" fill="none" filter="url(#bl)"/>
<line x1="138.0" y1="199.9" x2="178.2" y2="199.9" stroke="#9a9a9a" stroke-width="1"/>
<polyline points="138.0,199.4 138.0,300.2 235.3,300.2 235.3,199.70000000000002" fill="none" stroke="#5e5e5e" stroke-width="1"/>
<line x1="178.2" y1="199.70000000000002" x2="235.8" y2="199.70000000000002" stroke="#505050" stroke-width="1.6"/>
<polyline points="178.20,199.90 178.20,253.50 177.80,254.80 176.80,256.40 148.50,300.20" fill="none" stroke="#858585" stroke-width="1"/>
<line x1="136.8" y1="300.2" x2="138.0" y2="300.2" stroke="#777" stroke-width="0.7"/>
<text x="136.10" y="297.40" font-size="4.8" text-anchor="middle" font-weight="normal" fill="#444" transform="rotate(-90 136.0 297.4)">10<tspan dy="-1.6" font-size="3.2">0</tspan></text>
<line x1="136.8" y1="275.125" x2="138.0" y2="275.125" stroke="#777" stroke-width="0.7"/>
<text x="136.10" y="273.32" font-size="4.8" text-anchor="middle" font-weight="normal" fill="#444" transform="rotate(-90 136.0 273.325)">10<tspan dy="-1.6" font-size="3.2">1</tspan></text>
<line x1="136.8" y1="250.05" x2="138.0" y2="250.05" stroke="#777" stroke-width="0.7"/>
<text x="136.10" y="248.25" font-size="4.8" text-anchor="middle" font-weight="normal" fill="#444" transform="rotate(-90 136.0 248.25)">10<tspan dy="-1.6" font-size="3.2">2</tspan></text>
<line x1="136.8" y1="224.975" x2="138.0" y2="224.975" stroke="#777" stroke-width="0.7"/>
<text x="136.10" y="223.17" font-size="4.8" text-anchor="middle" font-weight="normal" fill="#444" transform="rotate(-90 136.0 223.17499999999998)">10<tspan dy="-1.6" font-size="3.2">3</tspan></text>
<line x1="136.8" y1="199.9" x2="138.0" y2="199.9" stroke="#777" stroke-width="0.7"/>
<text x="136.10" y="198.70" font-size="4.8" text-anchor="middle" font-weight="normal" fill="#444" transform="rotate(-90 136.0 198.70000000000002)">10<tspan dy="-1.6" font-size="3.2">4</tspan></text>
<text x="131.10" y="250.05" font-size="4.3" text-anchor="middle" font-weight="normal" fill="#444" transform="rotate(-90 131.1 250.05)">Empty</text>
<text x="139.20" y="304.80" font-size="4.0" text-anchor="middle" font-weight="normal" fill="#777" >10<tspan dy="-1.3" font-size="2.8">0</tspan></text>
<text x="236.30" y="304.80" font-size="4.0" text-anchor="middle" font-weight="normal" fill="#777" >10<tspan dy="-1.3" font-size="2.8">4</tspan></text>
<text x="212.50" y="215.00" font-size="13.5" text-anchor="middle" font-weight="normal" fill="#000" stroke="#000" stroke-width="0.22">59%</text>
<text x="186.60" y="313.60" font-size="11.4" text-anchor="middle" font-weight="normal" fill="#000" stroke="#000" stroke-width="0.2">GFP</text>
<text x="186.80" y="334.40" font-size="13" text-anchor="middle" font-weight="normal" fill="#000" stroke="#000" stroke-width="0.2">+ cyt</text>
<path d="M282.4 284.0h1M287.2 270.1h1M285.9 275.8h1M280.0 283.9h1M284.0 281.2h1M278.6 290.4h1M277.3 288.9h1M281.0 280.1h1M278.5 282.4h1M277.0 290.1h1M278.8 288.7h1M277.3 289.5h1M277.1 288.7h1M288.4 274.9h1M273.1 286.4h1M276.6 288.5h1M283.8 283.1h1M275.9 284.5h1M280.0 286.4h1M277.2 291.2h1M282.9 292.0h1M276.9 288.0h1M275.9 288.3h1M274.1 286.1h1M274.7 285.9h1M281.7 276.7h1M290.8 267.2h1M280.2 287.5h1M289.8 272.9h1M279.4 286.7h1M271.9 286.9h1M273.8 282.9h1M285.4 272.5h1M291.5 275.7h1M278.9 291.1h1M294.5 264.5h1M276.8 288.9h1M277.0 289.0h1M274.6 286.5h1M288.6 272.4h1M283.0 284.9h1M286.5 279.4h1M276.6 292.8h1M278.3 288.2h1M277.7 287.9h1M284.4 281.2h1M276.6 288.0h1M290.2 277.9h1M277.2 289.0h1M276.9 290.8h1M275.2 290.0h1M287.1 274.1h1M283.9 279.8h1M275.8 288.1h1M285.5 275.4h1M279.2 289.3h1M282.0 291.5h1M276.3 290.4h1M276.7 288.2h1M277.2 284.8h1M276.4 282.5h1M278.3 289.6h1M286.9 278.4h1M288.4 272.3h1M276.7 289.0h1M279.5 281.8h1M278.8 292.7h1M281.5 283.3h1M277.3 289.9h1M281.3 291.0h1M274.6 281.4h1M278.3 288.7h1M286.9 277.4h1M276.0 288.2h1M277.1 288.3h1M283.2 286.1h1M276.3 286.2h1M278.7 283.5h1M281.3 291.2h1M278.9 290.8h1M284.3 281.5h1M280.4 287.9h1M285.4 278.6h1M288.3 273.9h1M276.9 287.8h1M277.4 289.3h1M276.0 287.4h1M273.2 285.6h1M274.6 290.5h1M291.6 271.6h1M281.1 282.9h1M297.5 265.2h1M277.6 289.0h1M284.7 282.9h1M280.6 284.7h1M277.3 287.3h1M287.0 278.5h1M280.1 288.7h1M276.6 286.8h1M277.6 284.0h1M277.7 293.7h1M275.6 287.7h1M277.6 289.4h1M290.7 270.7h1M283.2 281.8h1M286.9 281.6h1M286.3 283.7h1M274.5 285.4h1M289.4 269.5h1M269.9 281.5h1M277.2 291.0h1M286.1 283.5h1M288.0 276.1h1M278.3 285.5h1M282.7 285.0h1M284.2 276.5h1M291.3 273.1h1M285.4 283.6h1M293.3 272.2h1M281.9 285.5h1M294.4 266.4h1M275.1 289.1h1M284.2 276.6h1M284.3 287.5h1M281.8 288.1h1M275.9 289.5h1M286.7 276.6h1M278.0 288.3h1M274.9 287.9h1M278.0 289.5h1M278.5 288.8h1M279.9 286.8h1M276.6 289.1h1M270.8 284.3h1M281.1 282.7h1M274.5 285.0h1M291.9 266.5h1M282.2 292.4h1M283.2 279.1h1M291.9 270.1h1M276.8 287.3h1M284.6 276.3h1M283.9 286.9h1M274.5 283.1h1M291.6 272.1h1M275.0 288.0h1M279.7 290.9h1M277.2 292.0h1M277.7 287.8h1M283.5 275.4h1M279.1 289.4h1M286.4 280.6h1M278.2 290.0h1M286.8 275.6h1M279.0 288.9h1M275.3 286.8h1M291.6 271.5h1M278.8 287.8h1M282.3 281.1h1M276.9 284.0h1M283.3 279.9h1M277.2 284.2h1M273.3 287.2h1M282.5 286.1h1M281.6 282.1h1M280.2 282.4h1M276.2 286.9h1M293.1 270.1h1M276.0 288.0h1M277.5 284.5h1M280.4 285.4h1M276.5 289.5h1M274.0 287.7h1M281.4 278.9h1M285.9 282.5h1M278.6 285.1h1M278.2 292.4h1M278.6 289.1h1M279.8 284.5h1M282.6 280.6h1M290.2 277.8h1M280.4 281.5h1M285.1 277.2h1M290.3 270.1h1M274.1 290.9h1M284.4 276.1h1M277.3 288.4h1M279.4 280.3h1M280.8 285.9h1M277.0 289.8h1M276.9 289.3h1M280.3 281.8h1M280.3 290.2h1M287.6 283.1h1M276.8 287.8h1M294.4 265.8h1M278.8 289.1h1M294.4 267.0h1M276.9 289.0h1M283.8 282.7h1M284.8 274.4h1M277.5 291.0h1M274.0 287.0h1M278.8 281.0h1M286.6 275.5h1M291.1 275.8h1M281.2 280.7h1M287.2 277.6h1M274.0 287.6h1M278.5 289.3h1M290.0 273.6h1M279.5 290.5h1M277.7 288.2h1M275.3 290.3h1M273.1 284.2h1M276.2 290.6h1M282.5 284.9h1M290.0 273.2h1M280.9 284.3h1M280.5 286.4h1M279.1 289.8h1M280.6 280.3h1M276.0 289.1h1M278.0 289.0h1M295.5 266.6h1M273.7 287.8h1M272.4 284.6h1M276.5 290.3h1M288.9 276.3h1M281.1 291.0h1M276.9 290.3h1M274.0 287.8h1M287.5 277.1h1M283.1 280.5h1M283.1 278.4h1M274.3 284.8h1M281.9 275.8h1M287.3 273.7h1M282.4 280.1h1M275.6 290.2h1M275.0 290.7h1M276.1 290.3h1M284.0 288.0h1M275.4 289.8h1M279.2 291.8h1M276.4 285.4h1M274.8 287.5h1M274.7 288.6h1M282.4 275.4h1M285.0 285.3h1M284.6 280.1h1M286.4 279.5h1M291.9 275.6h1M278.5 288.4h1M281.0 290.9h1M269.8 285.8h1M280.1 290.3h1M277.4 289.0h1M285.1 276.6h1M285.1 282.7h1M289.5 273.3h1M285.2 276.0h1M284.0 273.4h1M285.4 285.3h1M273.0 281.3h1M277.2 288.3h1M281.2 290.6h1M277.7 290.3h1M279.5 282.6h1M276.8 287.1h1M273.4 289.6h1M274.4 292.4h1M276.4 288.6h1M274.0 285.8h1M273.8 285.2h1M289.7 276.6h1M273.8 286.1h1M273.2 287.4h1M285.4 287.9h1M284.1 276.7h1M288.9 270.2h1M273.9 287.3h1M278.9 289.4h1M275.2 286.8h1M289.4 272.9h1M278.7 277.2h1M276.3 286.1h1M283.3 280.7h1M277.1 288.2h1M280.6 290.6h1M278.6 288.5h1M270.2 282.8h1M273.4 284.8h1M278.4 282.6h1M278.7 284.7h1M289.4 273.5h1M285.5 280.3h1M273.5 284.4h1M269.4 286.7h1M277.3 291.4h1M274.5 286.4h1M271.5 283.6h1M273.5 287.8h1M275.9 287.2h1M275.5 284.2h1M273.9 286.2h1M279.5 289.7h1M274.8 285.5h1M277.2 289.2h1M276.7 289.3h1M276.4 287.0h1M284.5 289.4h1M272.9 286.6h1M280.6 295.7h1M273.9 287.2h1M280.7 282.4h1M275.9 290.7h1M286.6 280.6h1M278.2 289.8h1M277.4 285.8h1M275.6 288.1h1M284.2 284.2h1M281.1 290.2h1M279.0 283.3h1M277.6 293.0h1M284.1 281.8h1M275.7 290.7h1M274.4 285.9h1M278.8 280.7h1M278.1 288.7h1M275.5 278.3h1M277.4 285.3h1M278.9 287.7h1M272.5 285.6h1M288.1 280.7h1M289.0 279.5h1M274.3 286.3h1M276.0 288.7h1M278.5 285.6h1M275.2 287.7h1M277.2 285.6h1M284.6 280.8h1M285.7 284.3h1M289.1 273.9h1M281.1 283.6h1M276.3 289.5h1M274.7 287.6h1M282.7 283.8h1M291.7 269.3h1M274.7 286.2h1M277.7 290.3h1M285.3 272.2h1M276.1 286.8h1M281.9 280.6h1M285.5 277.5h1M272.6 286.1h1M274.8 286.3h1M276.4 288.2h1M282.6 283.9h1M282.1 281.5h1M276.3 287.9h1M279.9 281.2h1M275.1 290.4h1M274.0 279.6h1M281.3 285.8h1M279.7 289.4h1M275.5 289.8h1M275.1 285.8h1M279.1 291.8h1M287.6 273.3h1M280.1 290.6h1M276.5 287.4h1M275.5 286.3h1M281.0 282.4h1M276.2 285.8h1M281.1 282.6h1M277.3 290.0h1M285.4 277.2h1M275.7 287.5h1M283.1 280.7h1M279.9 286.4h1M285.6 277.8h1M278.6 288.7h1M276.8 291.0h1M276.6 289.9h1M278.8 289.3h1M288.1 274.9h1M279.5 290.4h1M278.5 288.1h1M288.4 277.3h1M276.3 288.1h1M276.6 282.5h1M278.4 284.4h1M276.7 288.6h1M279.8 286.4h1M285.3 278.0h1M288.0 280.2h1M274.0 285.6h1M298.7 259.5h1M279.5 284.3h1M275.5 286.7h1M276.6 288.8h1M277.6 290.4h1M288.6 284.5h1M270.6 289.6h1M274.8 285.8h1M275.5 289.6h1M273.9 285.0h1M275.7 286.2h1M278.6 292.1h1M276.0 289.0h1M287.1 276.0h1M279.2 290.5h1M273.6 284.3h1M277.3 288.3h1M283.6 280.0h1M287.2 276.8h1M282.6 277.8h1M280.7 282.0h1M281.4 282.5h1M277.5 290.8h1M286.3 274.7h1M278.1 289.6h1M271.5 284.9h1M277.9 289.0h1M278.1 290.3h1M278.5 282.5h1M282.3 280.7h1M287.2 275.9h1M278.0 288.3h1M279.4 290.8h1M277.5 288.4h1M275.4 289.0h1M276.0 288.4h1M293.2 269.5h1M278.2 290.3h1M277.4 288.8h1M281.1 281.1h1M278.5 284.9h1M281.7 279.5h1M274.3 287.3h1M274.9 288.3h1M286.6 274.8h1M278.3 290.1h1M274.6 285.5h1M279.0 286.0h1M272.4 288.3h1M279.0 289.4h1M277.3 289.2h1M283.8 285.1h1M278.3 289.1h1M272.2 289.2h1M283.4 280.6h1M272.6 290.4h1M275.7 287.2h1M274.2 286.7h1M275.9 288.0h1M277.6 287.8h1M285.0 279.3h1M281.8 293.6h1M276.3 288.2h1M283.2 281.1h1M281.0 283.0h1M282.3 280.8h1M279.2 284.3h1M277.2 288.1h1M276.4 288.0h1M278.5 289.7h1M285.0 280.1h1M287.6 272.8h1M292.7 269.4h1M276.8 289.8h1M276.5 287.4h1M276.9 287.1h1M277.0 287.7h1M277.3 290.5h1M294.5 267.6h1M288.3 273.1h1M277.1 287.7h1M279.6 290.6h1M275.3 285.8h1M277.3 290.7h1M276.5 287.6h1M290.1 286.3h1M291.1 273.1h1M284.3 279.6h1M287.2 275.6h1M272.7 286.4h1M272.0 291.8h1M291.1 277.5h1M279.4 286.8h1M276.7 287.2h1M290.4 272.2h1M276.3 289.2h1M274.1 287.3h1M276.7 288.9h1M290.7 273.3h1M282.1 276.8h1M274.6 290.0h1M286.5 269.1h1M273.8 284.4h1M282.2 285.3h1M279.1 291.1h1M294.4 272.1h1M278.1 281.6h1M287.5 275.4h1M275.4 288.5h1M284.7 282.9h1M278.6 287.6h1M277.3 288.1h1M277.7 290.0h1M275.5 287.9h1M278.0 291.2h1M275.8 288.0h1M279.8 289.6h1M282.2 282.7h1M275.9 290.5h1M273.6 287.1h1M273.3 285.7h1M271.8 287.3h1M278.1 288.9h1M272.4 284.0h1M280.2 290.4h1M279.8 283.4h1M282.4 277.0h1M284.2 280.8h1M276.8 283.1h1M282.0 282.4h1M275.8 288.4h1M278.8 291.3h1M284.0 283.2h1M283.5 284.0h1M294.1 266.7h1M279.9 290.2h1M276.0 289.0h1M279.8 285.3h1M277.8 289.1h1M276.9 289.5h1M286.0 273.3h1M293.3 270.3h1M277.0 281.7h1M277.6 289.5h1M279.1 285.3h1M277.5 287.8h1M273.2 287.8h1M285.6 281.4h1M279.6 284.3h1M288.5 277.1h1M275.1 287.1h1M275.9 286.3h1M277.5 287.9h1M277.4 292.2h1M296.0 263.0h1M273.4 289.9h1M274.8 288.5h1M276.4 287.6h1M274.4 289.2h1M282.7 285.6h1M278.4 289.6h1M277.9 287.2h1M280.9 287.1h1M280.1 289.0h1M276.7 285.8h1M275.7 286.5h1M282.0 284.9h1M287.5 283.3h1M271.9 283.6h1M275.5 287.1h1M278.6 289.6h1M278.1 283.5h1M278.9 289.7h1M277.5 288.6h1M272.7 287.7h1M292.2 268.9h1M276.6 290.2h1M289.6 270.7h1M284.8 281.0h1M286.1 278.4h1M278.8 284.7h1M282.1 283.6h1M279.0 284.3h1M282.5 282.4h1M282.3 278.2h1M291.6 274.8h1M275.6 288.6h1M283.6 284.8h1M293.3 274.6h1M290.9 276.2h1M276.1 289.1h1M280.3 284.9h1M279.6 284.8h1M280.1 285.7h1M272.6 289.6h1M281.3 276.6h1M276.0 290.7h1M295.1 266.6h1M285.6 283.6h1M281.3 291.0h1M280.1 279.3h1M276.7 284.5h1M278.5 289.8h1M280.0 289.8h1M280.6 284.3h1M276.6 288.9h1M280.0 277.8h1M290.2 279.8h1M285.1 276.2h1M288.0 276.8h1M288.6 275.4h1M281.7 279.3h1M289.4 275.9h1M281.3 289.4h1M280.8 283.4h1M289.3 273.9h1M294.0 269.4h1M279.2 289.9h1M277.4 291.4h1M294.0 265.9h1M285.5 275.0h1M291.7 269.2h1M280.4 274.8h1M276.9 282.7h1M276.2 288.2h1M274.8 287.8h1M288.2 272.3h1M287.1 279.1h1M280.9 284.8h1M277.8 290.8h1M276.5 288.0h1M275.8 287.7h1M275.2 286.4h1M274.1 292.6h1M275.8 282.0h1M289.2 271.2h1M278.1 289.4h1M279.7 288.6h1M279.8 284.5h1M273.6 287.0h1M282.3 284.1h1M274.8 287.5h1M276.7 288.0h1M277.7 283.2h1M281.5 290.9h1M281.6 289.0h1M274.4 287.4h1M281.5 278.5h1M275.9 289.2h1M285.6 280.0h1M279.6 290.6h1M275.8 289.3h1M274.7 285.3h1M276.7 289.7h1M277.4 288.8h1M273.8 284.8h1M283.6 279.3h1M283.6 279.1h1M279.7 281.1h1M277.6 288.3h1M277.7 291.9h1M279.4 289.7h1M275.1 286.4h1M276.1 286.6h1M278.3 289.6h1M276.1 287.7h1M283.6 279.0h1M280.5 293.7h1M272.2 282.5h1M287.0 274.2h1M274.6 287.2h1M276.1 289.0h1M281.0 291.0h1M276.7 287.8h1M279.2 284.3h1M289.0 274.3h1M276.7 287.1h1M282.9 282.5h1M282.3 293.1h1M275.3 287.0h1M279.7 284.1h1M276.4 288.4h1M284.2 272.9h1M278.3 289.2h1M277.2 287.6h1M271.8 285.6h1M276.3 287.7h1M276.5 289.4h1M274.9 286.6h1M277.5 292.4h1M276.3 286.3h1M290.0 268.7h1M276.7 292.0h1M291.7 270.2h1M277.7 287.9h1M282.1 276.4h1M273.1 286.6h1M293.1 266.6h1M275.7 289.0h1M277.1 287.3h1M292.3 273.7h1M279.1 292.4h1M274.6 291.6h1M277.2 287.4h1M280.6 292.2h1M276.3 289.2h1M278.5 290.8h1M274.4 289.0h1M289.0 273.5h1M287.2 275.1h1M274.1 288.5h1M278.2 288.3h1M275.1 286.7h1M286.5 276.4h1M277.3 289.6h1M293.7 273.8h1M273.5 283.8h1M276.6 288.9h1M278.8 288.8h1M275.9 287.8h1M297.1 265.9h1M279.9 286.9h1M277.9 289.2h1M277.5 285.7h1M289.5 272.6h1M275.7 288.7h1M273.0 288.5h1M288.7 274.7h1M280.7 279.7h1M274.8 286.5h1M274.4 285.1h1M288.5 278.0h1M272.5 291.0h1M286.8 273.7h1M279.0 289.2h1M282.4 280.1h1M278.2 288.2h1M303.1 256.8h1M277.4 289.2h1M287.0 276.8h1M269.1 287.9h1M281.1 289.7h1M285.9 281.1h1M272.1 287.4h1M276.6 292.5h1M277.9 286.1h1M286.2 277.6h1M289.4 277.4h1M278.7 290.5h1M282.4 285.6h1M279.9 293.5h1M293.4 271.3h1M275.4 287.3h1M286.2 273.2h1M279.0 289.5h1M273.3 284.9h1M290.6 271.0h1M275.5 288.3h1M287.3 273.7h1M280.0 290.6h1M277.0 289.6h1M275.8 288.5h1M288.3 277.4h1M276.5 286.9h1M279.6 290.3h1M279.8 293.8h1M287.1 275.6h1M286.0 276.8h1M282.5 286.2h1M280.5 276.8h1M270.2 290.7h1M274.5 286.5h1M275.5 283.0h1M278.4 286.4h1M277.3 289.0h1M279.4 285.1h1M276.4 288.7h1M278.6 290.3h1M278.1 291.6h1M281.3 288.3h1M276.2 288.5h1M276.8 288.4h1M291.2 275.5h1M278.3 288.3h1M280.3 290.0h1M274.3 289.2h1M276.7 288.3h1M284.6 276.8h1M282.1 282.0h1M278.9 287.7h1M276.3 287.0h1M282.3 290.4h1M277.9 281.1h1M278.9 289.6h1M271.6 289.7h1M294.3 268.2h1M285.8 275.2h1M277.4 287.9h1M289.4 273.5h1M273.9 288.2h1M286.5 273.1h1M277.6 284.3h1M285.0 278.7h1M278.8 289.6h1M282.1 288.8h1M279.2 279.0h1M287.0 277.7h1M280.9 281.6h1M281.2 283.1h1M277.4 289.1h1M292.8 271.2h1M280.1 286.1h1M277.1 287.8h1M280.4 290.9h1M276.4 290.0h1M276.4 288.7h1M277.8 292.1h1M276.8 283.5h1M275.3 285.9h1M282.3 287.8h1M275.3 289.2h1M273.0 284.9h1M278.3 290.0h1M287.7 279.3h1M273.7 288.6h1M272.5 287.7h1M288.1 274.6h1M281.2 284.5h1M274.0 289.0h1M287.4 272.9h1M290.7 273.2h1M287.8 276.8h1M271.1 288.1h1M276.1 284.3h1M275.5 288.3h1M275.7 286.8h1M275.7 290.5h1M292.6 270.8h1M280.5 292.0h1M280.5 285.3h1M285.8 280.8h1M279.7 279.0h1M279.5 282.3h1M279.2 290.1h1M276.3 282.8h1M280.1 290.3h1M275.4 292.3h1M286.0 277.7h1M276.3 288.3h1M274.2 286.2h1M274.5 286.2h1M274.3 288.8h1M274.8 288.7h1M277.6 292.8h1M279.4 281.2h1M286.4 274.9h1M274.3 283.6h1M276.2 289.7h1M288.4 274.5h1M279.4 290.0h1M279.4 293.7h1M276.0 291.6h1M277.2 284.2h1M289.8 273.4h1M277.5 288.6h1M276.4 288.4h1M274.7 286.0h1M277.0 289.5h1M274.0 286.2h1M279.4 284.9h1M275.8 288.1h1M280.9 274.6h1M277.4 290.2h1M287.2 283.7h1M279.6 283.5h1M275.6 287.0h1M279.0 289.7h1M274.1 285.6h1M291.5 270.8h1M276.8 289.3h1M286.5 275.0h1M285.7 277.4h1M275.1 286.5h1M290.2 270.8h1M275.5 292.7h1M277.7 283.6h1M277.3 285.2h1M276.1 286.1h1M285.3 279.9h1M276.1 287.5h1M275.3 286.2h1M287.5 276.5h1M272.9 284.0h1M271.8 285.7h1M282.7 282.3h1M281.4 291.0h1M275.6 287.5h1M282.7 282.6h1M273.3 286.2h1M276.3 289.3h1M277.5 288.3h1M278.4 288.8h1M276.2 285.7h1M279.9 293.0h1M290.6 269.4h1M285.8 283.1h1M276.3 284.2h1M280.9 286.6h1M276.8 294.1h1M288.8 281.4h1M275.7 289.0h1M278.5 279.9h1M277.6 291.0h1M284.5 276.7h1M274.4 286.4h1M275.9 286.8h1M289.0 271.3h1M286.9 278.7h1M275.9 290.1h1M278.0 289.9h1M280.8 287.1h1M276.3 287.2h1M285.4 280.5h1M279.1 290.9h1M278.8 294.0h1M276.5 289.3h1M276.6 287.3h1M280.2 280.6h1M282.9 279.6h1M287.9 275.2h1M279.9 285.6h1M274.2 285.4h1M282.8 279.7h1M276.9 287.3h1M275.5 287.2h1M275.5 287.2h1M285.8 278.8h1M288.5 271.6h1M289.1 275.0h1M272.9 288.2h1M286.9 277.0h1M273.5 287.4h1M279.6 290.2h1M283.7 282.9h1M278.5 292.2h1M273.9 288.0h1M273.5 286.4h1M289.9 269.3h1M286.1 276.5h1M278.5 290.9h1M280.1 287.4h1M280.0 287.4h1M277.6 282.4h1M278.8 290.7h1M290.5 274.1h1M275.7 287.1h1M279.8 275.7h1M273.4 288.9h1M280.4 283.4h1M282.0 288.9h1M289.1 274.3h1M273.7 291.8h1M285.1 284.5h1M286.9 281.7h1M277.9 288.6h1M289.3 275.2h1M296.3 267.7h1M283.6 277.7h1M284.9 280.1h1M288.1 273.6h1M279.2 281.6h1M288.5 275.9h1M284.5 283.3h1M280.6 292.1h1M277.7 290.7h1M289.0 277.3h1M282.1 281.3h1M273.2 285.9h1M276.3 286.1h1M290.3 273.4h1M273.8 289.3h1M280.4 292.5h1M285.5 282.4h1M284.0 279.0h1M279.6 292.7h1M277.5 290.4h1M282.3 288.8h1M289.0 273.3h1M279.3 288.9h1M273.7 291.0h1M286.1 277.3h1M280.0 289.7h1M281.0 291.8h1M276.1 289.7h1M287.9 276.0h1M277.9 283.4h1M280.4 283.2h1M281.4 284.9h1M278.7 281.1h1M283.7 278.6h1M290.4 269.3h1M276.4 289.7h1M279.4 289.3h1M277.6 288.9h1M291.2 270.5h1M274.9 286.1h1M271.7 287.3h1M277.5 287.6h1M279.8 291.6h1M275.9 288.3h1M276.7 288.1h1M274.7 288.9h1M272.3 288.7h1M295.0 269.1h1M278.9 289.0h1M272.9 286.4h1M280.4 279.4h1M290.6 275.9h1M273.1 288.8h1M276.8 288.2h1M277.7 283.0h1M277.0 289.5h1M279.7 281.8h1M274.4 288.5h1M274.1 286.6h1M281.5 291.2h1M286.2 287.6h1M278.3 287.6h1M278.0 289.9h1M278.2 289.2h1M274.5 291.1h1M295.2 266.2h1M276.1 287.6h1M278.8 289.5h1M277.2 282.8h1M280.7 280.6h1M281.8 285.3h1M273.5 286.1h1M278.7 293.3h1M276.7 287.3h1M276.8 289.2h1M279.7 290.9h1M277.4 287.4h1M279.7 285.4h1M287.4 274.0h1M278.4 288.7h1M276.6 291.7h1M280.7 280.4h1M286.3 279.3h1M277.3 292.1h1M283.4 282.3h1M277.4 284.4h1M278.8 290.2h1M281.8 288.3h1M279.7 282.9h1M279.0 278.8h1M285.9 275.2h1M277.5 287.6h1M280.4 289.9h1M298.7 264.4h1M277.5 290.6h1M275.7 286.8h1M278.7 289.5h1M283.9 279.9h1M285.1 275.2h1M271.7 286.5h1M289.3 276.6h1M272.2 286.5h1M300.3 262.4h1M281.5 292.8h1M286.7 276.6h1M275.3 286.4h1M282.2 279.5h1M275.0 287.5h1M279.4 287.0h1M279.9 289.2h1M276.6 285.3h1M283.5 279.2h1M275.5 287.1h1M279.6 290.2h1M277.8 291.6h1M275.4 286.2h1M276.1 287.8h1M285.1 279.0h1M279.8 278.1h1M275.3 287.8h1M281.4 283.4h1M286.4 272.7h1M277.7 288.3h1M276.0 289.6h1M297.6 262.6h1M284.1 283.7h1M281.6 279.1h1M298.8 262.9h1M275.8 288.4h1M282.3 286.4h1M273.1 289.3h1M282.8 283.6h1M282.0 284.7h1M278.9 291.0h1M279.9 292.0h1M273.9 285.0h1M277.0 287.8h1M289.3 270.6h1M279.3 289.7h1M280.3 290.3h1M276.6 287.3h1M275.8 290.7h1M279.7 290.8h1M276.0 290.2h1M278.2 286.1h1M270.8 288.2h1M274.3 288.1h1M281.7 286.8h1M271.3 288.4h1M275.9 290.7h1M286.1 278.0h1M275.6 289.8h1M279.3 289.0h1M278.5 283.2h1M279.1 291.9h1M274.1 289.6h1M291.6 273.5h1M275.4 287.4h1M282.3 282.9h1M275.7 288.2h1M283.9 286.8h1M273.3 287.8h1M274.2 288.7h1M279.3 292.0h1M278.4 290.1h1M276.5 288.5h1M276.5 287.6h1M278.5 281.1h1M276.1 287.9h1M285.9 278.8h1M279.2 290.9h1M284.7 282.4h1M290.6 276.3h1M292.5 270.6h1M273.1 289.6h1M291.4 270.0h1M278.4 293.4h1M289.5 273.6h1M280.6 290.2h1M277.2 281.4h1M275.1 288.2h1M283.9 277.1h1M283.7 281.2h1M275.0 287.0h1M273.7 286.1h1M284.5 278.9h1M282.3 274.1h1M282.8 279.0h1M277.9 289.0h1M275.0 285.4h1M285.2 278.1h1M282.9 277.9h1M286.3 275.9h1M279.2 286.6h1M277.6 289.6h1M280.8 285.4h1M279.8 281.8h1M280.2 291.3h1M281.9 283.7h1M274.9 287.7h1M282.4 287.4h1M275.8 287.8h1M297.2 268.2h1M288.8 276.8h1M279.4 284.8h1M274.6 288.9h1M273.9 288.0h1M281.9 279.4h1M276.7 287.3h1M282.8 286.9h1M275.7 290.5h1M275.2 289.9h1M279.4 287.2h1M276.5 287.3h1M272.8 287.4h1M273.1 286.1h1M286.6 281.9h1M276.3 287.8h1M285.4 284.5h1M293.8 273.2h1M280.9 284.7h1M280.3 287.7h1M275.9 287.9h1M287.5 275.3h1M275.7 290.2h1M276.0 289.4h1M280.9 290.4h1M275.3 289.9h1M287.2 279.1h1M276.9 288.8h1M283.2 283.4h1M281.3 291.6h1M273.7 285.1h1M280.3 289.7h1M273.4 289.7h1M276.5 289.8h1M276.1 287.7h1M295.6 265.1h1M281.8 277.4h1M278.6 276.2h1M280.9 293.4h1M286.5 280.0h1M287.5 274.9h1M280.4 277.2h1M299.9 261.9h1M279.2 292.8h1M277.0 290.2h1M273.3 284.8h1M275.0 288.2h1M278.5 287.6h1M281.7 282.3h1M280.1 289.7h1M276.2 284.8h1M279.6 282.5h1M279.4 276.1h1M279.2 290.8h1M278.1 289.9h1M286.7 275.2h1M273.0 284.7h1M278.3 290.6h1M276.8 282.3h1M274.1 285.7h1M274.2 282.8h1M274.2 284.9h1M280.9 279.8h1M283.2 276.9h1M278.9 291.1h1M277.4 291.0h1M290.9 271.8h1M275.2 287.6h1M275.2 290.1h1M271.8 288.2h1M278.4 288.4h1M274.4 286.8h1M273.7 289.6h1M276.9 289.8h1M274.0 287.6h1M283.3 275.7h1M281.6 287.2h1M273.5 284.2h1M272.7 287.2h1M274.5 285.6h1M281.5 279.9h1M278.4 285.8h1M280.7 272.5h1M276.9 285.9h1M285.9 283.0h1M283.6 285.2h1M278.7 290.2h1M288.4 274.2h1M280.9 284.4h1M283.2 278.6h1M272.1 286.1h1M276.8 290.0h1M279.7 289.9h1M277.0 289.5h1M282.5 281.4h1M282.6 285.1h1M288.1 275.9h1M284.5 283.7h1M274.9 288.6h1M282.1 275.5h1M277.7 289.6h1M278.5 290.5h1M276.1 285.5h1M278.0 288.0h1M287.3 278.4h1M299.1 257.9h1M286.0 287.7h1M290.7 274.2h1M276.7 287.5h1M277.7 282.2h1M273.1 285.3h1M284.6 294.7h1M288.1 273.9h1M282.6 284.4h1M279.7 282.1h1M275.6 288.2h1M292.5 271.4h1M275.0 286.0h1M276.4 288.5h1M277.0 287.2h1M283.9 281.7h1M285.3 281.6h1M289.4 272.8h1M279.2 292.0h1M275.8 287.3h1M289.8 271.7h1M296.4 265.1h1M276.0 288.1h1M279.2 289.2h1M268.6 284.5h1M272.2 285.4h1M271.2 284.8h1M280.6 290.4h1M277.7 291.1h1M283.9 277.3h1M278.3 288.4h1M273.0 284.5h1M284.5 278.0h1M280.6 290.9h1M277.2 290.9h1M282.6 291.5h1M295.0 265.6h1M280.9 288.8h1M282.0 282.6h1M278.0 288.5h1M277.8 288.4h1M283.2 283.9h1M276.9 294.6h1M275.9 289.7h1M277.5 289.3h1M276.9 287.8h1M290.0 273.6h1M297.1 262.6h1M284.7 283.0h1M282.2 284.9h1M283.7 281.4h1M290.0 272.7h1M274.6 287.9h1M274.6 286.5h1M276.2 284.0h1M278.2 283.2h1M277.0 292.5h1M281.9 284.1h1M271.9 287.4h1M282.0 278.5h1M287.0 281.3h1M278.2 294.6h1M283.4 284.1h1M283.8 289.7h1M275.1 287.3h1M286.2 278.9h1M293.4 267.1h1M286.2 286.6h1M277.0 290.3h1M276.5 290.8h1M276.8 290.3h1M274.5 288.0h1M286.7 276.5h1M274.9 280.7h1M276.5 286.8h1M282.9 277.5h1M279.5 289.1h1M280.9 290.0h1M277.1 289.6h1M274.3 286.7h1M275.2 285.3h1M277.7 291.1h1M290.9 270.9h1M277.9 286.0h1M274.3 286.5h1M286.0 278.4h1M276.6 289.8h1M287.7 278.4h1M276.1 285.1h1M293.1 269.0h1M273.6 285.8h1M277.6 288.8h1M276.5 289.1h1M275.0 289.0h1M281.6 287.0h1M273.2 287.0h1M283.5 287.5h1M277.7 289.5h1M287.3 278.1h1M274.7 292.5h1M279.5 282.4h1M276.6 286.3h1M279.9 289.6h1M276.7 288.7h1M292.4 270.8h1M276.3 287.7h1M282.8 285.1h1M278.8 289.4h1M274.1 285.8h1M282.8 290.7h1M285.2 282.8h1M278.0 291.2h1M277.8 289.1h1M275.6 290.0h1M282.7 285.4h1M282.5 294.2h1M276.4 288.8h1M280.8 279.6h1M277.6 287.7h1M281.0 284.0h1M279.7 289.8h1M278.3 281.6h1M277.2 286.2h1M275.4 288.9h1M281.4 287.6h1M279.8 290.4h1M277.8 288.5h1M282.2 287.0h1M277.1 288.8h1M276.4 289.7h1M283.5 272.9h1M291.6 268.6h1M274.5 286.1h1M287.8 277.0h1M280.8 284.1h1M274.2 286.6h1M276.5 289.1h1M276.9 287.9h1M277.9 289.1h1M275.8 287.1h1M275.8 286.4h1M278.8 291.9h1M284.1 278.8h1M278.4 291.5h1M274.0 287.7h1M284.7 278.3h1M283.1 279.7h1M288.1 272.1h1M280.2 287.8h1M273.5 286.1h1M287.3 276.7h1M272.5 283.6h1M279.0 289.2h1M276.5 289.1h1M283.1 285.8h1M278.9 295.5h1M280.4 281.4h1M274.8 291.0h1M282.3 277.1h1M274.3 289.3h1M283.2 281.1h1M298.0 263.2h1M279.0 289.6h1M277.1 290.5h1M294.8 269.4h1M275.3 287.0h1M276.3 289.8h1M286.2 273.9h1M273.1 292.0h1M269.1 284.8h1M275.4 289.6h1M276.7 288.9h1M273.6 290.1h1M283.5 278.9h1M282.9 275.1h1M275.9 286.4h1M275.6 287.1h1M275.8 290.6h1M282.2 283.9h1" stroke="#000" stroke-width="1" stroke-opacity="0.6" fill="none" filter="url(#bl)"/>
<path d="M301.0 259.6h1M302.8 257.7h1M303.6 258.1h1M303.0 254.2h1M293.4 268.5h1M292.9 271.5h1M301.1 254.2h1M302.2 256.3h1M296.5 264.7h1M291.7 267.5h1M288.7 268.8h1M303.9 255.6h1M298.0 262.0h1M296.7 261.8h1M290.4 270.7h1M290.9 271.2h1M295.0 266.8h1M302.6 257.3h1M299.7 257.5h1M291.2 268.7h1M286.1 270.9h1M296.4 261.5h1M299.7 260.1h1M303.2 256.8h1M297.8 261.8h1M291.3 269.1h1M294.3 262.3h1M297.8 259.5h1M289.3 269.3h1M301.9 256.2h1M288.9 270.7h1M289.1 275.5h1M292.8 269.2h1M299.2 258.5h1M296.0 262.6h1M291.3 268.2h1M292.1 267.2h1M295.1 263.9h1M298.9 256.9h1M304.6 256.4h1M299.3 261.4h1M289.9 271.8h1M301.9 257.5h1M301.2 258.8h1M298.7 260.2h1M299.1 256.8h1M287.4 273.7h1M298.6 261.1h1M294.1 263.6h1M301.8 253.3h1" stroke="#000" stroke-width="1" stroke-opacity="0.45" fill="none" filter="url(#bl)"/>
<path d="M328.1 282.9h1M314.0 286.4h1M319.3 290.4h1M316.1 285.5h1M331.6 294.9h1M311.0 288.9h1M327.5 290.6h1M304.2 278.5h1M326.7 292.5h1M317.4 289.9h1M306.0 278.4h1M321.0 290.8h1M320.2 291.2h1M310.1 285.5h1M323.0 283.4h1M320.4 281.6h1M323.8 289.5h1M311.5 289.6h1M315.7 288.2h1M321.4 289.3h1M317.2 290.3h1M314.1 280.6h1M329.6 291.1h1M317.2 294.5h1M327.8 284.5h1M315.9 286.3h1M308.6 290.2h1M321.9 287.3h1M325.1 287.2h1M328.3 273.5h1M323.2 294.1h1M323.5 277.3h1M316.5 296.2h1M315.9 283.2h1M341.7 286.5h1M312.0 284.0h1M322.6 288.1h1M323.6 282.5h1M309.0 288.3h1M318.8 291.6h1M324.4 298.0h1M331.5 274.9h1M331.3 289.0h1M318.4 292.7h1M318.6 294.3h1M317.6 285.1h1M322.2 289.8h1M313.9 291.4h1M316.8 282.7h1M315.6 285.4h1M317.3 289.6h1M332.7 283.7h1M332.1 293.0h1M330.3 283.2h1M309.8 291.3h1M322.7 281.1h1M336.4 284.7h1M323.4 290.8h1M316.1 292.7h1M324.6 284.1h1M319.0 281.0h1M318.1 292.5h1M322.4 283.8h1M323.9 291.6h1M319.6 296.6h1M320.6 293.0h1M314.0 281.0h1M320.4 296.2h1M325.4 295.6h1M321.3 286.1h1M319.6 287.1h1M311.3 297.3h1M328.1 291.2h1M313.1 291.8h1M325.2 295.5h1M318.4 292.4h1M327.6 297.1h1M318.7 290.3h1M300.8 290.2h1M307.3 287.8h1M314.3 296.2h1M314.7 282.9h1M322.7 294.4h1M333.8 286.2h1M325.1 279.3h1M319.9 295.0h1M329.6 291.9h1M319.5 291.1h1M326.4 287.8h1M323.2 289.4h1M308.1 286.0h1M327.1 297.0h1M332.3 297.1h1M318.5 289.3h1M325.8 289.6h1M324.2 291.2h1M319.0 294.6h1M318.3 290.8h1M327.3 287.1h1M316.6 288.3h1M317.3 291.2h1M326.4 288.8h1M326.9 287.5h1M331.1 296.4h1M317.0 291.9h1M312.1 294.7h1M328.0 284.7h1M310.7 294.3h1M318.1 289.8h1M319.4 288.2h1M332.1 285.9h1M321.0 286.1h1M312.9 287.0h1M320.7 290.3h1M329.6 289.2h1M312.2 292.3h1M327.6 291.0h1M321.6 289.2h1M314.2 285.3h1M319.5 285.2h1M321.3 291.6h1M313.3 281.3h1M317.1 298.6h1M330.4 298.3h1M322.9 281.5h1M328.2 296.4h1M320.6 295.8h1M317.2 295.9h1M322.9 293.4h1M314.8 298.8h1M323.2 285.2h1M318.8 287.2h1M318.9 293.1h1M319.1 290.0h1M314.6 281.8h1M329.8 294.2h1M311.0 295.4h1M322.3 288.5h1M312.6 291.8h1M326.8 295.0h1M319.4 278.1h1M322.1 286.6h1M323.9 284.9h1M323.2 288.9h1M322.1 282.9h1M323.2 282.7h1M323.1 290.9h1M318.9 282.9h1M319.3 298.6h1M316.2 295.0h1M317.3 295.3h1M329.5 297.0h1M311.5 287.4h1M331.9 295.9h1M317.4 281.4h1M324.9 285.3h1M320.9 291.6h1M319.7 294.0h1M324.5 282.1h1M331.9 279.2h1M320.1 292.0h1M320.6 291.4h1M317.3 293.6h1M334.1 289.3h1M328.5 282.5h1M328.2 296.0h1M321.1 294.0h1M308.5 290.7h1M309.2 291.1h1M316.8 298.1h1M327.2 289.0h1M317.1 273.7h1M316.4 283.3h1M307.0 274.6h1M325.5 288.4h1M323.6 296.2h1M317.7 280.3h1M323.2 293.7h1M310.4 288.2h1M314.8 294.8h1M322.1 291.8h1M326.6 284.2h1M320.7 293.0h1M312.8 289.6h1M317.7 294.7h1M317.0 288.7h1M322.5 298.8h1M323.7 289.2h1M317.3 293.1h1M321.0 290.8h1M309.2 286.1h1M317.1 290.5h1M321.1 287.3h1M325.0 292.9h1M329.3 283.9h1M317.7 284.5h1M323.9 294.6h1M320.0 292.8h1M315.7 292.9h1M315.8 292.9h1M320.4 295.6h1M320.9 292.4h1M315.9 294.9h1M338.7 285.5h1M320.6 292.7h1M325.1 285.7h1M319.1 283.0h1M338.9 288.6h1M306.3 293.4h1M318.5 289.9h1M328.5 293.6h1M320.5 292.2h1M314.4 290.5h1M331.0 282.4h1M325.1 290.1h1M319.1 290.0h1M319.2 285.5h1M321.8 289.2h1M309.7 285.9h1M321.7 290.7h1M316.8 280.3h1M323.9 291.5h1M322.9 289.9h1M314.0 290.9h1M325.7 289.4h1M314.9 292.5h1M313.9 289.7h1M316.3 295.9h1M314.9 291.7h1M315.7 282.8h1M324.1 292.2h1M320.4 280.7h1M320.4 285.0h1M320.0 286.6h1M318.7 283.7h1M332.1 289.8h1M327.1 287.8h1M318.6 285.7h1M328.9 291.9h1M333.0 285.8h1M323.8 296.9h1M322.7 293.3h1M317.6 287.4h1M321.5 292.3h1M322.2 286.0h1M329.2 286.3h1M314.6 295.5h1M310.2 280.9h1M317.5 292.4h1M307.8 277.5h1M315.5 279.1h1M313.5 277.3h1M321.6 278.0h1M328.2 283.3h1M311.9 286.5h1M322.2 279.1h1M319.6 288.6h1M324.9 294.3h1M320.7 285.4h1M316.6 290.4h1M326.4 293.2h1M314.1 289.2h1M307.8 293.7h1M316.1 292.6h1M322.0 290.0h1M325.7 287.8h1M317.0 291.7h1M318.2 293.6h1M309.0 282.3h1M317.7 287.6h1M321.4 291.6h1M316.9 291.4h1M320.0 291.6h1M314.3 298.9h1M314.8 295.6h1M322.4 282.7h1M310.6 298.6h1M320.7 285.8h1M328.3 285.1h1M316.9 295.7h1M317.4 287.9h1M315.2 280.2h1M312.2 293.2h1M316.8 292.2h1M312.4 292.7h1M319.1 281.8h1M317.0 294.2h1M313.2 286.2h1M320.7 294.7h1M327.0 282.7h1M325.6 284.3h1M318.7 278.6h1M320.3 285.3h1M313.7 295.6h1M318.9 291.0h1M324.7 286.5h1M325.3 297.3h1M329.1 290.8h1M310.7 294.0h1M330.5 291.5h1M322.9 289.1h1M330.4 290.4h1M320.4 292.1h1M328.3 296.0h1M320.2 293.0h1M313.6 294.6h1M322.4 283.4h1M317.1 279.1h1M320.1 291.4h1M323.7 290.5h1M325.4 292.1h1M324.6 284.0h1M326.6 290.4h1M310.4 283.6h1M327.8 290.1h1M315.0 289.2h1M321.0 288.6h1M317.7 291.4h1M312.9 286.8h1M326.1 289.5h1M313.8 293.5h1M316.8 298.1h1M329.8 291.9h1M305.9 294.2h1M309.5 292.9h1M326.5 299.0h1M325.4 286.0h1M320.3 293.5h1M317.3 291.3h1M324.9 298.5h1M315.8 275.9h1M316.8 286.0h1M321.9 279.9h1M313.3 297.4h1M311.1 291.2h1M309.7 293.4h1M326.4 291.9h1M332.8 291.2h1M328.0 291.9h1M316.3 287.3h1M317.0 278.1h1M314.0 291.5h1M320.4 289.3h1M327.1 286.4h1M319.9 286.2h1M320.3 297.0h1M299.5 285.4h1M322.4 283.7h1M312.7 293.3h1M318.8 297.8h1M322.7 282.3h1M321.2 284.0h1M325.2 283.7h1M330.3 291.7h1M305.7 292.7h1M310.4 297.5h1M331.1 289.3h1M323.6 288.2h1M315.8 286.2h1M318.8 295.9h1M320.6 286.2h1M327.3 284.9h1M318.4 288.3h1M320.5 289.4h1M311.9 291.8h1M330.0 286.0h1M311.9 283.3h1M320.4 290.4h1M326.3 283.9h1M335.5 288.0h1M333.0 282.6h1M318.2 288.0h1M317.9 291.1h1M314.3 290.5h1M323.6 282.0h1M315.7 278.3h1M324.4 279.2h1M322.8 296.4h1M323.4 288.5h1M314.3 290.0h1M328.2 297.7h1M319.4 283.9h1M312.8 291.9h1M320.5 285.8h1M321.9 290.6h1M321.1 279.0h1M326.9 287.3h1M328.5 289.1h1M335.5 290.2h1M320.1 281.5h1M328.6 288.2h1M303.9 294.5h1M333.0 289.0h1M320.6 294.3h1M329.0 293.3h1M319.2 290.9h1M324.3 287.5h1M324.9 290.0h1M316.8 284.3h1M317.1 293.3h1M302.0 291.4h1M324.4 296.2h1M319.3 294.3h1M328.8 292.7h1M323.1 290.6h1M322.3 294.3h1M308.5 297.3h1M321.8 288.0h1M318.9 282.4h1M327.2 281.9h1M317.6 295.1h1M312.8 292.2h1M319.3 292.6h1M332.9 280.1h1M315.1 286.4h1M329.2 280.8h1M319.7 283.1h1M307.6 286.3h1M324.9 285.7h1M336.2 298.4h1M323.8 282.4h1M313.9 286.0h1M319.4 285.3h1M315.1 289.9h1M339.5 293.6h1M324.4 285.0h1M305.4 280.1h1M326.2 287.1h1M323.8 291.8h1M314.1 283.4h1M316.8 295.0h1M320.4 283.8h1M332.1 285.9h1M317.4 287.0h1M327.1 293.9h1M316.7 291.5h1M314.0 283.8h1M319.9 283.2h1M326.2 285.6h1M321.8 298.5h1M318.4 296.9h1M330.2 290.3h1M329.9 285.6h1M310.4 279.6h1M313.3 287.0h1M314.8 292.5h1M319.4 292.7h1M321.9 291.7h1M320.3 285.6h1M321.3 292.4h1M323.8 288.6h1M312.4 294.5h1M306.6 291.0h1M322.8 293.9h1M329.0 291.4h1M322.1 286.9h1M318.1 296.2h1M324.5 283.7h1M318.7 293.3h1M312.3 287.0h1M318.4 287.5h1M325.8 291.1h1M323.0 286.6h1M325.3 283.8h1M317.6 284.3h1M324.5 283.2h1M330.2 289.7h1M318.7 291.3h1M317.7 289.1h1M328.9 280.8h1M321.5 290.3h1M313.3 294.8h1M318.2 283.1h1M329.5 284.5h1M323.3 294.7h1M333.1 288.6h1M325.1 295.6h1M322.6 287.6h1M327.8 281.5h1M317.0 289.3h1M327.9 289.2h1M320.4 291.2h1M319.3 284.8h1M323.5 287.0h1M313.6 286.4h1M315.1 298.4h1M324.3 283.2h1M322.9 290.8h1M321.5 291.6h1M325.7 294.4h1M315.2 289.5h1M318.3 285.9h1M331.6 290.1h1M314.8 281.2h1M329.3 275.6h1M319.2 280.9h1M324.4 298.3h1M322.5 294.2h1M321.7 292.3h1M327.2 281.3h1M316.5 284.0h1M314.8 291.3h1M326.6 284.9h1M318.4 284.2h1M319.9 283.5h1M319.8 285.3h1M318.3 278.9h1M309.3 291.9h1M320.4 285.5h1M318.0 296.6h1M312.3 298.8h1M317.4 289.1h1M322.5 295.4h1M332.2 295.7h1M317.5 290.7h1M329.7 288.5h1M318.1 296.7h1M324.0 293.2h1M319.4 288.5h1M325.9 286.7h1M321.9 289.6h1M318.5 294.8h1M311.0 293.4h1M327.4 286.2h1M311.3 288.7h1M317.1 290.5h1M332.5 287.2h1M322.6 289.1h1M321.6 284.1h1M321.9 285.0h1M322.6 291.1h1M318.8 290.9h1M323.2 287.8h1M318.9 288.6h1M324.1 293.4h1M325.1 291.1h1M323.3 286.9h1M327.2 293.3h1M333.1 295.6h1M332.2 289.6h1M321.7 292.3h1M328.5 284.7h1M321.8 288.4h1M326.1 292.7h1M318.8 289.6h1M326.6 285.1h1M313.9 286.9h1M322.2 288.3h1M312.5 288.1h1M334.2 289.9h1M319.5 298.4h1M307.7 290.8h1M329.4 287.5h1M327.4 293.4h1M330.0 293.2h1M313.9 283.7h1M323.6 286.2h1M329.7 283.5h1M320.0 291.4h1M323.7 294.3h1M319.8 288.4h1M319.3 296.4h1M330.1 286.4h1M316.3 287.8h1M321.5 289.2h1M325.0 290.6h1M321.5 298.8h1M326.7 283.5h1M308.5 292.7h1M328.6 290.0h1M313.7 296.1h1M319.9 282.3h1M319.1 283.2h1M324.3 299.0h1M320.1 296.5h1M318.5 295.6h1M325.7 288.9h1M334.5 295.5h1M317.4 289.7h1M317.0 283.6h1M317.5 288.9h1M313.4 288.2h1M313.5 283.9h1M318.2 286.5h1M325.8 285.8h1M318.0 292.5h1M316.0 295.0h1M320.5 295.8h1M316.1 295.6h1M338.6 283.7h1M331.1 292.8h1M321.4 294.1h1M310.4 291.9h1M317.6 284.4h1M315.4 273.6h1M315.6 290.5h1M307.3 285.0h1M317.8 294.5h1M317.4 281.5h1M316.9 292.6h1M312.9 287.2h1M323.5 282.3h1M315.7 287.1h1M306.7 288.8h1M314.6 294.2h1M326.2 294.0h1M328.8 296.4h1M313.9 293.7h1M320.0 287.1h1M324.6 287.2h1M326.9 290.5h1M318.1 287.7h1M322.9 280.5h1M318.3 278.2h1M309.5 293.8h1M326.9 290.2h1M323.7 286.8h1M319.7 295.3h1M315.5 290.4h1M317.9 292.3h1M323.2 290.0h1M312.9 295.7h1M330.9 292.4h1M335.6 287.0h1M306.5 289.0h1M326.9 288.3h1M318.3 290.0h1M324.9 290.8h1M322.2 287.2h1M319.9 286.4h1M326.8 289.5h1M321.7 279.8h1M330.5 291.8h1M323.1 291.6h1M311.9 272.5h1M320.0 283.5h1M321.1 289.4h1M317.4 277.2h1M313.3 292.0h1M333.6 295.0h1M320.6 292.2h1M320.9 294.7h1M310.8 289.0h1M324.7 294.3h1M320.4 293.4h1M328.1 288.8h1M331.9 290.0h1M317.0 280.4h1M316.5 282.1h1M328.5 295.1h1M328.0 295.3h1M323.1 285.0h1M325.8 281.1h1M319.2 278.6h1M321.0 295.9h1M321.1 291.4h1M325.9 296.5h1M315.3 294.1h1M317.7 286.4h1M323.1 287.7h1M325.7 295.6h1M321.2 281.7h1M318.2 292.7h1M323.8 287.2h1M321.9 296.6h1M314.8 286.4h1M319.1 285.5h1M318.8 294.8h1M325.4 271.8h1M312.8 295.4h1M316.0 291.1h1M318.7 286.2h1M321.3 293.2h1M336.2 286.8h1M320.0 293.0h1M327.8 290.0h1M326.1 293.7h1M329.3 284.2h1M332.1 285.8h1M315.0 291.2h1M318.9 288.5h1M330.7 284.5h1M334.8 286.6h1M329.3 290.8h1M336.4 282.8h1M325.5 289.2h1M315.9 288.1h1M321.8 278.7h1M323.0 289.5h1M327.0 296.2h1M326.6 287.1h1M315.6 288.3h1M328.7 290.9h1M317.6 286.1h1M322.9 279.8h1M325.3 289.6h1M325.6 287.0h1M324.5 285.9h1M317.7 297.1h1M320.3 290.1h1M327.1 285.4h1M318.2 285.7h1M313.7 298.3h1M305.0 293.9h1M321.3 279.7h1M315.4 292.8h1M321.2 286.7h1M314.3 286.2h1M318.3 295.7h1M318.8 293.4h1M327.2 284.8h1M315.5 289.4h1M313.5 293.0h1M321.8 288.8h1M326.4 291.8h1M315.3 285.6h1M324.3 296.6h1M321.2 297.5h1M324.3 285.8h1M309.2 281.6h1M321.7 286.9h1M319.5 294.3h1M322.4 290.6h1M316.7 289.2h1M320.3 290.5h1M307.1 281.3h1M320.9 289.2h1M329.8 288.9h1M322.3 286.0h1M321.5 293.8h1M323.3 285.9h1M330.1 285.9h1M316.7 293.3h1M311.7 293.0h1M314.0 289.9h1M316.7 290.8h1M321.6 291.6h1M326.3 291.3h1M316.3 284.1h1M314.5 294.1h1M327.9 291.6h1M316.1 288.0h1M325.9 296.0h1M319.8 293.0h1M317.9 285.4h1M320.2 289.0h1M315.5 286.3h1M310.1 295.2h1M311.9 282.2h1M316.1 296.4h1M322.9 285.8h1M323.5 291.1h1M326.5 287.1h1M315.9 291.6h1M320.8 295.9h1M311.7 293.0h1M314.6 282.8h1M327.5 288.1h1M320.1 290.2h1M325.3 286.7h1M317.9 287.3h1M316.5 285.2h1M307.6 289.2h1M329.4 293.1h1M327.3 284.0h1M344.1 297.3h1M334.3 296.5h1M323.1 293.9h1M314.2 292.9h1M318.5 283.6h1M320.8 286.5h1M325.4 282.7h1M327.2 291.2h1M314.6 288.6h1M319.3 284.3h1M311.9 284.3h1M327.5 288.3h1M315.2 291.0h1M313.6 292.2h1M308.2 292.8h1M314.3 289.9h1M309.7 289.7h1M327.8 292.9h1M325.0 286.0h1M313.0 282.1h1M315.1 294.1h1M320.4 278.0h1M321.6 292.6h1M314.0 296.6h1M329.6 282.6h1M325.0 277.2h1M334.0 284.8h1M302.9 291.2h1M310.6 284.1h1M325.6 295.2h1M322.3 293.0h1M319.1 284.0h1M313.4 293.7h1M324.2 281.5h1M317.6 287.0h1M329.7 290.7h1M328.1 296.8h1M326.9 293.9h1M308.9 297.8h1M323.0 281.5h1M332.9 284.6h1M329.0 291.0h1M328.4 298.2h1M315.9 292.3h1M330.5 296.2h1M333.2 282.7h1M323.7 283.2h1M324.3 287.0h1M320.0 286.3h1M322.2 290.1h1M319.0 287.7h1M324.1 283.0h1M319.8 290.7h1M311.0 281.7h1M316.9 285.6h1M323.6 291.2h1M322.3 284.5h1M330.5 289.4h1M327.2 293.1h1M329.4 297.7h1M320.6 296.2h1M328.0 294.4h1M316.3 292.2h1M316.6 282.5h1M326.8 284.7h1M322.5 284.6h1M315.8 286.4h1M327.2 288.7h1M330.5 284.2h1M326.0 287.0h1M329.5 295.7h1M327.0 287.0h1M327.0 278.7h1M315.7 287.9h1M308.8 288.6h1M318.7 287.4h1M317.3 294.6h1M313.6 298.9h1M321.7 286.0h1M316.3 293.7h1M320.9 290.8h1M315.1 288.9h1M319.2 284.8h1M330.7 290.6h1M314.2 278.7h1M309.5 294.7h1M326.0 297.7h1M320.7 277.8h1M318.3 290.5h1M322.9 285.2h1M318.5 286.0h1M327.2 287.9h1M318.9 295.9h1M316.8 293.4h1M324.5 284.7h1M315.6 292.5h1M324.5 290.2h1M339.6 266.3h1M320.0 292.5h1M325.9 280.4h1M325.9 292.2h1M327.8 281.5h1M315.9 295.5h1M319.5 284.4h1M325.4 279.8h1M325.3 286.5h1M324.6 289.9h1M325.1 279.7h1M328.1 289.5h1M320.8 286.0h1M331.2 288.7h1M324.3 276.7h1M329.2 278.2h1M318.0 294.0h1M325.0 283.6h1M334.4 272.5h1M320.0 292.3h1M331.9 284.3h1M323.3 282.8h1M337.9 278.0h1M335.1 272.7h1M327.4 277.0h1M328.6 289.2h1M315.3 288.6h1M322.8 282.7h1M324.6 289.2h1M325.2 277.6h1M335.8 269.0h1M340.4 269.5h1M330.4 280.0h1M331.8 284.2h1M326.5 281.5h1M328.0 277.3h1M322.6 277.8h1M339.1 270.1h1M321.4 284.1h1M332.3 284.9h1M318.8 279.0h1M329.0 269.3h1M334.6 264.0h1M331.9 276.7h1M330.8 281.9h1M333.5 287.1h1M327.0 272.0h1M325.3 284.6h1M337.5 269.5h1M345.3 277.2h1M336.1 276.8h1M338.5 282.3h1M325.3 283.5h1M344.0 274.7h1M319.8 290.6h1M321.2 283.1h1M345.7 272.5h1M324.4 282.5h1M315.5 277.5h1M316.5 290.4h1M331.5 270.7h1M338.0 276.3h1M334.5 285.7h1M318.0 291.7h1M329.4 283.8h1M319.0 281.1h1M332.0 273.0h1M336.5 270.5h1M337.5 285.9h1M329.9 277.1h1M339.7 273.3h1M334.2 264.5h1M318.6 286.1h1M331.8 279.0h1M319.8 287.3h1M322.2 284.4h1M337.5 276.1h1M322.2 289.3h1M323.4 277.5h1M332.7 268.9h1M333.2 280.5h1M319.7 293.5h1M323.4 276.5h1M328.9 284.9h1M317.8 280.9h1M341.8 268.7h1M332.8 285.4h1M323.6 274.5h1M335.4 275.0h1M328.9 279.2h1M315.8 284.2h1M330.9 283.8h1M328.4 274.9h1M327.5 277.5h1M332.2 270.7h1M335.8 277.5h1M333.8 280.0h1M331.7 286.9h1M328.0 279.7h1M339.1 266.6h1M322.0 295.9h1M334.3 272.0h1M333.7 280.8h1M328.9 290.8h1M331.0 283.8h1M326.9 270.4h1M315.7 284.8h1M327.2 276.8h1M335.2 280.6h1M320.0 282.9h1M331.9 282.9h1M338.8 273.5h1M330.4 280.2h1M322.7 285.5h1M315.4 286.9h1M320.9 295.9h1M335.7 275.5h1M332.0 287.5h1M325.0 277.8h1M321.8 275.5h1M328.0 290.2h1M336.8 266.2h1M333.6 277.1h1M337.5 270.7h1M319.9 286.9h1M331.6 275.9h1M329.5 272.7h1M317.0 282.5h1M323.3 286.4h1M320.7 282.6h1M340.9 281.3h1M330.3 279.6h1M328.1 289.9h1M331.8 274.8h1M326.6 287.4h1M327.5 277.6h1M325.0 277.4h1M321.9 284.5h1M334.3 274.4h1M337.1 290.1h1M308.7 288.5h1M325.1 279.1h1M340.9 274.7h1M312.8 292.7h1M335.1 275.9h1M332.5 282.2h1M319.7 287.0h1M326.1 277.9h1M316.4 281.9h1M317.9 289.0h1M332.8 280.4h1M331.0 279.7h1M320.0 295.2h1M323.5 282.0h1M329.5 281.4h1M315.1 286.3h1M329.7 267.1h1M325.3 287.0h1M329.7 276.5h1M334.9 279.3h1M320.1 283.5h1M325.9 272.7h1M326.3 276.4h1M330.2 277.1h1M323.3 280.4h1M334.1 273.9h1M335.0 278.5h1M338.8 271.7h1M337.2 276.2h1M318.7 287.6h1M322.4 281.1h1M328.2 274.3h1M328.2 266.5h1M325.6 286.7h1M332.0 284.6h1M327.3 275.0h1M324.7 277.5h1M332.5 271.5h1M322.8 287.4h1M332.2 278.0h1M322.3 284.1h1M331.1 277.8h1M316.8 279.4h1M326.1 281.6h1M334.1 274.5h1M323.4 287.7h1M326.6 277.3h1M331.0 274.8h1M328.3 281.9h1M335.1 292.2h1M326.5 278.1h1M328.9 293.2h1M330.6 272.7h1M333.5 276.6h1M337.2 267.1h1M334.7 284.1h1M336.2 274.8h1M325.7 284.1h1M334.9 281.7h1M326.4 290.6h1M328.0 276.6h1M327.1 283.2h1M333.3 273.2h1M318.4 296.4h1M320.6 273.5h1M333.4 290.5h1M332.2 275.9h1M317.0 276.7h1M326.5 284.0h1M334.3 270.2h1M324.3 284.2h1M326.2 283.2h1M339.5 278.1h1M308.5 285.5h1M332.4 279.7h1M334.4 283.0h1M326.1 274.1h1M318.8 293.4h1M321.5 291.6h1M321.2 283.2h1M295.4 278.8h1M325.8 278.3h1M315.6 275.8h1M345.9 276.2h1M320.6 279.6h1M337.2 287.3h1M322.9 262.2h1M324.2 272.2h1M308.5 287.3h1M312.6 277.7h1M323.7 274.5h1M318.8 268.6h1M328.8 297.0h1M333.2 273.5h1M326.7 285.0h1M330.5 268.2h1M323.4 274.1h1M328.4 276.4h1M322.5 296.5h1M308.8 298.6h1M341.8 294.0h1M340.1 288.7h1M337.2 289.5h1M312.5 280.7h1M335.8 267.2h1M329.4 290.4h1M323.6 271.4h1M316.8 286.9h1M315.3 275.5h1M312.0 272.2h1M328.8 277.7h1M311.8 273.9h1M322.4 276.1h1M319.6 289.5h1M306.4 283.1h1M327.8 287.8h1M323.9 274.1h1M325.9 281.7h1M281.9 283.6h1M341.7 286.1h1M316.8 260.1h1M312.2 286.0h1M350.5 274.9h1M315.4 254.7h1M327.9 260.2h1M320.3 264.2h1M293.3 289.0h1M338.5 270.7h1M307.8 281.1h1M339.9 279.3h1M309.2 273.6h1M293.1 293.7h1M317.7 281.5h1M314.3 293.6h1M317.0 259.1h1M304.0 269.1h1M329.4 265.5h1M313.2 271.4h1M318.7 283.1h1M348.0 265.0h1M327.2 256.6h1M312.8 275.0h1M323.1 262.2h1M300.1 279.4h1M313.3 280.5h1M318.8 272.4h1M318.1 293.5h1M333.7 280.3h1M310.7 267.4h1M317.9 295.7h1M314.5 280.2h1M335.2 278.5h1M331.1 287.5h1M304.8 287.7h1M345.2 284.0h1M339.5 278.8h1M317.9 274.5h1" stroke="#000" stroke-width="1" stroke-opacity="0.27" fill="none" filter="url(#bl)"/>
<line x1="266.4" y1="199.9" x2="305.1" y2="199.9" stroke="#9a9a9a" stroke-width="1"/>
<polyline points="266.4,199.4 266.4,300.0 362.2,300.0 362.2,199.70000000000002" fill="none" stroke="#5e5e5e" stroke-width="1"/>
<line x1="305.1" y1="199.70000000000002" x2="362.7" y2="199.70000000000002" stroke="#505050" stroke-width="1.6"/>
<polyline points="305.10,199.90 305.10,251.50 304.70,252.80 303.70,254.40 275.20,300.00" fill="none" stroke="#858585" stroke-width="1"/>
<line x1="265.2" y1="300.0" x2="266.4" y2="300.0" stroke="#777" stroke-width="0.7"/>
<text x="264.50" y="297.20" font-size="4.8" text-anchor="middle" font-weight="normal" fill="#444" transform="rotate(-90 264.4 297.2)">10<tspan dy="-1.6" font-size="3.2">0</tspan></text>
<line x1="265.2" y1="274.975" x2="266.4" y2="274.975" stroke="#777" stroke-width="0.7"/>
<text x="264.50" y="273.18" font-size="4.8" text-anchor="middle" font-weight="normal" fill="#444" transform="rotate(-90 264.4 273.175)">10<tspan dy="-1.6" font-size="3.2">1</tspan></text>
<line x1="265.2" y1="249.95" x2="266.4" y2="249.95" stroke="#777" stroke-width="0.7"/>
<text x="264.50" y="248.15" font-size="4.8" text-anchor="middle" font-weight="normal" fill="#444" transform="rotate(-90 264.4 248.14999999999998)">10<tspan dy="-1.6" font-size="3.2">2</tspan></text>
<line x1="265.2" y1="224.925" x2="266.4" y2="224.925" stroke="#777" stroke-width="0.7"/>
<text x="264.50" y="223.12" font-size="4.8" text-anchor="middle" font-weight="normal" fill="#444" transform="rotate(-90 264.4 223.125)">10<tspan dy="-1.6" font-size="3.2">3</tspan></text>
<line x1="265.2" y1="199.9" x2="266.4" y2="199.9" stroke="#777" stroke-width="0.7"/>
<text x="264.50" y="198.70" font-size="4.8" text-anchor="middle" font-weight="normal" fill="#444" transform="rotate(-90 264.4 198.70000000000002)">10<tspan dy="-1.6" font-size="3.2">4</tspan></text>
<text x="259.50" y="249.95" font-size="4.3" text-anchor="middle" font-weight="normal" fill="#444" transform="rotate(-90 259.5 249.95)">Empty</text>
<text x="267.60" y="304.60" font-size="4.0" text-anchor="middle" font-weight="normal" fill="#777" >10<tspan dy="-1.3" font-size="2.8">0</tspan></text>
<text x="363.20" y="304.60" font-size="4.0" text-anchor="middle" font-weight="normal" fill="#777" >10<tspan dy="-1.3" font-size="2.8">4</tspan></text>
<text x="340.10" y="215.00" font-size="13.5" text-anchor="middle" font-weight="normal" fill="#000" stroke="#000" stroke-width="0.22">25%</text>
<text x="314.30" y="313.60" font-size="11.4" text-anchor="middle" font-weight="normal" fill="#000" stroke="#000" stroke-width="0.2">GFP</text>
<text x="314.40" y="334.40" font-size="13.25" text-anchor="middle" font-weight="normal" fill="#000" stroke="#000" stroke-width="0.2">&#8211; cyt Ara-C</text>
<path d="M405.9 281.7h1M407.8 281.9h1M406.0 283.8h1M415.3 276.6h1M410.6 280.0h1M407.9 281.5h1M410.2 274.9h1M412.0 284.2h1M417.5 282.0h1M418.0 277.1h1M410.3 281.1h1M405.9 282.7h1M404.8 286.9h1M418.4 276.3h1M410.5 279.3h1M406.9 284.1h1M410.4 283.8h1M405.0 286.8h1M416.0 277.3h1M411.5 281.3h1M407.2 282.3h1M403.0 287.4h1M419.8 274.7h1M409.5 280.5h1M399.4 290.0h1M408.4 285.8h1M411.1 284.1h1M407.7 277.9h1M402.9 283.7h1M416.5 279.7h1M413.1 280.8h1M410.7 282.8h1M405.0 282.2h1M401.7 288.7h1M408.5 284.8h1M409.5 283.7h1M403.4 285.3h1M410.5 280.2h1M414.0 279.9h1M407.9 284.2h1M409.7 285.9h1M406.8 278.4h1M416.8 275.2h1M418.1 279.1h1M400.7 286.3h1M407.7 284.2h1M423.6 275.4h1M407.0 281.7h1M418.4 276.4h1M414.7 283.6h1M414.0 275.5h1M405.6 280.1h1M411.7 283.7h1M411.7 279.4h1M409.7 282.2h1M409.7 282.5h1M418.1 279.1h1M408.7 282.3h1M417.3 279.1h1M408.1 285.6h1M408.4 283.3h1M414.6 281.3h1M412.7 280.8h1M414.2 278.5h1M414.1 287.1h1M407.1 278.9h1M406.2 281.9h1M401.2 286.1h1M407.4 282.9h1M414.9 278.7h1M409.3 282.0h1M413.8 285.3h1M415.0 276.8h1M404.2 283.6h1M411.5 280.9h1M406.7 283.4h1M414.5 277.2h1M404.4 289.0h1M408.7 283.9h1M409.0 285.9h1M406.9 281.5h1M408.1 285.2h1M418.6 275.4h1M408.1 281.9h1M407.1 280.0h1M403.1 287.2h1M402.2 284.9h1M407.4 286.1h1M404.9 287.3h1M412.9 281.1h1M410.9 289.0h1M409.5 285.9h1M406.6 279.2h1M406.5 286.4h1M404.3 287.0h1M407.1 284.9h1M410.2 280.6h1M410.6 284.1h1M402.2 280.4h1M415.4 274.2h1M412.4 281.9h1M413.2 280.0h1M418.2 278.2h1M405.2 284.8h1M413.6 277.8h1M412.1 282.5h1M411.4 281.4h1M400.6 284.6h1M407.4 286.6h1M408.5 280.2h1M410.9 283.8h1M417.2 276.9h1M408.9 284.5h1M412.4 283.0h1M407.1 281.5h1M404.8 287.9h1M408.2 283.3h1M410.0 281.3h1M417.9 275.9h1M414.9 276.8h1M407.5 284.1h1M406.1 285.7h1M408.9 281.1h1M408.8 286.0h1M421.3 273.5h1M412.3 277.2h1M410.3 283.1h1M408.2 284.9h1M403.1 283.5h1M409.9 282.9h1M397.6 290.6h1M408.5 283.9h1M407.6 283.4h1M417.4 277.3h1M402.1 288.7h1M411.0 275.0h1M408.5 283.4h1M414.2 280.2h1M407.5 285.9h1M413.5 282.7h1M414.2 279.6h1M423.4 275.2h1M407.4 286.4h1M408.7 281.7h1M408.6 281.2h1M409.0 286.3h1M410.5 283.6h1M407.8 279.0h1M407.0 281.5h1M403.6 290.2h1M411.4 281.4h1M401.0 284.3h1M410.2 283.1h1M415.9 280.1h1M405.0 287.7h1M409.3 282.4h1M410.6 281.0h1M409.0 281.3h1M407.1 282.8h1M410.4 282.5h1M416.4 283.9h1M408.8 290.1h1M409.0 282.4h1M411.3 277.0h1M407.1 284.0h1M404.1 285.8h1M413.1 278.9h1M410.9 276.7h1M414.2 278.5h1M409.1 281.0h1M407.1 284.4h1M414.8 274.0h1M415.7 277.7h1M412.0 277.1h1M406.6 282.4h1M409.7 280.5h1M405.2 284.2h1M404.5 284.8h1M409.7 280.7h1M410.6 279.8h1M411.6 278.8h1M409.7 280.7h1M418.8 274.1h1M408.1 288.7h1M417.2 278.9h1M407.4 282.4h1M412.4 276.3h1M407.3 287.2h1M420.0 274.2h1M417.0 277.5h1M404.3 289.7h1M413.4 274.1h1M410.1 280.3h1M414.4 279.1h1M411.9 284.4h1M409.3 282.3h1M403.9 287.0h1M407.9 283.6h1M409.9 282.0h1M402.7 288.2h1M404.8 284.5h1M409.2 280.7h1M411.6 279.7h1M408.9 284.6h1M418.0 279.0h1M407.9 284.0h1M412.6 279.3h1M417.7 279.4h1M407.3 285.7h1M416.4 279.1h1M409.3 282.2h1M405.7 284.2h1M418.1 277.0h1M417.4 275.8h1M410.3 285.0h1M413.9 276.6h1M415.1 278.9h1M410.1 282.0h1M418.9 272.3h1M409.2 281.7h1M405.8 282.4h1M409.9 281.2h1M409.4 281.8h1M411.8 287.9h1M407.5 281.1h1M405.0 287.7h1M412.4 278.9h1M404.5 287.3h1M414.8 277.3h1M412.3 278.0h1M410.4 285.7h1M410.0 285.1h1M404.9 281.2h1M410.1 281.6h1M417.8 275.0h1M409.6 277.9h1M408.5 283.6h1M419.0 276.4h1M408.5 283.3h1M409.3 283.9h1M422.4 277.2h1M412.7 278.6h1M417.4 279.7h1M416.0 283.3h1M408.9 274.9h1M413.1 279.0h1M415.6 281.4h1M420.9 274.5h1M404.1 284.9h1M401.3 292.8h1M410.2 284.3h1M401.4 284.4h1M412.1 282.7h1M404.6 285.8h1M410.7 282.0h1M413.8 275.9h1M408.7 284.6h1M407.1 284.7h1M412.7 277.4h1M406.4 283.9h1M411.8 284.5h1M411.7 285.0h1M402.4 283.9h1M415.3 279.3h1M404.9 285.2h1M413.7 277.7h1M412.4 280.9h1M407.4 288.3h1M409.4 284.0h1M412.9 277.1h1M409.1 283.0h1M421.0 274.7h1M407.2 287.3h1M415.7 277.5h1M402.9 288.0h1M409.4 283.2h1M415.7 279.4h1M399.0 285.5h1M413.4 283.3h1M405.6 286.4h1M400.3 291.2h1M399.8 296.7h1M401.4 291.1h1M408.1 290.1h1M398.7 292.5h1M398.4 297.9h1M401.1 289.8h1M402.1 293.3h1M400.3 291.4h1M398.5 297.4h1M400.1 288.6h1M401.2 288.8h1M399.1 288.8h1M404.5 292.3h1M397.4 292.6h1M395.2 296.6h1M402.0 292.8h1M406.9 287.6h1M400.0 288.8h1M404.3 283.6h1M398.5 287.0h1M398.2 289.7h1M396.9 291.2h1M402.8 286.5h1M397.2 294.8h1M396.4 289.7h1M396.6 288.8h1M401.2 290.7h1M403.0 294.4h1M394.7 292.4h1M396.8 293.3h1M404.8 287.3h1M402.1 292.9h1M401.5 292.7h1M398.5 290.9h1M402.3 292.2h1M398.2 292.7h1M404.4 290.2h1M405.3 292.7h1M396.8 286.8h1M400.5 286.3h1M397.7 288.7h1M397.1 289.5h1M403.0 289.1h1M400.1 291.4h1M400.6 296.1h1M406.7 290.4h1M400.1 292.0h1M401.2 289.8h1M405.3 289.1h1M397.3 294.5h1M398.6 290.7h1M403.9 290.3h1M398.6 290.6h1M398.8 291.7h1M399.5 291.0h1M398.4 290.5h1M398.3 290.4h1M401.4 290.2h1" stroke="#000" stroke-width="1" stroke-opacity="0.42" fill="none" filter="url(#bl)"/>
<path d="M450.2 278.3h1M441.5 292.1h1M464.3 275.1h1M464.2 294.0h1M460.5 299.0h1M450.4 286.5h1M443.7 277.8h1M443.2 281.0h1M437.5 281.1h1M448.6 292.9h1M437.6 280.0h1M452.0 281.5h1M453.3 297.9h1M446.9 278.7h1M446.9 282.7h1M450.6 296.5h1M448.5 275.7h1M464.4 270.4h1M444.1 282.3h1M446.2 288.6h1M447.3 286.8h1M449.5 283.3h1M452.8 278.2h1M455.4 293.0h1M448.5 283.6h1M463.5 282.6h1M436.5 287.4h1M453.1 297.2h1M451.4 288.4h1M439.8 284.9h1M451.8 291.4h1M460.0 272.3h1M454.1 282.6h1M450.3 287.0h1M448.5 282.3h1M447.1 281.7h1M447.8 283.3h1M455.9 280.4h1M459.3 283.4h1M455.2 287.7h1M445.5 289.8h1M455.3 279.7h1M458.9 285.7h1M436.6 281.6h1M453.3 293.5h1M451.7 288.6h1M440.9 290.1h1M442.6 285.3h1M450.0 290.7h1M446.5 285.8h1M447.0 278.4h1M443.9 295.9h1M459.1 291.6h1M443.3 287.2h1M452.8 290.6h1M447.3 299.0h1M452.8 284.0h1M459.4 292.4h1M452.8 288.5h1M449.8 272.1h1M442.6 284.8h1M459.5 291.3h1M463.5 289.8h1M435.9 286.5h1M455.3 278.6h1M449.4 289.1h1M440.9 288.6h1M464.2 291.1h1M467.0 287.7h1M444.6 295.0h1M447.1 290.8h1M451.3 290.9h1M448.3 280.4h1M459.6 278.9h1M454.9 290.8h1M458.2 286.5h1M451.8 296.6h1M456.7 293.2h1M449.8 293.3h1M440.9 282.0h1M454.5 287.3h1M450.2 293.5h1M444.6 283.6h1M442.1 287.7h1M460.1 296.1h1M437.9 287.3h1M444.2 289.3h1M453.5 296.2h1M455.4 290.8h1M452.6 277.4h1M439.0 288.5h1M459.2 287.8h1M449.8 290.0h1M459.1 295.7h1M450.0 288.7h1M436.4 283.0h1M430.1 293.6h1M449.4 289.0h1M445.8 296.9h1M452.8 289.9h1M451.9 294.7h1M444.6 282.1h1M454.0 286.4h1M452.4 288.1h1M442.5 281.9h1M456.8 290.4h1M452.3 285.0h1M449.3 285.1h1M453.4 282.8h1M444.4 287.0h1M444.5 276.2h1M449.9 293.9h1M443.4 290.5h1M462.5 291.6h1M452.6 296.4h1M456.3 289.6h1M464.7 285.5h1M462.0 297.0h1M467.1 284.9h1M444.1 288.7h1M463.6 272.4h1M447.6 283.8h1M449.2 287.4h1M452.5 292.1h1M451.5 291.2h1M450.7 294.3h1M453.3 283.6h1M462.8 283.6h1M433.9 289.0h1M439.6 281.9h1M440.8 284.7h1M453.2 287.8h1M451.8 273.4h1M454.0 276.3h1M465.7 290.2h1M451.2 282.3h1M439.9 292.6h1M454.3 283.9h1M465.1 280.0h1M466.4 291.6h1M450.5 285.5h1M452.2 289.8h1M453.6 282.5h1M455.7 281.6h1M449.9 284.9h1M447.3 281.7h1M463.1 285.9h1M462.9 280.1h1M451.2 289.6h1M446.5 292.6h1M446.2 290.4h1M442.1 278.3h1M441.4 295.7h1M448.9 274.9h1M445.4 288.6h1M453.2 287.8h1M447.0 292.5h1M443.8 282.4h1M448.0 283.6h1M431.5 295.2h1M453.8 295.0h1M449.1 280.0h1M461.7 285.2h1M447.5 281.6h1M449.8 269.0h1M443.9 295.0h1M467.2 282.5h1M453.1 287.5h1M460.5 288.9h1M448.4 278.1h1M455.6 293.4h1M443.6 282.4h1M446.2 276.9h1M448.6 289.4h1M444.0 288.3h1M456.6 283.3h1M457.5 286.7h1M460.2 298.9h1M443.8 292.0h1M446.4 287.2h1M450.6 284.6h1M441.1 284.1h1M448.8 273.5h1M458.9 295.6h1M451.6 283.6h1M450.0 271.9h1M442.1 277.3h1M448.3 277.6h1M456.2 271.7h1M458.7 281.8h1M437.8 282.9h1M453.9 298.5h1M448.0 286.5h1M443.5 283.0h1M465.1 285.9h1M455.9 288.4h1M442.4 294.0h1M442.8 296.2h1M452.1 273.4h1M439.2 276.8h1M449.1 286.9h1M440.4 283.6h1M452.0 294.7h1M454.0 283.2h1M445.5 283.1h1M453.5 285.3h1M455.8 296.8h1M453.9 283.7h1M445.4 287.6h1M457.2 289.4h1M448.0 293.5h1M452.2 287.5h1M451.1 293.4h1M450.6 299.0h1M435.0 292.7h1M458.7 284.5h1M454.3 286.2h1M451.6 289.1h1M455.3 285.3h1M447.3 279.3h1M449.4 280.6h1M454.5 283.3h1M433.8 273.4h1M445.9 293.2h1M448.2 283.2h1M446.4 281.9h1M444.5 295.8h1M452.4 277.3h1M456.6 280.0h1M454.1 294.4h1M458.5 286.6h1M454.5 292.6h1M462.0 287.9h1M462.8 287.2h1M447.0 282.7h1M444.3 290.5h1M446.0 288.9h1M447.9 288.8h1M456.2 284.2h1M454.6 295.6h1M452.2 287.7h1M445.4 291.4h1M447.3 279.0h1M449.0 275.6h1M452.3 292.3h1M427.2 282.6h1M452.5 281.3h1M454.4 289.7h1M445.0 296.5h1M461.6 285.2h1M456.5 285.1h1M456.0 290.3h1M438.2 291.0h1M456.7 287.7h1M451.8 274.5h1M452.1 292.6h1M432.8 281.8h1M448.2 282.3h1M440.1 288.7h1M460.7 286.8h1M441.8 288.6h1M453.4 285.4h1M472.5 294.4h1M451.0 287.3h1M462.1 284.8h1M447.2 292.6h1M441.7 289.6h1M453.4 285.9h1M460.6 280.4h1M446.4 290.2h1M455.2 286.3h1M450.8 291.7h1M452.3 283.2h1M446.0 277.2h1M451.8 283.1h1M454.0 274.1h1M445.0 292.1h1M430.4 288.3h1M455.7 290.3h1M445.4 287.2h1M455.0 298.2h1M444.0 296.9h1M453.7 295.5h1M448.9 268.4h1M448.2 280.9h1M450.3 288.0h1M453.5 293.5h1M437.0 268.0h1M460.4 298.4h1M458.6 289.6h1M453.2 298.5h1M437.9 279.1h1M457.3 281.9h1M450.7 279.9h1M463.5 282.9h1M447.1 281.8h1M449.2 275.0h1M458.4 296.4h1M434.0 291.0h1M447.6 281.4h1M449.3 272.8h1M432.6 295.4h1M443.3 271.1h1M452.5 279.4h1M453.3 278.3h1M463.6 282.0h1M458.1 290.4h1M440.2 293.2h1M456.9 289.4h1M453.7 278.9h1M451.6 296.3h1M441.8 295.5h1M465.3 292.7h1M453.1 279.6h1M444.4 281.7h1M441.8 281.6h1M442.0 282.7h1M457.7 291.7h1M437.4 288.6h1M459.7 284.3h1M449.4 295.2h1M453.5 286.5h1M456.7 283.1h1M469.5 282.7h1M456.6 277.9h1M449.5 285.4h1M453.7 280.9h1M451.9 286.3h1M451.1 289.7h1M451.6 290.3h1M443.0 283.8h1M440.2 278.9h1M459.7 292.0h1M447.9 287.2h1M441.7 289.0h1M456.0 282.2h1M456.1 281.5h1M451.7 291.5h1M439.0 274.8h1M440.6 287.9h1M455.1 276.7h1M468.5 274.1h1M452.9 287.5h1M453.1 283.0h1M444.1 274.6h1M459.5 288.0h1M446.0 287.7h1M451.2 288.2h1M444.5 283.7h1M441.4 275.6h1M444.9 292.1h1M443.6 292.2h1M447.7 289.7h1M462.9 288.9h1M453.2 295.4h1M446.5 293.9h1M454.1 291.9h1M446.4 282.6h1M459.7 294.1h1M457.1 280.9h1M448.1 289.7h1M450.5 280.0h1M451.5 285.8h1M443.0 292.5h1M441.9 284.8h1M449.9 293.7h1M443.9 283.6h1M450.7 298.7h1M457.6 285.9h1M455.5 292.0h1M464.7 286.7h1M447.6 279.1h1M462.2 284.0h1M442.0 278.2h1M452.4 276.0h1M449.7 289.1h1M439.5 295.8h1M461.1 284.3h1M457.7 280.9h1M443.4 285.4h1M449.4 285.5h1M450.4 294.9h1M453.5 286.0h1M440.4 281.2h1M437.5 278.6h1M462.3 274.8h1M446.1 286.5h1M445.1 276.0h1M449.2 292.0h1M445.4 285.3h1M467.8 282.0h1M454.6 297.1h1M457.5 274.7h1M458.0 293.3h1M467.7 287.7h1M433.5 288.8h1M457.1 286.9h1M452.4 279.0h1M451.6 291.2h1M460.2 295.4h1M455.9 272.7h1M437.5 287.7h1M453.0 286.1h1M449.7 284.8h1M459.7 289.8h1M434.7 285.5h1M456.0 284.1h1M452.1 295.3h1M456.2 280.1h1M454.1 284.0h1M434.6 283.9h1M456.4 281.2h1M450.7 283.2h1M444.8 296.7h1M458.4 281.0h1M464.0 275.7h1M459.4 269.7h1M442.3 281.9h1M457.1 277.9h1M451.0 295.6h1M450.8 290.0h1M449.8 279.2h1M459.0 285.4h1M444.7 284.6h1M438.9 287.8h1M453.6 288.7h1M441.1 290.6h1M441.0 288.4h1M450.6 286.8h1M442.2 280.7h1M459.6 287.4h1M442.4 288.3h1M463.6 277.3h1M457.4 287.3h1M451.8 277.9h1M456.0 274.9h1M452.6 286.2h1M469.6 290.4h1M455.0 293.4h1M446.4 282.8h1M454.0 276.4h1M448.3 280.4h1M450.5 284.9h1M446.4 285.9h1M446.8 290.1h1M457.7 285.4h1M450.7 294.2h1M457.1 282.2h1M448.6 290.1h1M450.3 291.3h1M447.3 289.5h1M461.1 290.5h1M463.9 279.1h1M450.3 293.0h1M458.1 283.1h1M439.7 285.5h1M445.4 280.0h1M454.3 271.0h1M456.5 285.1h1M447.9 278.3h1M465.1 279.4h1M454.4 287.1h1M458.2 275.7h1M453.6 272.8h1M458.6 273.8h1M454.8 276.1h1M446.3 283.7h1M455.3 275.3h1M459.5 277.2h1M468.9 267.1h1M469.6 268.0h1M462.9 273.9h1M467.6 278.0h1M453.2 282.3h1M449.0 285.2h1M460.5 275.0h1M463.7 279.6h1M462.9 278.5h1M461.3 276.1h1M459.0 276.4h1M458.0 281.9h1M456.2 286.5h1M460.5 273.3h1M458.3 280.7h1M458.5 265.9h1M451.7 279.1h1M456.6 282.5h1M446.4 277.6h1M456.7 269.4h1M452.0 284.8h1M434.1 285.3h1M450.2 282.5h1M458.7 291.1h1M458.0 280.4h1M460.1 287.8h1M470.7 277.6h1M456.7 274.3h1M463.1 272.6h1M467.9 272.3h1M467.8 277.1h1M468.0 279.1h1M456.2 284.8h1M461.1 277.7h1M452.9 275.6h1M465.8 278.5h1M451.1 280.2h1M464.8 278.9h1M457.8 287.0h1M457.6 269.1h1M472.0 279.5h1M465.0 271.1h1M457.7 285.5h1M469.3 274.9h1M451.1 296.1h1M462.1 282.5h1M452.4 293.5h1M459.9 282.1h1M446.3 282.9h1M456.2 278.5h1M454.4 285.8h1M469.0 275.2h1M472.7 266.9h1M460.9 271.2h1M460.3 268.1h1M460.7 276.5h1M466.2 291.0h1M455.2 279.8h1M447.5 283.9h1M453.7 285.8h1M465.1 277.1h1M454.8 281.8h1M453.5 269.0h1M448.8 281.5h1M471.2 263.1h1M468.7 273.3h1M454.6 277.0h1M469.6 267.0h1M457.3 271.6h1M463.1 270.3h1M463.3 288.2h1M456.8 284.7h1M468.6 272.2h1M459.8 271.3h1M459.2 269.3h1M467.6 276.9h1M458.2 278.0h1M456.1 283.8h1M461.0 277.7h1M445.6 289.5h1M450.0 268.8h1M468.1 275.7h1M461.5 286.9h1M470.6 268.2h1M454.4 280.2h1M450.9 285.7h1M460.6 274.4h1M450.3 272.8h1M460.5 273.9h1M452.9 282.5h1M464.6 279.7h1M455.0 274.4h1M458.1 276.2h1M464.1 273.4h1M453.6 285.1h1M462.5 287.2h1M467.1 274.8h1M468.0 274.2h1M458.5 270.1h1M454.9 291.4h1M453.3 271.1h1M459.0 286.4h1M458.0 284.0h1M447.1 288.2h1M439.6 287.0h1M465.9 275.2h1M461.5 272.4h1M451.7 292.5h1M445.5 269.7h1M458.1 278.9h1M444.9 272.2h1M461.1 276.3h1M453.7 280.0h1M450.5 290.2h1M450.8 277.0h1M457.3 272.5h1M444.0 276.0h1M461.1 272.8h1M465.1 273.5h1M460.7 274.4h1M458.0 271.9h1M455.9 278.6h1M462.9 277.9h1M453.2 284.3h1M434.8 284.9h1M450.8 281.1h1M464.4 267.1h1M455.4 262.3h1M451.8 287.4h1M456.7 281.5h1M448.9 279.1h1M450.7 287.8h1M455.7 281.8h1M461.1 272.6h1M458.5 279.8h1M454.7 279.6h1M440.0 288.9h1M475.6 270.3h1M444.1 279.7h1M463.4 286.2h1M463.6 275.3h1M457.0 276.4h1M464.2 275.8h1M438.1 288.9h1M449.7 282.6h1M458.8 290.6h1M451.5 285.0h1M454.7 293.4h1M459.0 257.9h1M460.3 261.3h1M445.8 276.5h1M468.0 270.8h1M453.0 282.8h1M450.1 275.8h1M463.1 276.2h1M441.5 282.5h1M433.1 295.8h1M454.9 293.7h1M468.7 286.2h1M454.2 298.1h1M464.3 274.2h1M468.0 269.4h1M440.1 261.5h1M445.9 261.9h1M454.0 290.5h1M463.9 282.8h1M459.8 278.6h1M454.1 276.2h1M467.0 259.7h1M449.3 253.8h1M454.3 272.5h1M441.3 281.5h1M443.2 251.2h1M477.1 288.6h1M460.0 269.3h1M456.2 284.8h1M456.8 295.8h1M441.3 280.8h1M471.3 286.2h1M457.0 290.6h1M454.3 280.7h1M472.1 277.6h1M443.4 272.7h1M447.2 285.9h1M470.2 265.7h1M460.8 274.8h1M431.0 289.7h1M456.6 291.2h1M440.9 281.8h1M444.7 280.0h1M447.9 276.9h1M441.0 279.4h1M480.5 276.4h1M443.8 264.4h1M446.4 283.4h1M461.5 261.9h1M431.4 281.0h1M452.8 290.0h1M478.2 293.4h1M453.8 282.3h1M460.2 285.6h1M450.6 283.5h1M456.1 273.6h1M463.2 277.7h1M454.6 292.3h1M455.3 282.2h1M454.9 274.8h1M424.3 284.7h1M467.8 281.2h1M477.2 267.4h1M468.4 286.7h1M450.6 263.2h1M451.1 290.9h1M454.8 269.2h1M480.3 269.5h1M482.7 296.8h1M447.7 295.7h1M472.4 266.7h1M441.8 279.5h1M447.9 293.8h1M455.1 291.8h1M461.9 276.8h1M453.2 290.0h1M465.5 270.5h1M446.2 247.5h1M479.8 284.7h1M431.9 281.8h1M457.4 286.5h1M461.9 275.0h1M473.7 269.2h1M420.4 280.8h1M453.2 290.2h1M464.7 292.4h1M448.5 291.1h1M459.8 283.6h1M465.4 269.3h1M465.8 276.4h1M452.3 286.2h1M451.7 248.9h1M445.9 280.7h1M464.8 286.7h1M452.4 298.7h1M472.3 295.4h1M439.2 275.7h1M462.2 277.9h1M430.7 281.9h1M452.9 270.0h1M487.3 263.4h1M438.1 287.3h1M448.8 292.4h1M460.3 258.6h1M437.7 284.3h1M416.8 280.7h1M463.4 298.6h1M467.0 269.1h1M451.9 271.6h1M457.1 286.8h1M472.7 285.5h1M448.9 269.0h1M470.6 268.4h1M475.5 275.6h1M444.8 269.7h1M477.6 290.6h1M463.6 276.9h1M452.1 281.4h1M448.5 266.9h1M473.8 288.5h1M430.7 271.0h1M428.2 279.9h1M467.4 267.2h1" stroke="#000" stroke-width="1" stroke-opacity="0.24" fill="none" filter="url(#bl)"/>
<line x1="394.0" y1="199.9" x2="433.0" y2="199.9" stroke="#9a9a9a" stroke-width="1"/>
<polyline points="394.0,199.4 394.0,300.0 490.2,300.0 490.2,199.70000000000002" fill="none" stroke="#5e5e5e" stroke-width="1"/>
<line x1="433.0" y1="199.70000000000002" x2="490.7" y2="199.70000000000002" stroke="#505050" stroke-width="1.6"/>
<polyline points="433.00,199.90 433.00,253.40 432.60,254.70 431.60,256.30 403.80,300.00" fill="none" stroke="#858585" stroke-width="1"/>
<line x1="392.8" y1="300.0" x2="394.0" y2="300.0" stroke="#777" stroke-width="0.7"/>
<text x="392.10" y="297.20" font-size="4.8" text-anchor="middle" font-weight="normal" fill="#444" transform="rotate(-90 392.0 297.2)">10<tspan dy="-1.6" font-size="3.2">0</tspan></text>
<line x1="392.8" y1="274.975" x2="394.0" y2="274.975" stroke="#777" stroke-width="0.7"/>
<text x="392.10" y="273.18" font-size="4.8" text-anchor="middle" font-weight="normal" fill="#444" transform="rotate(-90 392.0 273.175)">10<tspan dy="-1.6" font-size="3.2">1</tspan></text>
<line x1="392.8" y1="249.95" x2="394.0" y2="249.95" stroke="#777" stroke-width="0.7"/>
<text x="392.10" y="248.15" font-size="4.8" text-anchor="middle" font-weight="normal" fill="#444" transform="rotate(-90 392.0 248.14999999999998)">10<tspan dy="-1.6" font-size="3.2">2</tspan></text>
<line x1="392.8" y1="224.925" x2="394.0" y2="224.925" stroke="#777" stroke-width="0.7"/>
<text x="392.10" y="223.12" font-size="4.8" text-anchor="middle" font-weight="normal" fill="#444" transform="rotate(-90 392.0 223.125)">10<tspan dy="-1.6" font-size="3.2">3</tspan></text>
<line x1="392.8" y1="199.9" x2="394.0" y2="199.9" stroke="#777" stroke-width="0.7"/>
<text x="392.10" y="198.70" font-size="4.8" text-anchor="middle" font-weight="normal" fill="#444" transform="rotate(-90 392.0 198.70000000000002)">10<tspan dy="-1.6" font-size="3.2">4</tspan></text>
<text x="387.10" y="249.95" font-size="4.3" text-anchor="middle" font-weight="normal" fill="#444" transform="rotate(-90 387.1 249.95)">Empty</text>
<text x="395.20" y="304.60" font-size="4.0" text-anchor="middle" font-weight="normal" fill="#777" >10<tspan dy="-1.3" font-size="2.8">0</tspan></text>
<text x="491.20" y="304.60" font-size="4.0" text-anchor="middle" font-weight="normal" fill="#777" >10<tspan dy="-1.3" font-size="2.8">4</tspan></text>
<text x="468.60" y="215.00" font-size="13.5" text-anchor="middle" font-weight="normal" fill="#000" stroke="#000" stroke-width="0.22">56%</text>
<text x="442.00" y="313.60" font-size="11.4" text-anchor="middle" font-weight="normal" fill="#000" stroke="#000" stroke-width="0.2">GFP</text>
<text x="442.50" y="334.40" font-size="13.25" text-anchor="middle" font-weight="normal" fill="#000" stroke="#000" stroke-width="0.2">+ cyt Ara-C</text>
</svg></body></html>
